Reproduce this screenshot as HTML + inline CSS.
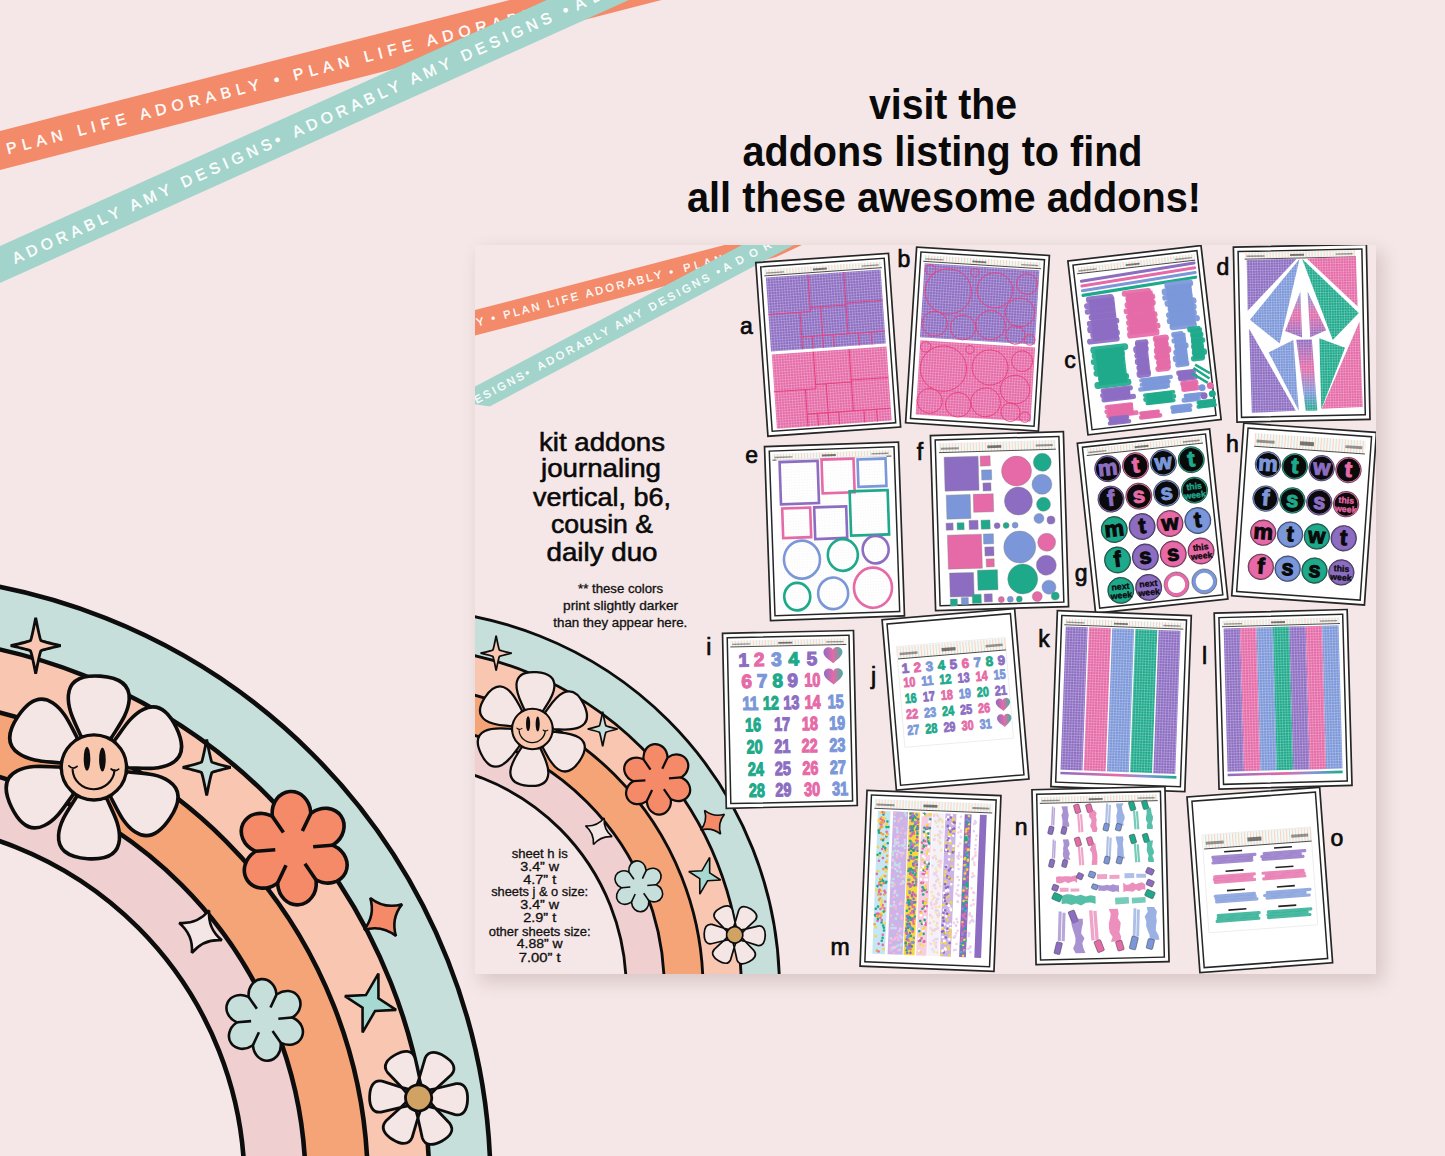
<!DOCTYPE html><html><head><meta charset="utf-8"><style>html,body{margin:0;padding:0;width:1445px;height:1156px;overflow:hidden;background:#f5e7e7}svg{display:block}text{font-family:"Liberation Sans",sans-serif}</style></head><body>
<svg width="1445" height="1156" viewBox="0 0 1445 1156">
<defs><filter id="sh" x="-10%" y="-10%" width="120%" height="120%"><feGaussianBlur stdDeviation="9"/></filter>
<clipPath id="cardclip"><rect x="475" y="245" width="901" height="729"/></clipPath>
<pattern id="gP" width="2.6" height="2.6" patternUnits="userSpaceOnUse"><rect width="2.6" height="2.6" fill="#8c6dc2"/><path d="M0,0.3H2.6M0.3,0V2.6" stroke="#fff" stroke-opacity=".42" stroke-width=".55"/></pattern>
<pattern id="gK" width="2.6" height="2.6" patternUnits="userSpaceOnUse"><rect width="2.6" height="2.6" fill="#e56aa7"/><path d="M0,0.3H2.6M0.3,0V2.6" stroke="#fff" stroke-opacity=".42" stroke-width=".55"/></pattern>
<pattern id="gB" width="2.6" height="2.6" patternUnits="userSpaceOnUse"><rect width="2.6" height="2.6" fill="#7b97d9"/><path d="M0,0.3H2.6M0.3,0V2.6" stroke="#fff" stroke-opacity=".42" stroke-width=".55"/></pattern>
<pattern id="gG" width="2.6" height="2.6" patternUnits="userSpaceOnUse"><rect width="2.6" height="2.6" fill="#1ea98b"/><path d="M0,0.3H2.6M0.3,0V2.6" stroke="#fff" stroke-opacity=".42" stroke-width=".55"/></pattern>
<pattern id="gW" width="2.6" height="2.6" patternUnits="userSpaceOnUse"><rect width="2.6" height="2.6" fill="#fff"/><path d="M0,0.3H2.6M0.3,0V2.6" stroke="#999" stroke-opacity=".3" stroke-width=".4"/></pattern>
<pattern id="gX" width="2.6" height="2.6" patternUnits="userSpaceOnUse"><path d="M0,0.3H2.6M0.3,0V2.6" stroke="#fff" stroke-opacity=".42" stroke-width=".55"/></pattern>
<pattern id="hdr" width="6" height="8" patternUnits="userSpaceOnUse"><rect width="6" height="8" fill="#fdf6f2"/><rect x="0" width="1.2" height="8" fill="#f6c9b3"/><rect x="3" width="1.2" height="8" fill="#bfe3dc"/></pattern>
<linearGradient id="grad1" x1="0" x2="1"><stop offset="0" stop-color="#8c6dc2"/><stop offset=".5" stop-color="#e56aa7"/><stop offset=".75" stop-color="#7b97d9"/><stop offset="1" stop-color="#1ea98b"/></linearGradient>
<linearGradient id="heart" x1="0" x2="1"><stop offset="0" stop-color="#8c6dc2"/><stop offset=".5" stop-color="#e56aa7"/><stop offset="1" stop-color="#3fb3a0"/></linearGradient>
<linearGradient id="vg1" x1="0" y1="0" x2="0" y2="1"><stop offset="0" stop-color="#7b97d9"/><stop offset=".5" stop-color="#e56aa7"/><stop offset="1" stop-color="#8c6dc2"/></linearGradient>
<linearGradient id="vg2" x1="0" y1="0" x2="0" y2="1"><stop offset="0" stop-color="#8c6dc2"/><stop offset=".4" stop-color="#e56aa7"/><stop offset=".75" stop-color="#7b97d9"/><stop offset="1" stop-color="#1ea98b"/></linearGradient>
</defs>
<rect width="1445" height="1156" fill="#f5e7e7"/>
<polygon points="-10,133.57 700,-48.900000000000006 700,-9.900000000000006 -10,172.57" fill="#f38a69"/>
<text transform="translate(7.9,154.2) rotate(-14.41)" font-size="15.5" fill="#fff" stroke="#fff" stroke-width="0.39" textLength="281.4" lengthAdjust="spacing">PLAN LIFE ADORABLY •</text>
<text transform="translate(294.7,80.5) rotate(-14.41)" font-size="15.5" fill="#fff" stroke="#fff" stroke-width="0.39" textLength="281.6" lengthAdjust="spacing">PLAN LIFE ADORABLY •</text>
<text transform="translate(581.4,6.8) rotate(-14.41)" font-size="15.5" fill="#fff" stroke="#fff" stroke-width="0.39" textLength="278.8" lengthAdjust="spacing">PLAN LIFE ADORABLY</text>
<polygon points="-10,250.5 700,-69.0 700,-32.0 -10,287.5" fill="#a3d4cb"/>
<text transform="translate(15.3,264.0) rotate(-24.28)" font-size="15.5" fill="#fff" stroke="#fff" stroke-width="0.39" textLength="292.9" lengthAdjust="spacing">ADORABLY AMY DESIGNS•</text>
<text transform="translate(295.3,137.7) rotate(-24.28)" font-size="15.5" fill="#fff" stroke="#fff" stroke-width="0.39" textLength="301.7" lengthAdjust="spacing">ADORABLY AMY DESIGNS •</text>
<text transform="translate(577.3,10.5) rotate(-24.28)" font-size="15.5" fill="#fff" stroke="#fff" stroke-width="0.39" textLength="202.9" lengthAdjust="spacing">ADORABLY AMY</text>
<circle cx="-118.5" cy="1184.4" r="609" fill="#c6dfdb" stroke="#0d0d0d" stroke-width="4.6"/>
<circle cx="-118.5" cy="1184.4" r="547.8" fill="#f9c7b1" stroke="#0d0d0d" stroke-width="4.6"/>
<circle cx="-118.5" cy="1184.4" r="486.3" fill="#f5a477" stroke="#0d0d0d" stroke-width="4.6"/>
<circle cx="-118.5" cy="1184.4" r="424.1" fill="#efcfcf" stroke="#0d0d0d" stroke-width="4.6"/>
<circle cx="-118.5" cy="1184.4" r="363" fill="#f5e7e7" stroke="#0d0d0d" stroke-width="4.6"/>
<path transform="translate(35.7,645.7) rotate(0)" d="M0,-28 Q4.16,-6.760000000000001 5.2,-5.2 Q6.760000000000001,-4.16 25,0 Q6.760000000000001,4.16 5.2,5.2 Q4.16,6.760000000000001 0,28 Q-4.16,6.760000000000001 -5.2,5.2 Q-6.760000000000001,4.16 -25,0 Q-6.760000000000001,-4.16 -5.2,-5.2 Q-4.16,-6.760000000000001 0,-28 Z" fill="#f9c7b1" stroke="#0d0d0d" stroke-width="2.8" stroke-linejoin="miter" stroke-miterlimit="2"/>
<path transform="translate(206.7,767.4) rotate(0)" d="M0,-28 Q4.16,-6.760000000000001 5.2,-5.2 Q6.760000000000001,-4.16 24,0 Q6.760000000000001,4.16 5.2,5.2 Q4.16,6.760000000000001 0,28 Q-4.16,6.760000000000001 -5.2,5.2 Q-6.760000000000001,4.16 -24,0 Q-6.760000000000001,-4.16 -5.2,-5.2 Q-4.16,-6.760000000000001 0,-28 Z" fill="#c6dfdb" stroke="#0d0d0d" stroke-width="2.8" stroke-linejoin="miter" stroke-miterlimit="2"/>
<g transform="translate(93.9,767.4)">
<g transform="rotate(4)">
<path transform="rotate(0)" d="M-15,-30 C-21,-42 -30.5,-55 -30.5,-70 C-30.5,-85 -19,-91.5 0,-91.5 C19,-91.5 30.5,-85 30.5,-70 C30.5,-55 21,-42 15,-30 Z" fill="#f5e6e6" stroke="#0d0d0d" stroke-width="3.6" stroke-linejoin="round"/>
<path transform="rotate(60)" d="M-15,-30 C-21,-42 -30.5,-55 -30.5,-70 C-30.5,-85 -19,-91.5 0,-91.5 C19,-91.5 30.5,-85 30.5,-70 C30.5,-55 21,-42 15,-30 Z" fill="#f5e6e6" stroke="#0d0d0d" stroke-width="3.6" stroke-linejoin="round"/>
<path transform="rotate(120)" d="M-15,-30 C-21,-42 -30.5,-55 -30.5,-70 C-30.5,-85 -19,-91.5 0,-91.5 C19,-91.5 30.5,-85 30.5,-70 C30.5,-55 21,-42 15,-30 Z" fill="#f5e6e6" stroke="#0d0d0d" stroke-width="3.6" stroke-linejoin="round"/>
<path transform="rotate(180)" d="M-15,-30 C-21,-42 -30.5,-55 -30.5,-70 C-30.5,-85 -19,-91.5 0,-91.5 C19,-91.5 30.5,-85 30.5,-70 C30.5,-55 21,-42 15,-30 Z" fill="#f5e6e6" stroke="#0d0d0d" stroke-width="3.6" stroke-linejoin="round"/>
<path transform="rotate(240)" d="M-15,-30 C-21,-42 -30.5,-55 -30.5,-70 C-30.5,-85 -19,-91.5 0,-91.5 C19,-91.5 30.5,-85 30.5,-70 C30.5,-55 21,-42 15,-30 Z" fill="#f5e6e6" stroke="#0d0d0d" stroke-width="3.6" stroke-linejoin="round"/>
<path transform="rotate(300)" d="M-15,-30 C-21,-42 -30.5,-55 -30.5,-70 C-30.5,-85 -19,-91.5 0,-91.5 C19,-91.5 30.5,-85 30.5,-70 C30.5,-55 21,-42 15,-30 Z" fill="#f5e6e6" stroke="#0d0d0d" stroke-width="3.6" stroke-linejoin="round"/>
</g>
<circle r="32.6" fill="#f9c6ae" stroke="#0d0d0d" stroke-width="3.3"/>
<ellipse cx="-6.9" cy="-8.6" rx="3.3" ry="12" fill="#0d0d0d"/>
<ellipse cx="8.5" cy="-8" rx="3.3" ry="12" fill="#0d0d0d"/>
<path d="M-21.3,2.5 A21,20.5 0 0 0 20.6,3" fill="none" stroke="#0d0d0d" stroke-width="2.1" stroke-linecap="round"/>
<path d="M-25,-1.5 Q-21,2.5 -16.8,-1 M17.2,1.6 Q21,4.8 24.8,1.8" fill="none" stroke="#0d0d0d" stroke-width="1.7" stroke-linecap="round"/>
</g>
<g transform="translate(294.2,848.2) rotate(-4.5)">
<ellipse cx="0" cy="-35.00" rx="17.50" ry="20.00" transform="rotate(0)" fill="#f48a68" stroke="#0d0d0d" stroke-width="7.20"/>
<ellipse cx="0" cy="-35.00" rx="17.50" ry="20.00" transform="rotate(60)" fill="#f48a68" stroke="#0d0d0d" stroke-width="7.20"/>
<ellipse cx="0" cy="-35.00" rx="17.50" ry="20.00" transform="rotate(120)" fill="#f48a68" stroke="#0d0d0d" stroke-width="7.20"/>
<ellipse cx="0" cy="-35.00" rx="17.50" ry="20.00" transform="rotate(180)" fill="#f48a68" stroke="#0d0d0d" stroke-width="7.20"/>
<ellipse cx="0" cy="-35.00" rx="17.50" ry="20.00" transform="rotate(240)" fill="#f48a68" stroke="#0d0d0d" stroke-width="7.20"/>
<ellipse cx="0" cy="-35.00" rx="17.50" ry="20.00" transform="rotate(300)" fill="#f48a68" stroke="#0d0d0d" stroke-width="7.20"/>
<ellipse cx="0" cy="-35.00" rx="17.50" ry="20.00" transform="rotate(0)" fill="#f48a68"/>
<ellipse cx="0" cy="-35.00" rx="17.50" ry="20.00" transform="rotate(60)" fill="#f48a68"/>
<ellipse cx="0" cy="-35.00" rx="17.50" ry="20.00" transform="rotate(120)" fill="#f48a68"/>
<ellipse cx="0" cy="-35.00" rx="17.50" ry="20.00" transform="rotate(180)" fill="#f48a68"/>
<ellipse cx="0" cy="-35.00" rx="17.50" ry="20.00" transform="rotate(240)" fill="#f48a68"/>
<ellipse cx="0" cy="-35.00" rx="17.50" ry="20.00" transform="rotate(300)" fill="#f48a68"/>
<circle r="33.00" fill="#f48a68"/>
<line x1="9.50" y1="-16.45" x2="19.00" y2="-32.91" stroke="#0d0d0d" stroke-width="3.60" stroke-linecap="butt"/>
<line x1="19.00" y1="0.00" x2="38.00" y2="0.00" stroke="#0d0d0d" stroke-width="3.60" stroke-linecap="butt"/>
<line x1="9.50" y1="16.45" x2="19.00" y2="32.91" stroke="#0d0d0d" stroke-width="3.60" stroke-linecap="butt"/>
<line x1="-9.50" y1="16.45" x2="-19.00" y2="32.91" stroke="#0d0d0d" stroke-width="3.60" stroke-linecap="butt"/>
<line x1="-19.00" y1="0.00" x2="-38.00" y2="0.00" stroke="#0d0d0d" stroke-width="3.60" stroke-linecap="butt"/>
<line x1="-9.50" y1="-16.45" x2="-19.00" y2="-32.91" stroke="#0d0d0d" stroke-width="3.60" stroke-linecap="butt"/>
</g>
<path transform="translate(383.1,917) rotate(56)" d="M0,-23 Q5.5,-5.5 23,0 Q5.5,5.5 0,23 Q-5.5,5.5 -23,0 Q-5.5,-5.5 0,-23 Z" fill="#f48a68" stroke="#0d0d0d" stroke-width="2.6" stroke-linejoin="miter" stroke-miterlimit="2"/>
<path transform="translate(200.5,931.6) rotate(22)" d="M0,-23 Q5.5,-5.5 23,0 Q5.5,5.5 0,23 Q-5.5,5.5 -23,0 Q-5.5,-5.5 0,-23 Z" fill="#f5e6e6" stroke="#0d0d0d" stroke-width="2.6" stroke-linejoin="miter" stroke-miterlimit="2"/>
<path transform="translate(370.5,1003) rotate(15)" d="M0,-30.5 L6.5,-6.5 L26.5,0 L6.5,6.5 L0,30.5 L-6.5,6.5 L-26.5,0 L-6.5,-6.5 Z" fill="#a6d9d1" stroke="#0d0d0d" stroke-width="2.6" stroke-linejoin="miter" stroke-miterlimit="2"/>
<g transform="translate(264.7,1019.9) rotate(-5)">
<ellipse cx="0" cy="-25.20" rx="12.60" ry="14.40" transform="rotate(0)" fill="#c6dfdb" stroke="#0d0d0d" stroke-width="5.18"/>
<ellipse cx="0" cy="-25.20" rx="12.60" ry="14.40" transform="rotate(60)" fill="#c6dfdb" stroke="#0d0d0d" stroke-width="5.18"/>
<ellipse cx="0" cy="-25.20" rx="12.60" ry="14.40" transform="rotate(120)" fill="#c6dfdb" stroke="#0d0d0d" stroke-width="5.18"/>
<ellipse cx="0" cy="-25.20" rx="12.60" ry="14.40" transform="rotate(180)" fill="#c6dfdb" stroke="#0d0d0d" stroke-width="5.18"/>
<ellipse cx="0" cy="-25.20" rx="12.60" ry="14.40" transform="rotate(240)" fill="#c6dfdb" stroke="#0d0d0d" stroke-width="5.18"/>
<ellipse cx="0" cy="-25.20" rx="12.60" ry="14.40" transform="rotate(300)" fill="#c6dfdb" stroke="#0d0d0d" stroke-width="5.18"/>
<ellipse cx="0" cy="-25.20" rx="12.60" ry="14.40" transform="rotate(0)" fill="#c6dfdb"/>
<ellipse cx="0" cy="-25.20" rx="12.60" ry="14.40" transform="rotate(60)" fill="#c6dfdb"/>
<ellipse cx="0" cy="-25.20" rx="12.60" ry="14.40" transform="rotate(120)" fill="#c6dfdb"/>
<ellipse cx="0" cy="-25.20" rx="12.60" ry="14.40" transform="rotate(180)" fill="#c6dfdb"/>
<ellipse cx="0" cy="-25.20" rx="12.60" ry="14.40" transform="rotate(240)" fill="#c6dfdb"/>
<ellipse cx="0" cy="-25.20" rx="12.60" ry="14.40" transform="rotate(300)" fill="#c6dfdb"/>
<circle r="23.76" fill="#c6dfdb"/>
<line x1="6.84" y1="-11.85" x2="13.68" y2="-23.69" stroke="#0d0d0d" stroke-width="2.59" stroke-linecap="butt"/>
<line x1="13.68" y1="0.00" x2="27.36" y2="0.00" stroke="#0d0d0d" stroke-width="2.59" stroke-linecap="butt"/>
<line x1="6.84" y1="11.85" x2="13.68" y2="23.69" stroke="#0d0d0d" stroke-width="2.59" stroke-linecap="butt"/>
<line x1="-6.84" y1="11.85" x2="-13.68" y2="23.69" stroke="#0d0d0d" stroke-width="2.59" stroke-linecap="butt"/>
<line x1="-13.68" y1="0.00" x2="-27.36" y2="0.00" stroke="#0d0d0d" stroke-width="2.59" stroke-linecap="butt"/>
<line x1="-6.84" y1="-11.85" x2="-13.68" y2="-23.69" stroke="#0d0d0d" stroke-width="2.59" stroke-linecap="butt"/>
</g>
<g transform="translate(418.6,1097.9) rotate(32)">
<path transform="rotate(0)" d="M0,-8 L-10,-17.3 L-15.5,-37 C-17,-46 -9,-49 0,-49 C9,-49 17,-46 15.5,-37 L10,-17.3 Z" fill="#f5e6e6" stroke="#0d0d0d" stroke-width="2.8" stroke-linejoin="round"/>
<path transform="rotate(60)" d="M0,-8 L-10,-17.3 L-15.5,-37 C-17,-46 -9,-49 0,-49 C9,-49 17,-46 15.5,-37 L10,-17.3 Z" fill="#f5e6e6" stroke="#0d0d0d" stroke-width="2.8" stroke-linejoin="round"/>
<path transform="rotate(120)" d="M0,-8 L-10,-17.3 L-15.5,-37 C-17,-46 -9,-49 0,-49 C9,-49 17,-46 15.5,-37 L10,-17.3 Z" fill="#f5e6e6" stroke="#0d0d0d" stroke-width="2.8" stroke-linejoin="round"/>
<path transform="rotate(180)" d="M0,-8 L-10,-17.3 L-15.5,-37 C-17,-46 -9,-49 0,-49 C9,-49 17,-46 15.5,-37 L10,-17.3 Z" fill="#f5e6e6" stroke="#0d0d0d" stroke-width="2.8" stroke-linejoin="round"/>
<path transform="rotate(240)" d="M0,-8 L-10,-17.3 L-15.5,-37 C-17,-46 -9,-49 0,-49 C9,-49 17,-46 15.5,-37 L10,-17.3 Z" fill="#f5e6e6" stroke="#0d0d0d" stroke-width="2.8" stroke-linejoin="round"/>
<path transform="rotate(300)" d="M0,-8 L-10,-17.3 L-15.5,-37 C-17,-46 -9,-49 0,-49 C9,-49 17,-46 15.5,-37 L10,-17.3 Z" fill="#f5e6e6" stroke="#0d0d0d" stroke-width="2.8" stroke-linejoin="round"/>
<circle r="13.1" fill="#d0a264" stroke="#0d0d0d" stroke-width="2.8"/>
</g>
<g fill="#0a0a0a" font-weight="bold" text-anchor="middle" font-size="42">
<text x="943" y="119" textLength="148" lengthAdjust="spacingAndGlyphs">visit the</text>
<text x="942.5" y="166" textLength="400" lengthAdjust="spacingAndGlyphs">addons listing to find</text>
<text x="944" y="211.5" textLength="514" lengthAdjust="spacingAndGlyphs">all these awesome addons!</text></g>
<rect x="480" y="251" width="903" height="731" fill="#5a3a3a" opacity="0.19" filter="url(#sh)"/>
<rect x="475" y="245" width="901" height="729" fill="#f5e7e7"/>
<g clip-path="url(#cardclip)">
<polygon points="470,311.3 900,199.3 776,257.1 470,336.8" fill="#f38a69"/>
<text transform="translate(477.5,326.2) rotate(-14.60)" font-size="11" fill="#fff" stroke="#fff" stroke-width="0.28" textLength="19.1" lengthAdjust="spacing">Y •</text>
<text transform="translate(504.5,319.1) rotate(-14.60)" font-size="11" fill="#fff" stroke="#fff" stroke-width="0.28" textLength="175.2" lengthAdjust="spacing">PLAN LIFE ADORABLY •</text>
<text transform="translate(684.5,272.3) rotate(-14.60)" font-size="11" fill="#fff" stroke="#fff" stroke-width="0.28" textLength="182.4" lengthAdjust="spacing">PLAN LIFE ADORABLY</text>
<polygon points="470,389.1 900,161.2 900,188.9 489.7,406.4 470,403.5" fill="#a3d4cb"/>
<text transform="translate(476.8,403.8) rotate(-27.92)" font-size="11" fill="#fff" stroke="#fff" stroke-width="0.28" textLength="61.1" lengthAdjust="spacing">ESIGNS•</text>
<text transform="translate(539.4,370.6) rotate(-27.92)" font-size="11" fill="#fff" stroke="#fff" stroke-width="0.28" textLength="206.4" lengthAdjust="spacing">ADORABLY AMY DESIGNS •</text>
<text transform="translate(725.3,272.1) rotate(-27.92)" font-size="11" fill="#fff" stroke="#fff" stroke-width="0.28" textLength="109.2" lengthAdjust="spacing">ADORABLY</text>
<g transform="translate(473.9,250.9) scale(0.623)"><circle cx="-118.5" cy="1184.4" r="609" fill="#c6dfdb" stroke="#0d0d0d" stroke-width="4.6"/>
<circle cx="-118.5" cy="1184.4" r="547.8" fill="#f9c7b1" stroke="#0d0d0d" stroke-width="4.6"/>
<circle cx="-118.5" cy="1184.4" r="486.3" fill="#f5a477" stroke="#0d0d0d" stroke-width="4.6"/>
<circle cx="-118.5" cy="1184.4" r="424.1" fill="#efcfcf" stroke="#0d0d0d" stroke-width="4.6"/>
<circle cx="-118.5" cy="1184.4" r="363" fill="#f5e7e7" stroke="#0d0d0d" stroke-width="4.6"/>
<path transform="translate(35.7,645.7) rotate(0)" d="M0,-28 Q4.16,-6.760000000000001 5.2,-5.2 Q6.760000000000001,-4.16 25,0 Q6.760000000000001,4.16 5.2,5.2 Q4.16,6.760000000000001 0,28 Q-4.16,6.760000000000001 -5.2,5.2 Q-6.760000000000001,4.16 -25,0 Q-6.760000000000001,-4.16 -5.2,-5.2 Q-4.16,-6.760000000000001 0,-28 Z" fill="#f9c7b1" stroke="#0d0d0d" stroke-width="2.8" stroke-linejoin="miter" stroke-miterlimit="2"/>
<path transform="translate(206.7,767.4) rotate(0)" d="M0,-28 Q4.16,-6.760000000000001 5.2,-5.2 Q6.760000000000001,-4.16 24,0 Q6.760000000000001,4.16 5.2,5.2 Q4.16,6.760000000000001 0,28 Q-4.16,6.760000000000001 -5.2,5.2 Q-6.760000000000001,4.16 -24,0 Q-6.760000000000001,-4.16 -5.2,-5.2 Q-4.16,-6.760000000000001 0,-28 Z" fill="#c6dfdb" stroke="#0d0d0d" stroke-width="2.8" stroke-linejoin="miter" stroke-miterlimit="2"/>
<g transform="translate(93.9,767.4)">
<g transform="rotate(4)">
<path transform="rotate(0)" d="M-15,-30 C-21,-42 -30.5,-55 -30.5,-70 C-30.5,-85 -19,-91.5 0,-91.5 C19,-91.5 30.5,-85 30.5,-70 C30.5,-55 21,-42 15,-30 Z" fill="#f5e6e6" stroke="#0d0d0d" stroke-width="3.6" stroke-linejoin="round"/>
<path transform="rotate(60)" d="M-15,-30 C-21,-42 -30.5,-55 -30.5,-70 C-30.5,-85 -19,-91.5 0,-91.5 C19,-91.5 30.5,-85 30.5,-70 C30.5,-55 21,-42 15,-30 Z" fill="#f5e6e6" stroke="#0d0d0d" stroke-width="3.6" stroke-linejoin="round"/>
<path transform="rotate(120)" d="M-15,-30 C-21,-42 -30.5,-55 -30.5,-70 C-30.5,-85 -19,-91.5 0,-91.5 C19,-91.5 30.5,-85 30.5,-70 C30.5,-55 21,-42 15,-30 Z" fill="#f5e6e6" stroke="#0d0d0d" stroke-width="3.6" stroke-linejoin="round"/>
<path transform="rotate(180)" d="M-15,-30 C-21,-42 -30.5,-55 -30.5,-70 C-30.5,-85 -19,-91.5 0,-91.5 C19,-91.5 30.5,-85 30.5,-70 C30.5,-55 21,-42 15,-30 Z" fill="#f5e6e6" stroke="#0d0d0d" stroke-width="3.6" stroke-linejoin="round"/>
<path transform="rotate(240)" d="M-15,-30 C-21,-42 -30.5,-55 -30.5,-70 C-30.5,-85 -19,-91.5 0,-91.5 C19,-91.5 30.5,-85 30.5,-70 C30.5,-55 21,-42 15,-30 Z" fill="#f5e6e6" stroke="#0d0d0d" stroke-width="3.6" stroke-linejoin="round"/>
<path transform="rotate(300)" d="M-15,-30 C-21,-42 -30.5,-55 -30.5,-70 C-30.5,-85 -19,-91.5 0,-91.5 C19,-91.5 30.5,-85 30.5,-70 C30.5,-55 21,-42 15,-30 Z" fill="#f5e6e6" stroke="#0d0d0d" stroke-width="3.6" stroke-linejoin="round"/>
</g>
<circle r="32.6" fill="#f9c6ae" stroke="#0d0d0d" stroke-width="3.3"/>
<ellipse cx="-6.9" cy="-8.6" rx="3.3" ry="12" fill="#0d0d0d"/>
<ellipse cx="8.5" cy="-8" rx="3.3" ry="12" fill="#0d0d0d"/>
<path d="M-21.3,2.5 A21,20.5 0 0 0 20.6,3" fill="none" stroke="#0d0d0d" stroke-width="2.1" stroke-linecap="round"/>
<path d="M-25,-1.5 Q-21,2.5 -16.8,-1 M17.2,1.6 Q21,4.8 24.8,1.8" fill="none" stroke="#0d0d0d" stroke-width="1.7" stroke-linecap="round"/>
</g>
<g transform="translate(294.2,848.2) rotate(-4.5)">
<ellipse cx="0" cy="-35.00" rx="17.50" ry="20.00" transform="rotate(0)" fill="#f48a68" stroke="#0d0d0d" stroke-width="7.20"/>
<ellipse cx="0" cy="-35.00" rx="17.50" ry="20.00" transform="rotate(60)" fill="#f48a68" stroke="#0d0d0d" stroke-width="7.20"/>
<ellipse cx="0" cy="-35.00" rx="17.50" ry="20.00" transform="rotate(120)" fill="#f48a68" stroke="#0d0d0d" stroke-width="7.20"/>
<ellipse cx="0" cy="-35.00" rx="17.50" ry="20.00" transform="rotate(180)" fill="#f48a68" stroke="#0d0d0d" stroke-width="7.20"/>
<ellipse cx="0" cy="-35.00" rx="17.50" ry="20.00" transform="rotate(240)" fill="#f48a68" stroke="#0d0d0d" stroke-width="7.20"/>
<ellipse cx="0" cy="-35.00" rx="17.50" ry="20.00" transform="rotate(300)" fill="#f48a68" stroke="#0d0d0d" stroke-width="7.20"/>
<ellipse cx="0" cy="-35.00" rx="17.50" ry="20.00" transform="rotate(0)" fill="#f48a68"/>
<ellipse cx="0" cy="-35.00" rx="17.50" ry="20.00" transform="rotate(60)" fill="#f48a68"/>
<ellipse cx="0" cy="-35.00" rx="17.50" ry="20.00" transform="rotate(120)" fill="#f48a68"/>
<ellipse cx="0" cy="-35.00" rx="17.50" ry="20.00" transform="rotate(180)" fill="#f48a68"/>
<ellipse cx="0" cy="-35.00" rx="17.50" ry="20.00" transform="rotate(240)" fill="#f48a68"/>
<ellipse cx="0" cy="-35.00" rx="17.50" ry="20.00" transform="rotate(300)" fill="#f48a68"/>
<circle r="33.00" fill="#f48a68"/>
<line x1="9.50" y1="-16.45" x2="19.00" y2="-32.91" stroke="#0d0d0d" stroke-width="3.60" stroke-linecap="butt"/>
<line x1="19.00" y1="0.00" x2="38.00" y2="0.00" stroke="#0d0d0d" stroke-width="3.60" stroke-linecap="butt"/>
<line x1="9.50" y1="16.45" x2="19.00" y2="32.91" stroke="#0d0d0d" stroke-width="3.60" stroke-linecap="butt"/>
<line x1="-9.50" y1="16.45" x2="-19.00" y2="32.91" stroke="#0d0d0d" stroke-width="3.60" stroke-linecap="butt"/>
<line x1="-19.00" y1="0.00" x2="-38.00" y2="0.00" stroke="#0d0d0d" stroke-width="3.60" stroke-linecap="butt"/>
<line x1="-9.50" y1="-16.45" x2="-19.00" y2="-32.91" stroke="#0d0d0d" stroke-width="3.60" stroke-linecap="butt"/>
</g>
<path transform="translate(383.1,917) rotate(56)" d="M0,-23 Q5.5,-5.5 23,0 Q5.5,5.5 0,23 Q-5.5,5.5 -23,0 Q-5.5,-5.5 0,-23 Z" fill="#f48a68" stroke="#0d0d0d" stroke-width="2.6" stroke-linejoin="miter" stroke-miterlimit="2"/>
<path transform="translate(200.5,931.6) rotate(22)" d="M0,-23 Q5.5,-5.5 23,0 Q5.5,5.5 0,23 Q-5.5,5.5 -23,0 Q-5.5,-5.5 0,-23 Z" fill="#f5e6e6" stroke="#0d0d0d" stroke-width="2.6" stroke-linejoin="miter" stroke-miterlimit="2"/>
<path transform="translate(370.5,1003) rotate(15)" d="M0,-30.5 L6.5,-6.5 L26.5,0 L6.5,6.5 L0,30.5 L-6.5,6.5 L-26.5,0 L-6.5,-6.5 Z" fill="#a6d9d1" stroke="#0d0d0d" stroke-width="2.6" stroke-linejoin="miter" stroke-miterlimit="2"/>
<g transform="translate(264.7,1019.9) rotate(-5)">
<ellipse cx="0" cy="-25.20" rx="12.60" ry="14.40" transform="rotate(0)" fill="#c6dfdb" stroke="#0d0d0d" stroke-width="5.18"/>
<ellipse cx="0" cy="-25.20" rx="12.60" ry="14.40" transform="rotate(60)" fill="#c6dfdb" stroke="#0d0d0d" stroke-width="5.18"/>
<ellipse cx="0" cy="-25.20" rx="12.60" ry="14.40" transform="rotate(120)" fill="#c6dfdb" stroke="#0d0d0d" stroke-width="5.18"/>
<ellipse cx="0" cy="-25.20" rx="12.60" ry="14.40" transform="rotate(180)" fill="#c6dfdb" stroke="#0d0d0d" stroke-width="5.18"/>
<ellipse cx="0" cy="-25.20" rx="12.60" ry="14.40" transform="rotate(240)" fill="#c6dfdb" stroke="#0d0d0d" stroke-width="5.18"/>
<ellipse cx="0" cy="-25.20" rx="12.60" ry="14.40" transform="rotate(300)" fill="#c6dfdb" stroke="#0d0d0d" stroke-width="5.18"/>
<ellipse cx="0" cy="-25.20" rx="12.60" ry="14.40" transform="rotate(0)" fill="#c6dfdb"/>
<ellipse cx="0" cy="-25.20" rx="12.60" ry="14.40" transform="rotate(60)" fill="#c6dfdb"/>
<ellipse cx="0" cy="-25.20" rx="12.60" ry="14.40" transform="rotate(120)" fill="#c6dfdb"/>
<ellipse cx="0" cy="-25.20" rx="12.60" ry="14.40" transform="rotate(180)" fill="#c6dfdb"/>
<ellipse cx="0" cy="-25.20" rx="12.60" ry="14.40" transform="rotate(240)" fill="#c6dfdb"/>
<ellipse cx="0" cy="-25.20" rx="12.60" ry="14.40" transform="rotate(300)" fill="#c6dfdb"/>
<circle r="23.76" fill="#c6dfdb"/>
<line x1="6.84" y1="-11.85" x2="13.68" y2="-23.69" stroke="#0d0d0d" stroke-width="2.59" stroke-linecap="butt"/>
<line x1="13.68" y1="0.00" x2="27.36" y2="0.00" stroke="#0d0d0d" stroke-width="2.59" stroke-linecap="butt"/>
<line x1="6.84" y1="11.85" x2="13.68" y2="23.69" stroke="#0d0d0d" stroke-width="2.59" stroke-linecap="butt"/>
<line x1="-6.84" y1="11.85" x2="-13.68" y2="23.69" stroke="#0d0d0d" stroke-width="2.59" stroke-linecap="butt"/>
<line x1="-13.68" y1="0.00" x2="-27.36" y2="0.00" stroke="#0d0d0d" stroke-width="2.59" stroke-linecap="butt"/>
<line x1="-6.84" y1="-11.85" x2="-13.68" y2="-23.69" stroke="#0d0d0d" stroke-width="2.59" stroke-linecap="butt"/>
</g>
<g transform="translate(418.6,1097.9) rotate(32)">
<path transform="rotate(0)" d="M0,-8 L-10,-17.3 L-15.5,-37 C-17,-46 -9,-49 0,-49 C9,-49 17,-46 15.5,-37 L10,-17.3 Z" fill="#f5e6e6" stroke="#0d0d0d" stroke-width="2.8" stroke-linejoin="round"/>
<path transform="rotate(60)" d="M0,-8 L-10,-17.3 L-15.5,-37 C-17,-46 -9,-49 0,-49 C9,-49 17,-46 15.5,-37 L10,-17.3 Z" fill="#f5e6e6" stroke="#0d0d0d" stroke-width="2.8" stroke-linejoin="round"/>
<path transform="rotate(120)" d="M0,-8 L-10,-17.3 L-15.5,-37 C-17,-46 -9,-49 0,-49 C9,-49 17,-46 15.5,-37 L10,-17.3 Z" fill="#f5e6e6" stroke="#0d0d0d" stroke-width="2.8" stroke-linejoin="round"/>
<path transform="rotate(180)" d="M0,-8 L-10,-17.3 L-15.5,-37 C-17,-46 -9,-49 0,-49 C9,-49 17,-46 15.5,-37 L10,-17.3 Z" fill="#f5e6e6" stroke="#0d0d0d" stroke-width="2.8" stroke-linejoin="round"/>
<path transform="rotate(240)" d="M0,-8 L-10,-17.3 L-15.5,-37 C-17,-46 -9,-49 0,-49 C9,-49 17,-46 15.5,-37 L10,-17.3 Z" fill="#f5e6e6" stroke="#0d0d0d" stroke-width="2.8" stroke-linejoin="round"/>
<path transform="rotate(300)" d="M0,-8 L-10,-17.3 L-15.5,-37 C-17,-46 -9,-49 0,-49 C9,-49 17,-46 15.5,-37 L10,-17.3 Z" fill="#f5e6e6" stroke="#0d0d0d" stroke-width="2.8" stroke-linejoin="round"/>
<circle r="13.1" fill="#d0a264" stroke="#0d0d0d" stroke-width="2.8"/>
</g></g>
<g fill="#0a0a0a" stroke="#0a0a0a" stroke-width="0.55" text-anchor="middle" font-size="25">
<text x="602" y="450.8" textLength="126" lengthAdjust="spacingAndGlyphs">kit addons</text>
<text x="601" y="477" textLength="120" lengthAdjust="spacingAndGlyphs">journaling</text>
<text x="602" y="505.6" textLength="138" lengthAdjust="spacingAndGlyphs">vertical, b6,</text>
<text x="602" y="533" textLength="102" lengthAdjust="spacingAndGlyphs">cousin &amp;</text>
<text x="602" y="560.8" textLength="111" lengthAdjust="spacingAndGlyphs">daily duo</text>
</g><g fill="#111" stroke="#111" stroke-width="0.3" text-anchor="middle" font-size="12.5">
<text x="620.6" y="593.2" textLength="85" lengthAdjust="spacingAndGlyphs">** these colors</text>
<text x="620.6" y="610.3" textLength="115" lengthAdjust="spacingAndGlyphs">print slightly darker</text>
<text x="620.3" y="627" textLength="134" lengthAdjust="spacingAndGlyphs">than they appear here.</text>
</g><g fill="#111" stroke="#111" stroke-width="0.3" text-anchor="middle" font-size="12.5">
<text x="539.7" y="858.2" textLength="56" lengthAdjust="spacingAndGlyphs">sheet h is</text>
<text x="539.7" y="871.4" textLength="39" lengthAdjust="spacingAndGlyphs">3.4” w</text>
<text x="539.7" y="883.6" textLength="33" lengthAdjust="spacingAndGlyphs">4.7” t</text>
<text x="539.7" y="896" textLength="97" lengthAdjust="spacingAndGlyphs">sheets j &amp; o size:</text>
<text x="539.7" y="909" textLength="39" lengthAdjust="spacingAndGlyphs">3.4” w</text>
<text x="539.7" y="922.4" textLength="33" lengthAdjust="spacingAndGlyphs">2.9” t</text>
<text x="539.7" y="935.5" textLength="102" lengthAdjust="spacingAndGlyphs">other sheets size:</text>
<text x="539.7" y="948" textLength="46" lengthAdjust="spacingAndGlyphs">4.88” w</text>
<text x="539.7" y="961.8" textLength="42" lengthAdjust="spacingAndGlyphs">7.00” t</text>
</g>
<g transform="translate(828.2,344.8) rotate(-4.00) translate(-66.5,-87.0)">
<rect x="0" y="0" width="133" height="174" fill="#fff" stroke="#262626" stroke-width="1.7"/><rect x="4.6" y="4.6" width="123.8" height="164.8" fill="none" stroke="#262626" stroke-width="1.5"/>
<rect x="7.5" y="7.5" width="118.0" height="6" fill="url(#hdr)" opacity=".8"/>
<line x1="7.5" y1="13.8" x2="125.5" y2="13.8" stroke="#262626" stroke-width=".8"/>
<rect x="9.5" y="10.5" width="18" height="1.32" fill="#444" opacity=".55"/>
<rect x="56.5" y="9.9" width="14" height="1.7999999999999998" fill="#222" opacity=".6"/>
<rect x="105.5" y="10.2" width="17" height="1.32" fill="#444" opacity=".55"/>
<g transform="translate(9,15.5) scale(1.055,1.031) translate(-12,-20)">
<rect x="12" y="20" width="109" height="72" fill="url(#gP)"/>
<rect x="12.5" y="95" width="109" height="72" fill="url(#gK)"/>
<path d="M12,56H52 M52,20V56 M86,20V52 M86,50H121 M42,56V92 M62,52V80 M52,52H86 M42,80H121 M86,50V80 M52,80V92 M62,80V92 M72,80V92 M96,80V92 M108,80V92" stroke="#e8417e" stroke-width="1" fill="none"/>
<path d="M12,131H52 M52,95V131 M86,95V127 M86,125H121 M42,131V167 M62,127V155 M52,127H86 M42,155H121 M86,125V155 M52,155V167 M62,155V167 M72,155V167 M96,155V167 M108,155V167" stroke="#e8417e" stroke-width="1" fill="none"/>
</g>
</g>
<g transform="translate(977.5,339.1) rotate(3.60) translate(-66.5,-88.0)">
<rect x="0" y="0" width="133" height="176" fill="#fff" stroke="#262626" stroke-width="1.7"/><rect x="4.6" y="4.6" width="123.8" height="166.8" fill="none" stroke="#262626" stroke-width="1.5"/>
<rect x="7.5" y="7.5" width="118.0" height="6" fill="url(#hdr)" opacity=".8"/>
<line x1="7.5" y1="13.8" x2="125.5" y2="13.8" stroke="#262626" stroke-width=".8"/>
<rect x="9.5" y="10.5" width="18" height="1.32" fill="#444" opacity=".55"/>
<rect x="56.5" y="9.9" width="14" height="1.7999999999999998" fill="#222" opacity=".6"/>
<rect x="105.5" y="10.2" width="17" height="1.32" fill="#444" opacity=".55"/>
<g transform="translate(9,15.5) scale(1.055,1.031) translate(-12,-20)">
<rect x="12" y="20" width="109" height="72" fill="url(#gP)"/>
<rect x="12.5" y="95" width="109" height="72" fill="url(#gK)"/>
<circle cx="36" cy="46" r="22" fill="none" stroke="#e8417e" stroke-width=".9"/>
<circle cx="80" cy="42" r="17" fill="none" stroke="#e8417e" stroke-width=".9"/>
<circle cx="110" cy="34" r="10" fill="none" stroke="#e8417e" stroke-width=".9"/>
<circle cx="105" cy="62" r="14" fill="none" stroke="#e8417e" stroke-width=".9"/>
<circle cx="25" cy="78" r="12" fill="none" stroke="#e8417e" stroke-width=".9"/>
<circle cx="52" cy="80" r="12" fill="none" stroke="#e8417e" stroke-width=".9"/>
<circle cx="78" cy="76" r="14" fill="none" stroke="#e8417e" stroke-width=".9"/>
<circle cx="102" cy="84" r="9" fill="none" stroke="#e8417e" stroke-width=".9"/>
<circle cx="18" cy="26" r="5" fill="none" stroke="#e8417e" stroke-width=".9"/>
<circle cx="60" cy="26" r="4" fill="none" stroke="#e8417e" stroke-width=".9"/>
<circle cx="116" cy="88" r="5" fill="none" stroke="#e8417e" stroke-width=".9"/>
<circle cx="36" cy="121" r="22" fill="none" stroke="#e8417e" stroke-width=".9"/>
<circle cx="80" cy="117" r="17" fill="none" stroke="#e8417e" stroke-width=".9"/>
<circle cx="110" cy="109" r="10" fill="none" stroke="#e8417e" stroke-width=".9"/>
<circle cx="105" cy="137" r="14" fill="none" stroke="#e8417e" stroke-width=".9"/>
<circle cx="25" cy="153" r="12" fill="none" stroke="#e8417e" stroke-width=".9"/>
<circle cx="52" cy="155" r="12" fill="none" stroke="#e8417e" stroke-width=".9"/>
<circle cx="78" cy="151" r="14" fill="none" stroke="#e8417e" stroke-width=".9"/>
<circle cx="102" cy="159" r="9" fill="none" stroke="#e8417e" stroke-width=".9"/>
<circle cx="18" cy="101" r="5" fill="none" stroke="#e8417e" stroke-width=".9"/>
<circle cx="60" cy="101" r="4" fill="none" stroke="#e8417e" stroke-width=".9"/>
<circle cx="116" cy="163" r="5" fill="none" stroke="#e8417e" stroke-width=".9"/>
</g>
</g>
<g transform="translate(1144.5,340.2) rotate(-6.61) translate(-67.0,-87.5)">
<rect x="0" y="0" width="134" height="175" fill="#fff" stroke="#262626" stroke-width="1.7"/><rect x="4.6" y="4.6" width="124.8" height="165.8" fill="none" stroke="#262626" stroke-width="1.5"/>
<rect x="7.5" y="7.5" width="119.0" height="6" fill="url(#hdr)" opacity=".8"/>
<line x1="7.5" y1="13.8" x2="126.5" y2="13.8" stroke="#262626" stroke-width=".8"/>
<rect x="9.5" y="10.5" width="18" height="1.32" fill="#444" opacity=".55"/>
<rect x="57.0" y="9.9" width="14" height="1.7999999999999998" fill="#222" opacity=".6"/>
<rect x="106.5" y="10.2" width="17" height="1.32" fill="#444" opacity=".55"/>
<g transform="translate(9,15.5) scale(1.055,1.031) translate(-12,-20)">
<path d="M14,26.0 L122,21.0" stroke="#8c6dc2" stroke-width="3" stroke-linecap="round"/>
<path d="M14,30.6 L122,25.6" stroke="#e56aa7" stroke-width="3" stroke-linecap="round"/>
<path d="M14,35.2 L122,30.200000000000003" stroke="#7b97d9" stroke-width="3" stroke-linecap="round"/>
<path d="M14,39.8 L122,34.8" stroke="#1ea98b" stroke-width="3" stroke-linecap="round"/>
<rect x="18.8" y="44.8" width="24.3" height="40.5" fill="#8c6dc2" opacity=".92"/><rect x="16.2" y="41.6" width="26.6" height="6.5" rx="2.9" fill="#8c6dc2" opacity=".92"/><rect x="13.8" y="47.7" width="29.0" height="5.9" rx="2.7" fill="#8c6dc2" opacity=".92"/><rect x="13.8" y="53.7" width="28.8" height="5.3" rx="2.4" fill="#8c6dc2" opacity=".92"/><rect x="16.9" y="59.4" width="26.0" height="5.4" rx="2.4" fill="#8c6dc2" opacity=".92"/><rect x="14.5" y="65.2" width="30.9" height="5.4" rx="2.4" fill="#8c6dc2" opacity=".92"/><rect x="14.2" y="70.1" width="29.6" height="7.1" rx="3.2" fill="#8c6dc2" opacity=".92"/><rect x="16.5" y="75.8" width="28.1" height="7.1" rx="3.2" fill="#8c6dc2" opacity=".92"/><rect x="12.7" y="82.2" width="31.1" height="5.8" rx="2.6" fill="#8c6dc2" opacity=".92"/>
<rect x="54.1" y="42.8" width="25.8" height="40.5" fill="#e56aa7" opacity=".92"/><rect x="50.6" y="40.0" width="28.0" height="5.8" rx="2.6" fill="#e56aa7" opacity=".92"/><rect x="53.5" y="45.5" width="28.4" height="6.3" rx="2.9" fill="#e56aa7" opacity=".92"/><rect x="52.0" y="51.2" width="29.7" height="6.3" rx="2.8" fill="#e56aa7" opacity=".92"/><rect x="50.5" y="57.3" width="27.6" height="5.6" rx="2.5" fill="#e56aa7" opacity=".92"/><rect x="52.0" y="63.0" width="30.1" height="5.8" rx="2.6" fill="#e56aa7" opacity=".92"/><rect x="51.5" y="68.7" width="30.3" height="5.8" rx="2.6" fill="#e56aa7" opacity=".92"/><rect x="51.6" y="74.5" width="32.0" height="5.7" rx="2.5" fill="#e56aa7" opacity=".92"/><rect x="51.2" y="79.7" width="30.8" height="6.9" rx="3.1" fill="#e56aa7" opacity=".92"/>
<rect x="92.8" y="39.8" width="24.3" height="40.5" fill="#7b97d9" opacity=".92"/><rect x="91.6" y="36.3" width="27.4" height="7.1" rx="3.2" fill="#7b97d9" opacity=".92"/><rect x="88.4" y="42.3" width="28.3" height="6.7" rx="3.0" fill="#7b97d9" opacity=".92"/><rect x="88.3" y="48.7" width="28.7" height="5.3" rx="2.4" fill="#7b97d9" opacity=".92"/><rect x="89.8" y="54.0" width="30.5" height="6.3" rx="2.8" fill="#7b97d9" opacity=".92"/><rect x="92.1" y="59.6" width="27.6" height="6.6" rx="3.0" fill="#7b97d9" opacity=".92"/><rect x="90.0" y="65.6" width="29.3" height="6.1" rx="2.7" fill="#7b97d9" opacity=".92"/><rect x="90.0" y="71.3" width="31.6" height="6.1" rx="2.8" fill="#7b97d9" opacity=".92"/><rect x="92.0" y="76.8" width="26.0" height="6.6" rx="3.0" fill="#7b97d9" opacity=".92"/>
<rect x="19.3" y="93.4" width="27.4" height="35.2" fill="#1ea98b" opacity=".92"/><rect x="14.9" y="90.5" width="36.0" height="6.8" rx="3.1" fill="#1ea98b" opacity=".92"/><rect x="15.5" y="96.3" width="31.6" height="6.5" rx="2.9" fill="#1ea98b" opacity=".92"/><rect x="14.0" y="102.5" width="32.1" height="5.5" rx="2.5" fill="#1ea98b" opacity=".92"/><rect x="15.9" y="107.7" width="29.2" height="6.7" rx="3.0" fill="#1ea98b" opacity=".92"/><rect x="15.3" y="113.8" width="30.6" height="5.9" rx="2.7" fill="#1ea98b" opacity=".92"/><rect x="19.2" y="119.4" width="29.4" height="6.0" rx="2.7" fill="#1ea98b" opacity=".92"/><rect x="14.9" y="124.8" width="35.2" height="6.8" rx="3.1" fill="#1ea98b" opacity=".92"/>
<rect x="57.8" y="91.2" width="11.4" height="31.7" fill="#8c6dc2" opacity=".92"/><rect x="57.7" y="88.9" width="12.8" height="6.3" rx="2.8" fill="#8c6dc2" opacity=".92"/><rect x="55.3" y="94.3" width="14.7" height="7.4" rx="3.3" fill="#8c6dc2" opacity=".92"/><rect x="55.7" y="101.1" width="12.5" height="5.9" rx="2.6" fill="#8c6dc2" opacity=".92"/><rect x="55.5" y="106.7" width="13.5" height="6.6" rx="3.0" fill="#8c6dc2" opacity=".92"/><rect x="56.3" y="112.9" width="12.0" height="6.3" rx="2.8" fill="#8c6dc2" opacity=".92"/><rect x="55.8" y="118.3" width="13.7" height="7.4" rx="3.3" fill="#8c6dc2" opacity=".92"/>
<rect x="76.0" y="89.1" width="12.9" height="30.8" fill="#e56aa7" opacity=".92"/><rect x="74.9" y="86.7" width="15.4" height="6.5" rx="2.9" fill="#e56aa7" opacity=".92"/><rect x="75.6" y="92.2" width="13.8" height="7.1" rx="3.2" fill="#e56aa7" opacity=".92"/><rect x="74.6" y="98.1" width="16.6" height="6.9" rx="3.1" fill="#e56aa7" opacity=".92"/><rect x="74.2" y="104.7" width="15.0" height="5.5" rx="2.5" fill="#e56aa7" opacity=".92"/><rect x="75.5" y="110.6" width="13.8" height="5.4" rx="2.4" fill="#e56aa7" opacity=".92"/><rect x="74.1" y="116.1" width="14.2" height="5.9" rx="2.7" fill="#e56aa7" opacity=".92"/>
<rect x="94.8" y="87.1" width="11.4" height="30.8" fill="#7b97d9" opacity=".92"/><rect x="92.7" y="85.1" width="12.0" height="5.6" rx="2.5" fill="#7b97d9" opacity=".92"/><rect x="92.3" y="91.1" width="13.1" height="5.3" rx="2.4" fill="#7b97d9" opacity=".92"/><rect x="94.2" y="96.8" width="13.8" height="5.6" rx="2.5" fill="#7b97d9" opacity=".92"/><rect x="92.7" y="102.4" width="13.0" height="6.0" rx="2.7" fill="#7b97d9" opacity=".92"/><rect x="91.6" y="107.6" width="14.5" height="7.3" rx="3.3" fill="#7b97d9" opacity=".92"/><rect x="93.2" y="114.4" width="13.5" height="5.4" rx="2.4" fill="#7b97d9" opacity=".92"/>
<rect x="110.8" y="84.0" width="11.4" height="29.9" fill="#1ea98b" opacity=".92"/><rect x="108.3" y="82.0" width="13.0" height="5.6" rx="2.5" fill="#1ea98b" opacity=".92"/><rect x="110.7" y="87.9" width="12.5" height="5.1" rx="2.3" fill="#1ea98b" opacity=".92"/><rect x="110.6" y="93.5" width="13.6" height="5.4" rx="2.4" fill="#1ea98b" opacity=".92"/><rect x="110.1" y="98.8" width="12.1" height="6.1" rx="2.8" fill="#1ea98b" opacity=".92"/><rect x="110.1" y="104.3" width="14.6" height="6.5" rx="2.9" fill="#1ea98b" opacity=".92"/><rect x="108.7" y="110.5" width="13.1" height="5.4" rx="2.4" fill="#1ea98b" opacity=".92"/>
<rect x="22.1" y="132.8" width="25.8" height="11.4" fill="#8c6dc2" opacity=".92"/><rect x="20.1" y="131.6" width="30.8" height="5.1" rx="2.3" fill="#8c6dc2" opacity=".92"/><rect x="19.1" y="135.9" width="28.7" height="5.1" rx="2.3" fill="#8c6dc2" opacity=".92"/><rect x="19.9" y="140.3" width="33.0" height="5.1" rx="2.3" fill="#8c6dc2" opacity=".92"/>
<rect x="60.1" y="126.8" width="25.8" height="11.4" fill="#7b97d9" opacity=".92"/><rect x="57.6" y="126.0" width="32.2" height="4.2" rx="1.9" fill="#7b97d9" opacity=".92"/><rect x="57.5" y="130.5" width="29.6" height="3.9" rx="1.8" fill="#7b97d9" opacity=".92"/><rect x="55.6" y="134.7" width="29.1" height="4.3" rx="1.9" fill="#7b97d9" opacity=".92"/>
<rect x="95.3" y="123.6" width="14.4" height="8.8" fill="#8c6dc2" opacity=".92"/><rect x="93.2" y="122.9" width="18.8" height="5.3" rx="2.4" fill="#8c6dc2" opacity=".92"/><rect x="94.2" y="127.4" width="19.0" height="6.2" rx="2.8" fill="#8c6dc2" opacity=".92"/>
<rect x="24.8" y="148.8" width="24.3" height="11.4" fill="#e56aa7" opacity=".92"/><rect x="22.1" y="148.0" width="27.0" height="4.2" rx="1.9" fill="#e56aa7" opacity=".92"/><rect x="21.4" y="152.1" width="26.9" height="4.8" rx="2.2" fill="#e56aa7" opacity=".92"/><rect x="22.6" y="156.5" width="31.0" height="4.6" rx="2.1" fill="#e56aa7" opacity=".92"/>
<rect x="62.8" y="141.7" width="24.3" height="10.6" fill="#1ea98b" opacity=".92"/><rect x="59.6" y="141.1" width="30.7" height="3.7" rx="1.7" fill="#1ea98b" opacity=".92"/><rect x="59.3" y="144.7" width="31.4" height="4.7" rx="2.1" fill="#1ea98b" opacity=".92"/><rect x="61.0" y="149.1" width="28.7" height="3.8" rx="1.7" fill="#1ea98b" opacity=".92"/>
<rect x="96.4" y="134.6" width="15.2" height="8.8" fill="#e56aa7" opacity=".92"/><rect x="95.9" y="133.5" width="17.3" height="5.9" rx="2.7" fill="#e56aa7" opacity=".92"/><rect x="96.6" y="138.9" width="17.6" height="5.2" rx="2.3" fill="#e56aa7" opacity=".92"/>
<rect x="98.4" y="146.5" width="15.2" height="7.0" fill="#7b97d9" opacity=".92"/><rect x="97.8" y="146.1" width="18.9" height="3.8" rx="1.7" fill="#7b97d9" opacity=".92"/><rect x="95.3" y="149.6" width="16.6" height="4.9" rx="2.2" fill="#7b97d9" opacity=".92"/>
<path d="M110,122 L124,134 M108,127 L122,138 M112,119 L125,129" stroke="#1ea98b" stroke-width="2.4"/>
<circle cx="116" cy="142" r="3.3" fill="#7b97d9"/><circle cx="124" cy="141" r="3.3" fill="#e56aa7"/><circle cx="117" cy="150" r="3.3" fill="#8c6dc2"/><circle cx="125" cy="149" r="3.3" fill="#1ea98b"/>
<rect x="24.9" y="160.5" width="18.2" height="7.0" fill="#8c6dc2" opacity=".92"/><rect x="24.3" y="159.6" width="19.9" height="4.8" rx="2.1" fill="#8c6dc2" opacity=".92"/><rect x="23.3" y="164.0" width="22.4" height="4.1" rx="1.8" fill="#8c6dc2" opacity=".92"/>
<rect x="54.9" y="158.5" width="18.2" height="7.0" fill="#e56aa7" opacity=".92"/><rect x="53.9" y="158.2" width="19.8" height="3.6" rx="1.6" fill="#e56aa7" opacity=".92"/><rect x="53.3" y="161.8" width="22.3" height="4.3" rx="2.0" fill="#e56aa7" opacity=".92"/>
<rect x="84.9" y="156.5" width="18.2" height="7.0" fill="#7b97d9" opacity=".92"/><rect x="83.8" y="155.6" width="21.3" height="4.8" rx="2.2" fill="#7b97d9" opacity=".92"/><rect x="84.1" y="160.0" width="20.2" height="4.0" rx="1.8" fill="#7b97d9" opacity=".92"/>
<rect x="110.6" y="154.5" width="16.7" height="7.0" fill="#1ea98b" opacity=".92"/><rect x="109.1" y="153.8" width="18.7" height="4.4" rx="2.0" fill="#1ea98b" opacity=".92"/><rect x="108.7" y="158.1" width="19.4" height="3.8" rx="1.7" fill="#1ea98b" opacity=".92"/>
</g>
</g>
<g transform="translate(1301.7,333.2) rotate(-1.19) translate(-66.5,-87.5)">
<rect x="0" y="0" width="133" height="175" fill="#fff" stroke="#262626" stroke-width="1.7"/><rect x="4.6" y="4.6" width="123.8" height="165.8" fill="none" stroke="#262626" stroke-width="1.5"/>
<rect x="11" y="5.5" width="111" height="6.5" fill="url(#hdr)" opacity=".8"/>
<line x1="11" y1="12.3" x2="122" y2="12.3" stroke="#262626" stroke-width=".8"/>
<rect x="13" y="8.75" width="18" height="1.43" fill="#444" opacity=".55"/>
<rect x="56.5" y="8.1" width="14" height="1.95" fill="#222" opacity=".6"/>
<rect x="102" y="8.425" width="17" height="1.43" fill="#444" opacity=".55"/>
<polygon points="13,13 63,13 13,64" fill="url(#gP)"/>
<polygon points="14,82 59,165 15,166" fill="url(#gP)"/>
<polygon points="73,13 122.3,12 123,62" fill="url(#gK)"/>
<polygon points="124.5,77 126,162.6 85,163.4" fill="url(#gK)"/>
<polygon points="66,13 15,73 44.3,97.4" fill="url(#gB)"/>
<polygon points="68.4,13 124,68.4 97.4,95" fill="url(#gG)"/>
<polygon points="66,46 50,85 66.8,91.7" fill="url(#vg1)"/>
<polygon points="66,46 50,85 66.8,91.7" fill="url(#gX)"/>
<polygon points="73.2,46 91,85 75,91.7" fill="url(#vg1)"/>
<polygon points="73.2,46 91,85 75,91.7" fill="url(#gX)"/>
<polygon points="33,106 58,94 62,165" fill="url(#gB)"/>
<polygon points="61,94 76.5,94 80.5,165 69,165" fill="url(#vg2)"/>
<polygon points="61,94 76.5,94 80.5,165 69,165" fill="url(#gX)"/>
<polygon points="84,93 109.5,103 84.5,164" fill="url(#gG)"/>
</g>
<g transform="translate(834.5,531.3) rotate(-1.99) translate(-67.0,-87.0)">
<rect x="0" y="0" width="134" height="174" fill="#fff" stroke="#262626" stroke-width="1.7"/><rect x="4.6" y="4.6" width="124.8" height="164.8" fill="none" stroke="#262626" stroke-width="1.5"/>
<rect x="7.5" y="7.5" width="119.0" height="6" fill="url(#hdr)" opacity=".8"/>
<line x1="7.5" y1="13.8" x2="126.5" y2="13.8" stroke="#262626" stroke-width=".8"/>
<rect x="9.5" y="10.5" width="18" height="1.32" fill="#444" opacity=".55"/>
<rect x="57.0" y="9.9" width="14" height="1.7999999999999998" fill="#222" opacity=".6"/>
<rect x="106.5" y="10.2" width="17" height="1.32" fill="#444" opacity=".55"/>
<g transform="translate(-0.5,-7.2) scale(1,1.055)">
<rect x="12" y="19" width="110" height="143" fill="url(#gW)" opacity=".6"/>
<rect x="12" y="19" width="110" height="143" fill="#fff" opacity=".5"/>
<rect x="15" y="22" width="38" height="40" fill="none" stroke="#8c6dc2" stroke-width="2.6"/>
<rect x="57" y="21" width="32" height="32" fill="none" stroke="#e56aa7" stroke-width="2.6"/>
<rect x="93" y="22" width="28" height="26" fill="none" stroke="#7b97d9" stroke-width="2.6"/>
<rect x="16" y="66" width="28" height="28" fill="none" stroke="#e56aa7" stroke-width="2.6"/>
<rect x="48" y="66" width="32" height="30" fill="none" stroke="#8c6dc2" stroke-width="2.6"/>
<rect x="84" y="52" width="38" height="42" fill="none" stroke="#1ea98b" stroke-width="2.6"/>
<circle cx="34" cy="115" r="18" fill="none" stroke="#7b97d9" stroke-width="2.6"/>
<circle cx="75" cy="112" r="15" fill="none" stroke="#1ea98b" stroke-width="2.6"/>
<circle cx="108" cy="108" r="13" fill="none" stroke="#8c6dc2" stroke-width="2.6"/>
<circle cx="28" cy="150" r="13" fill="none" stroke="#1ea98b" stroke-width="2.6"/>
<circle cx="64" cy="148" r="15" fill="none" stroke="#7b97d9" stroke-width="2.6"/>
<circle cx="104" cy="144" r="19" fill="none" stroke="#e56aa7" stroke-width="2.6"/>
</g>
</g>
<g transform="translate(999.5,521.1) rotate(-1.70) translate(-66.5,-87.5)">
<rect x="0" y="0" width="133" height="175" fill="#fff" stroke="#262626" stroke-width="1.7"/><rect x="4.6" y="4.6" width="123.8" height="165.8" fill="none" stroke="#262626" stroke-width="1.5"/>
<rect x="8" y="8" width="117" height="9" fill="url(#hdr)" opacity=".8"/>
<line x1="8" y1="17.3" x2="125" y2="17.3" stroke="#262626" stroke-width=".8"/>
<rect x="10" y="12.5" width="18" height="1.98" fill="#444" opacity=".55"/>
<rect x="56.5" y="11.6" width="14" height="2.6999999999999997" fill="#222" opacity=".6"/>
<rect x="105" y="12.05" width="17" height="1.98" fill="#444" opacity=".55"/>
<rect x="13" y="22" width="34" height="34" fill="#8c6dc2" stroke="#888" stroke-width=".4"/>
<rect x="49" y="22" width="10" height="10" fill="#e56aa7" stroke="#888" stroke-width=".4"/>
<rect x="50" y="36" width="10" height="10" fill="#7b97d9" stroke="#888" stroke-width=".4"/>
<rect x="51" y="49" width="8" height="8" fill="#8c6dc2" stroke="#888" stroke-width=".4"/>
<rect x="14" y="60" width="24" height="24" fill="#7b97d9" stroke="#888" stroke-width=".4"/>
<rect x="41" y="60" width="20" height="18" fill="#e56aa7" stroke="#888" stroke-width=".4"/>
<rect x="13" y="88" width="7" height="7" fill="#8c6dc2" stroke="#888" stroke-width=".4"/>
<rect x="24" y="88" width="7" height="7" fill="#1ea98b" stroke="#888" stroke-width=".4"/>
<rect x="36" y="86" width="9" height="9" fill="#8c6dc2" stroke="#888" stroke-width=".4"/>
<rect x="48" y="86" width="9" height="9" fill="#1ea98b" stroke="#888" stroke-width=".4"/>
<rect x="14" y="100" width="34" height="34" fill="#e56aa7" stroke="#888" stroke-width=".4"/>
<rect x="50" y="100" width="10" height="10" fill="#7b97d9" stroke="#888" stroke-width=".4"/>
<rect x="51" y="113" width="9" height="9" fill="#8c6dc2" stroke="#888" stroke-width=".4"/>
<rect x="52" y="125" width="8" height="8" fill="#e56aa7" stroke="#888" stroke-width=".4"/>
<rect x="15" y="138" width="24" height="24" fill="#8c6dc2" stroke="#888" stroke-width=".4"/>
<rect x="43" y="136" width="20" height="20" fill="#1ea98b" stroke="#888" stroke-width=".4"/>
<rect x="15" y="164" width="7" height="7" fill="#1ea98b" stroke="#888" stroke-width=".4"/>
<rect x="26" y="163" width="7" height="7" fill="#7b97d9" stroke="#888" stroke-width=".4"/>
<rect x="37" y="160" width="9" height="9" fill="#1ea98b" stroke="#888" stroke-width=".4"/>
<rect x="49" y="160" width="8" height="8" fill="#8c6dc2" stroke="#888" stroke-width=".4"/>
<circle cx="85" cy="38" r="15" fill="#e56aa7" stroke="#888" stroke-width=".4"/>
<circle cx="111" cy="30" r="9" fill="#1ea98b" stroke="#888" stroke-width=".4"/>
<circle cx="110" cy="52" r="10" fill="#7b97d9" stroke="#888" stroke-width=".4"/>
<circle cx="86" cy="68" r="14" fill="#8c6dc2" stroke="#888" stroke-width=".4"/>
<circle cx="111" cy="72" r="7" fill="#1ea98b" stroke="#888" stroke-width=".4"/>
<circle cx="106" cy="86" r="5" fill="#7b97d9" stroke="#888" stroke-width=".4"/>
<circle cx="64" cy="92" r="3" fill="#8c6dc2" stroke="#888" stroke-width=".4"/>
<circle cx="73" cy="92" r="3" fill="#1ea98b" stroke="#888" stroke-width=".4"/>
<circle cx="82" cy="92" r="3" fill="#7b97d9" stroke="#888" stroke-width=".4"/>
<circle cx="118" cy="88" r="4" fill="#8c6dc2" stroke="#888" stroke-width=".4"/>
<circle cx="86" cy="114" r="16" fill="#7b97d9" stroke="#888" stroke-width=".4"/>
<circle cx="113" cy="110" r="9" fill="#e56aa7" stroke="#888" stroke-width=".4"/>
<circle cx="112" cy="133" r="10" fill="#8c6dc2" stroke="#888" stroke-width=".4"/>
<circle cx="88" cy="146" r="15" fill="#1ea98b" stroke="#888" stroke-width=".4"/>
<circle cx="114" cy="155" r="7" fill="#7b97d9" stroke="#888" stroke-width=".4"/>
<circle cx="102" cy="164" r="5" fill="#e56aa7" stroke="#888" stroke-width=".4"/>
<circle cx="66" cy="166" r="3" fill="#e56aa7" stroke="#888" stroke-width=".4"/>
<circle cx="75" cy="166" r="3" fill="#7b97d9" stroke="#888" stroke-width=".4"/>
<circle cx="84" cy="166" r="3" fill="#1ea98b" stroke="#888" stroke-width=".4"/>
<circle cx="120" cy="164" r="4" fill="#1ea98b" stroke="#888" stroke-width=".4"/>
</g>
<g transform="translate(1152.6,521.1) rotate(-6.14) translate(-66.5,-85.5)">
<rect x="0" y="0" width="133" height="171" fill="#fff" stroke="#262626" stroke-width="1.7"/><rect x="4.6" y="4.6" width="123.8" height="161.8" fill="none" stroke="#262626" stroke-width="1.5"/>
<rect x="8" y="6.5" width="117" height="6.5" fill="url(#hdr)" opacity=".8"/>
<line x1="8" y1="13.3" x2="125" y2="13.3" stroke="#262626" stroke-width=".8"/>
<rect x="10" y="9.75" width="18" height="1.43" fill="#444" opacity=".55"/>
<rect x="56.5" y="9.1" width="14" height="1.95" fill="#222" opacity=".6"/>
<rect x="105" y="9.425" width="17" height="1.43" fill="#444" opacity=".55"/><circle cx="27.5" cy="28.6" r="12.5" fill="#0a0a0a" stroke="#8c6dc2" stroke-width="1.4"/>
<circle cx="27.5" cy="28.6" r="13.1" fill="none" stroke="#222" stroke-width=".6"/>
<text x="27.5" y="35.2" font-size="22" font-weight="bold" fill="#8c6dc2" stroke="#8c6dc2" stroke-width="1" text-anchor="middle">m</text>
<circle cx="55.5" cy="28.6" r="12.5" fill="#0a0a0a" stroke="#e56aa7" stroke-width="1.4"/>
<circle cx="55.5" cy="28.6" r="13.1" fill="none" stroke="#222" stroke-width=".6"/>
<text x="55.5" y="35.2" font-size="22" font-weight="bold" fill="#e56aa7" stroke="#e56aa7" stroke-width="1" text-anchor="middle">t</text>
<circle cx="83.5" cy="28.6" r="12.5" fill="#0a0a0a" stroke="#7b97d9" stroke-width="1.4"/>
<circle cx="83.5" cy="28.6" r="13.1" fill="none" stroke="#222" stroke-width=".6"/>
<text x="83.5" y="35.2" font-size="22" font-weight="bold" fill="#7b97d9" stroke="#7b97d9" stroke-width="1" text-anchor="middle">w</text>
<circle cx="111.5" cy="28.6" r="12.5" fill="#0a0a0a" stroke="#1ea98b" stroke-width="1.4"/>
<circle cx="111.5" cy="28.6" r="13.1" fill="none" stroke="#222" stroke-width=".6"/>
<text x="111.5" y="35.2" font-size="22" font-weight="bold" fill="#1ea98b" stroke="#1ea98b" stroke-width="1" text-anchor="middle">t</text>
<circle cx="27.5" cy="59.2" r="12.5" fill="#0a0a0a" stroke="#8c6dc2" stroke-width="1.4"/>
<circle cx="27.5" cy="59.2" r="13.1" fill="none" stroke="#222" stroke-width=".6"/>
<text x="27.5" y="65.8" font-size="22" font-weight="bold" fill="#8c6dc2" stroke="#8c6dc2" stroke-width="1" text-anchor="middle">f</text>
<circle cx="55.5" cy="59.2" r="12.5" fill="#0a0a0a" stroke="#e56aa7" stroke-width="1.4"/>
<circle cx="55.5" cy="59.2" r="13.1" fill="none" stroke="#222" stroke-width=".6"/>
<text x="55.5" y="65.8" font-size="22" font-weight="bold" fill="#e56aa7" stroke="#e56aa7" stroke-width="1" text-anchor="middle">s</text>
<circle cx="83.5" cy="59.2" r="12.5" fill="#0a0a0a" stroke="#7b97d9" stroke-width="1.4"/>
<circle cx="83.5" cy="59.2" r="13.1" fill="none" stroke="#222" stroke-width=".6"/>
<text x="83.5" y="65.8" font-size="22" font-weight="bold" fill="#7b97d9" stroke="#7b97d9" stroke-width="1" text-anchor="middle">s</text>
<circle cx="111.5" cy="59.2" r="12.5" fill="#0a0a0a" stroke="#1ea98b" stroke-width="1.4"/>
<circle cx="111.5" cy="59.2" r="13.1" fill="none" stroke="#222" stroke-width=".6"/>
<text x="111.5" y="58.400000000000006" font-size="8.8" font-weight="bold" fill="#1ea98b" stroke="#1ea98b" stroke-width=".3" text-anchor="middle">this</text>
<text x="111.5" y="67.12" font-size="8.8" font-weight="bold" fill="#1ea98b" stroke="#1ea98b" stroke-width=".3" text-anchor="middle">week</text>
<circle cx="27.5" cy="89.80000000000001" r="12.5" fill="#1ea98b" stroke="#17866f" stroke-width="1.4"/>
<circle cx="27.5" cy="89.80000000000001" r="13.1" fill="none" stroke="#222" stroke-width=".6"/>
<text x="27.5" y="96.4" font-size="22" font-weight="bold" fill="#0a0a0a" stroke="#0a0a0a" stroke-width="1" text-anchor="middle">m</text>
<circle cx="55.5" cy="89.80000000000001" r="12.5" fill="#8c6dc2" stroke="#6e55a0" stroke-width="1.4"/>
<circle cx="55.5" cy="89.80000000000001" r="13.1" fill="none" stroke="#222" stroke-width=".6"/>
<text x="55.5" y="96.4" font-size="22" font-weight="bold" fill="#0a0a0a" stroke="#0a0a0a" stroke-width="1" text-anchor="middle">t</text>
<circle cx="83.5" cy="89.80000000000001" r="12.5" fill="#e56aa7" stroke="#c2508a" stroke-width="1.4"/>
<circle cx="83.5" cy="89.80000000000001" r="13.1" fill="none" stroke="#222" stroke-width=".6"/>
<text x="83.5" y="96.4" font-size="22" font-weight="bold" fill="#0a0a0a" stroke="#0a0a0a" stroke-width="1" text-anchor="middle">w</text>
<circle cx="111.5" cy="89.80000000000001" r="12.5" fill="#7b97d9" stroke="#5a78c0" stroke-width="1.4"/>
<circle cx="111.5" cy="89.80000000000001" r="13.1" fill="none" stroke="#222" stroke-width=".6"/>
<text x="111.5" y="96.4" font-size="22" font-weight="bold" fill="#0a0a0a" stroke="#0a0a0a" stroke-width="1" text-anchor="middle">t</text>
<circle cx="27.5" cy="120.4" r="12.5" fill="#1ea98b" stroke="#17866f" stroke-width="1.4"/>
<circle cx="27.5" cy="120.4" r="13.1" fill="none" stroke="#222" stroke-width=".6"/>
<text x="27.5" y="127.0" font-size="22" font-weight="bold" fill="#0a0a0a" stroke="#0a0a0a" stroke-width="1" text-anchor="middle">f</text>
<circle cx="55.5" cy="120.4" r="12.5" fill="#8c6dc2" stroke="#6e55a0" stroke-width="1.4"/>
<circle cx="55.5" cy="120.4" r="13.1" fill="none" stroke="#222" stroke-width=".6"/>
<text x="55.5" y="127.0" font-size="22" font-weight="bold" fill="#0a0a0a" stroke="#0a0a0a" stroke-width="1" text-anchor="middle">s</text>
<circle cx="83.5" cy="120.4" r="12.5" fill="#e56aa7" stroke="#c2508a" stroke-width="1.4"/>
<circle cx="83.5" cy="120.4" r="13.1" fill="none" stroke="#222" stroke-width=".6"/>
<text x="83.5" y="127.0" font-size="22" font-weight="bold" fill="#0a0a0a" stroke="#0a0a0a" stroke-width="1" text-anchor="middle">s</text>
<circle cx="111.5" cy="120.4" r="12.5" fill="#e56aa7" stroke="#c2508a" stroke-width="1.4"/>
<circle cx="111.5" cy="120.4" r="13.1" fill="none" stroke="#222" stroke-width=".6"/>
<text x="111.5" y="119.60000000000001" font-size="8.8" font-weight="bold" fill="#0a0a0a" stroke="#0a0a0a" stroke-width=".3" text-anchor="middle">this</text>
<text x="111.5" y="128.32" font-size="8.8" font-weight="bold" fill="#0a0a0a" stroke="#0a0a0a" stroke-width=".3" text-anchor="middle">week</text>
<circle cx="27.5" cy="151.0" r="12.5" fill="#1ea98b" stroke="#17866f" stroke-width="1.4"/>
<circle cx="27.5" cy="151.0" r="13.1" fill="none" stroke="#222" stroke-width=".6"/>
<text x="27.5" y="150.2" font-size="8.8" font-weight="bold" fill="#0a0a0a" stroke="#0a0a0a" stroke-width=".3" text-anchor="middle">next</text>
<text x="27.5" y="158.92" font-size="8.8" font-weight="bold" fill="#0a0a0a" stroke="#0a0a0a" stroke-width=".3" text-anchor="middle">week</text>
<circle cx="55.5" cy="151.0" r="12.5" fill="#8c6dc2" stroke="#6e55a0" stroke-width="1.4"/>
<circle cx="55.5" cy="151.0" r="13.1" fill="none" stroke="#222" stroke-width=".6"/>
<text x="55.5" y="150.2" font-size="8.8" font-weight="bold" fill="#0a0a0a" stroke="#0a0a0a" stroke-width=".3" text-anchor="middle">next</text>
<text x="55.5" y="158.92" font-size="8.8" font-weight="bold" fill="#0a0a0a" stroke="#0a0a0a" stroke-width=".3" text-anchor="middle">week</text>
<circle cx="83.5" cy="151.0" r="10.5" fill="#fff" stroke="#e56aa7" stroke-width="3.6"/>
<circle cx="83.5" cy="151.0" r="12.5" fill="none" stroke="#333" stroke-width=".5"/>
<circle cx="111.5" cy="151.0" r="10.5" fill="#fff" stroke="#7b97d9" stroke-width="3.6"/>
<circle cx="111.5" cy="151.0" r="12.5" fill="none" stroke="#333" stroke-width=".5"/>
</g>
<g transform="translate(1304.1,514.1) rotate(3.99) translate(-66.5,-86.5)">
<rect x="0" y="0" width="133" height="173" fill="#fff" stroke="#262626" stroke-width="1.7"/><rect x="4.6" y="4.6" width="123.8" height="163.8" fill="none" stroke="#262626" stroke-width="1.5"/>
<rect x="12" y="9" width="111" height="13" fill="url(#hdr)" opacity=".8"/>
<line x1="12" y1="22.3" x2="123" y2="22.3" stroke="#262626" stroke-width=".8"/>
<rect x="14" y="15.5" width="18" height="2.86" fill="#444" opacity=".55"/>
<rect x="57.5" y="14.2" width="14" height="3.9" fill="#222" opacity=".6"/>
<rect x="103" y="14.850000000000001" width="17" height="2.86" fill="#444" opacity=".55"/><circle cx="27.0" cy="39.5" r="12.2" fill="#0a0a0a" stroke="#7b97d9" stroke-width="1.4"/>
<circle cx="27.0" cy="39.5" r="12.799999999999999" fill="none" stroke="#222" stroke-width=".6"/>
<text x="27.0" y="46.1" font-size="22" font-weight="bold" fill="#7b97d9" stroke="#7b97d9" stroke-width="1" text-anchor="middle">m</text>
<circle cx="53.9" cy="39.5" r="12.2" fill="#0a0a0a" stroke="#1ea98b" stroke-width="1.4"/>
<circle cx="53.9" cy="39.5" r="12.799999999999999" fill="none" stroke="#222" stroke-width=".6"/>
<text x="53.9" y="46.1" font-size="22" font-weight="bold" fill="#1ea98b" stroke="#1ea98b" stroke-width="1" text-anchor="middle">t</text>
<circle cx="80.8" cy="39.5" r="12.2" fill="#0a0a0a" stroke="#8c6dc2" stroke-width="1.4"/>
<circle cx="80.8" cy="39.5" r="12.799999999999999" fill="none" stroke="#222" stroke-width=".6"/>
<text x="80.8" y="46.1" font-size="22" font-weight="bold" fill="#8c6dc2" stroke="#8c6dc2" stroke-width="1" text-anchor="middle">w</text>
<circle cx="107.69999999999999" cy="39.5" r="12.2" fill="#0a0a0a" stroke="#e56aa7" stroke-width="1.4"/>
<circle cx="107.69999999999999" cy="39.5" r="12.799999999999999" fill="none" stroke="#222" stroke-width=".6"/>
<text x="107.69999999999999" y="46.1" font-size="22" font-weight="bold" fill="#e56aa7" stroke="#e56aa7" stroke-width="1" text-anchor="middle">t</text>
<circle cx="27.0" cy="73.7" r="12.2" fill="#0a0a0a" stroke="#7b97d9" stroke-width="1.4"/>
<circle cx="27.0" cy="73.7" r="12.799999999999999" fill="none" stroke="#222" stroke-width=".6"/>
<text x="27.0" y="80.3" font-size="22" font-weight="bold" fill="#7b97d9" stroke="#7b97d9" stroke-width="1" text-anchor="middle">f</text>
<circle cx="53.9" cy="73.7" r="12.2" fill="#0a0a0a" stroke="#1ea98b" stroke-width="1.4"/>
<circle cx="53.9" cy="73.7" r="12.799999999999999" fill="none" stroke="#222" stroke-width=".6"/>
<text x="53.9" y="80.3" font-size="22" font-weight="bold" fill="#1ea98b" stroke="#1ea98b" stroke-width="1" text-anchor="middle">s</text>
<circle cx="80.8" cy="73.7" r="12.2" fill="#0a0a0a" stroke="#8c6dc2" stroke-width="1.4"/>
<circle cx="80.8" cy="73.7" r="12.799999999999999" fill="none" stroke="#222" stroke-width=".6"/>
<text x="80.8" y="80.3" font-size="22" font-weight="bold" fill="#8c6dc2" stroke="#8c6dc2" stroke-width="1" text-anchor="middle">s</text>
<circle cx="107.69999999999999" cy="73.7" r="12.2" fill="#0a0a0a" stroke="#e56aa7" stroke-width="1.4"/>
<circle cx="107.69999999999999" cy="73.7" r="12.799999999999999" fill="none" stroke="#222" stroke-width=".6"/>
<text x="107.69999999999999" y="72.9" font-size="8.8" font-weight="bold" fill="#e56aa7" stroke="#e56aa7" stroke-width=".3" text-anchor="middle">this</text>
<text x="107.69999999999999" y="81.62" font-size="8.8" font-weight="bold" fill="#e56aa7" stroke="#e56aa7" stroke-width=".3" text-anchor="middle">week</text>
<circle cx="27.0" cy="107.9" r="12.2" fill="#e56aa7" stroke="#c2508a" stroke-width="1.4"/>
<circle cx="27.0" cy="107.9" r="12.799999999999999" fill="none" stroke="#222" stroke-width=".6"/>
<text x="27.0" y="114.5" font-size="22" font-weight="bold" fill="#0a0a0a" stroke="#0a0a0a" stroke-width="1" text-anchor="middle">m</text>
<circle cx="53.9" cy="107.9" r="12.2" fill="#7b97d9" stroke="#5a78c0" stroke-width="1.4"/>
<circle cx="53.9" cy="107.9" r="12.799999999999999" fill="none" stroke="#222" stroke-width=".6"/>
<text x="53.9" y="114.5" font-size="22" font-weight="bold" fill="#0a0a0a" stroke="#0a0a0a" stroke-width="1" text-anchor="middle">t</text>
<circle cx="80.8" cy="107.9" r="12.2" fill="#1ea98b" stroke="#17866f" stroke-width="1.4"/>
<circle cx="80.8" cy="107.9" r="12.799999999999999" fill="none" stroke="#222" stroke-width=".6"/>
<text x="80.8" y="114.5" font-size="22" font-weight="bold" fill="#0a0a0a" stroke="#0a0a0a" stroke-width="1" text-anchor="middle">w</text>
<circle cx="107.69999999999999" cy="107.9" r="12.2" fill="#8c6dc2" stroke="#6e55a0" stroke-width="1.4"/>
<circle cx="107.69999999999999" cy="107.9" r="12.799999999999999" fill="none" stroke="#222" stroke-width=".6"/>
<text x="107.69999999999999" y="114.5" font-size="22" font-weight="bold" fill="#0a0a0a" stroke="#0a0a0a" stroke-width="1" text-anchor="middle">t</text>
<circle cx="27.0" cy="142.10000000000002" r="12.2" fill="#e56aa7" stroke="#c2508a" stroke-width="1.4"/>
<circle cx="27.0" cy="142.10000000000002" r="12.799999999999999" fill="none" stroke="#222" stroke-width=".6"/>
<text x="27.0" y="148.70000000000002" font-size="22" font-weight="bold" fill="#0a0a0a" stroke="#0a0a0a" stroke-width="1" text-anchor="middle">f</text>
<circle cx="53.9" cy="142.10000000000002" r="12.2" fill="#7b97d9" stroke="#5a78c0" stroke-width="1.4"/>
<circle cx="53.9" cy="142.10000000000002" r="12.799999999999999" fill="none" stroke="#222" stroke-width=".6"/>
<text x="53.9" y="148.70000000000002" font-size="22" font-weight="bold" fill="#0a0a0a" stroke="#0a0a0a" stroke-width="1" text-anchor="middle">s</text>
<circle cx="80.8" cy="142.10000000000002" r="12.2" fill="#1ea98b" stroke="#17866f" stroke-width="1.4"/>
<circle cx="80.8" cy="142.10000000000002" r="12.799999999999999" fill="none" stroke="#222" stroke-width=".6"/>
<text x="80.8" y="148.70000000000002" font-size="22" font-weight="bold" fill="#0a0a0a" stroke="#0a0a0a" stroke-width="1" text-anchor="middle">s</text>
<circle cx="107.69999999999999" cy="142.10000000000002" r="12.2" fill="#8c6dc2" stroke="#6e55a0" stroke-width="1.4"/>
<circle cx="107.69999999999999" cy="142.10000000000002" r="12.799999999999999" fill="none" stroke="#222" stroke-width=".6"/>
<text x="107.69999999999999" y="141.3" font-size="8.8" font-weight="bold" fill="#0a0a0a" stroke="#0a0a0a" stroke-width=".3" text-anchor="middle">this</text>
<text x="107.69999999999999" y="150.02" font-size="8.8" font-weight="bold" fill="#0a0a0a" stroke="#0a0a0a" stroke-width=".3" text-anchor="middle">week</text>
</g>
<g transform="translate(789.9,719.4) rotate(-1.24) translate(-65.5,-87.5)">
<rect x="0" y="0" width="131" height="175" fill="#fff" stroke="#262626" stroke-width="1.7"/><rect x="4.6" y="4.6" width="121.8" height="165.8" fill="none" stroke="#262626" stroke-width="1.5"/>
<rect x="7.5" y="7.5" width="116.0" height="6" fill="url(#hdr)" opacity=".8"/>
<line x1="7.5" y1="13.8" x2="123.5" y2="13.8" stroke="#262626" stroke-width=".8"/>
<rect x="9.5" y="10.5" width="18" height="1.32" fill="#444" opacity=".55"/>
<rect x="55.5" y="9.9" width="14" height="1.7999999999999998" fill="#222" opacity=".6"/>
<rect x="103.5" y="10.2" width="17" height="1.32" fill="#444" opacity=".55"/>
<text x="20.5" y="33.7" font-size="19" font-weight="bold" fill="#8c6dc2" stroke="#8c6dc2" stroke-width="1.14" text-anchor="middle">1</text>
<text x="36" y="33.7" font-size="19" font-weight="bold" fill="#e56aa7" stroke="#e56aa7" stroke-width="1.14" text-anchor="middle">2</text>
<text x="53.4" y="33.7" font-size="19" font-weight="bold" fill="#7b97d9" stroke="#7b97d9" stroke-width="1.14" text-anchor="middle">3</text>
<text x="70.6" y="33.7" font-size="19" font-weight="bold" fill="#1ea98b" stroke="#1ea98b" stroke-width="1.14" text-anchor="middle">4</text>
<text x="88.7" y="33.7" font-size="19" font-weight="bold" fill="#8c6dc2" stroke="#8c6dc2" stroke-width="1.14" text-anchor="middle">5</text>
<path transform="translate(110,24.700000000000003) scale(.95,.85)" d="M0,9 C-4,5 -10,1 -10,-4 C-10,-8 -7,-10 -4.5,-10 C-2,-10 -0.5,-8.5 0,-7 C0.5,-8.5 2,-10 4.5,-10 C7,-10 10,-8 10,-4 C10,1 4,5 0,9 Z" fill="url(#heart)"/>
<text x="23" y="55" font-size="19" font-weight="bold" fill="#e56aa7" stroke="#e56aa7" stroke-width="1.14" text-anchor="middle">6</text>
<text x="38.6" y="55" font-size="19" font-weight="bold" fill="#7b97d9" stroke="#7b97d9" stroke-width="1.14" text-anchor="middle">7</text>
<text x="54.2" y="55" font-size="19" font-weight="bold" fill="#1ea98b" stroke="#1ea98b" stroke-width="1.14" text-anchor="middle">8</text>
<text x="69" y="55" font-size="19" font-weight="bold" fill="#8c6dc2" stroke="#8c6dc2" stroke-width="1.14" text-anchor="middle">9</text>
<text x="88.7" y="55" font-size="19" font-weight="bold" fill="#e56aa7" stroke="#e56aa7" stroke-width="1.14" text-anchor="middle" textLength="16" lengthAdjust="spacingAndGlyphs">10</text>
<path transform="translate(110,46) scale(.95,.85)" d="M0,9 C-4,5 -10,1 -10,-4 C-10,-8 -7,-10 -4.5,-10 C-2,-10 -0.5,-8.5 0,-7 C0.5,-8.5 2,-10 4.5,-10 C7,-10 10,-8 10,-4 C10,1 4,5 0,9 Z" fill="url(#heart)"/>
<text x="26.3" y="77.2" font-size="19" font-weight="bold" fill="#7b97d9" stroke="#7b97d9" stroke-width="1.14" text-anchor="middle" textLength="16" lengthAdjust="spacingAndGlyphs">11</text>
<text x="46.8" y="77.2" font-size="19" font-weight="bold" fill="#1ea98b" stroke="#1ea98b" stroke-width="1.14" text-anchor="middle" textLength="16" lengthAdjust="spacingAndGlyphs">12</text>
<text x="67.4" y="77.2" font-size="19" font-weight="bold" fill="#8c6dc2" stroke="#8c6dc2" stroke-width="1.14" text-anchor="middle" textLength="16" lengthAdjust="spacingAndGlyphs">13</text>
<text x="88.7" y="77.2" font-size="19" font-weight="bold" fill="#e56aa7" stroke="#e56aa7" stroke-width="1.14" text-anchor="middle" textLength="16" lengthAdjust="spacingAndGlyphs">14</text>
<text x="111.7" y="77.2" font-size="19" font-weight="bold" fill="#7b97d9" stroke="#7b97d9" stroke-width="1.14" text-anchor="middle" textLength="16" lengthAdjust="spacingAndGlyphs">15</text>
<text x="28.7" y="98.6" font-size="19" font-weight="bold" fill="#1ea98b" stroke="#1ea98b" stroke-width="1.14" text-anchor="middle" textLength="16" lengthAdjust="spacingAndGlyphs">16</text>
<text x="57.5" y="98.6" font-size="19" font-weight="bold" fill="#8c6dc2" stroke="#8c6dc2" stroke-width="1.14" text-anchor="middle" textLength="16" lengthAdjust="spacingAndGlyphs">17</text>
<text x="85.4" y="98.6" font-size="19" font-weight="bold" fill="#e56aa7" stroke="#e56aa7" stroke-width="1.14" text-anchor="middle" textLength="16" lengthAdjust="spacingAndGlyphs">18</text>
<text x="112.5" y="98.6" font-size="19" font-weight="bold" fill="#7b97d9" stroke="#7b97d9" stroke-width="1.14" text-anchor="middle" textLength="16" lengthAdjust="spacingAndGlyphs">19</text>
<text x="29.6" y="120.7" font-size="19" font-weight="bold" fill="#1ea98b" stroke="#1ea98b" stroke-width="1.14" text-anchor="middle" textLength="16" lengthAdjust="spacingAndGlyphs">20</text>
<text x="57.5" y="120.7" font-size="19" font-weight="bold" fill="#8c6dc2" stroke="#8c6dc2" stroke-width="1.14" text-anchor="middle" textLength="16" lengthAdjust="spacingAndGlyphs">21</text>
<text x="84.6" y="120.7" font-size="19" font-weight="bold" fill="#e56aa7" stroke="#e56aa7" stroke-width="1.14" text-anchor="middle" textLength="16" lengthAdjust="spacingAndGlyphs">22</text>
<text x="112.5" y="120.7" font-size="19" font-weight="bold" fill="#7b97d9" stroke="#7b97d9" stroke-width="1.14" text-anchor="middle" textLength="16" lengthAdjust="spacingAndGlyphs">23</text>
<text x="30.4" y="143" font-size="19" font-weight="bold" fill="#1ea98b" stroke="#1ea98b" stroke-width="1.14" text-anchor="middle" textLength="16" lengthAdjust="spacingAndGlyphs">24</text>
<text x="57.5" y="143" font-size="19" font-weight="bold" fill="#8c6dc2" stroke="#8c6dc2" stroke-width="1.14" text-anchor="middle" textLength="16" lengthAdjust="spacingAndGlyphs">25</text>
<text x="85" y="143" font-size="19" font-weight="bold" fill="#e56aa7" stroke="#e56aa7" stroke-width="1.14" text-anchor="middle" textLength="16" lengthAdjust="spacingAndGlyphs">26</text>
<text x="112.5" y="143" font-size="19" font-weight="bold" fill="#7b97d9" stroke="#7b97d9" stroke-width="1.14" text-anchor="middle" textLength="16" lengthAdjust="spacingAndGlyphs">27</text>
<text x="31" y="164.3" font-size="19" font-weight="bold" fill="#1ea98b" stroke="#1ea98b" stroke-width="1.14" text-anchor="middle" textLength="16" lengthAdjust="spacingAndGlyphs">28</text>
<text x="57.5" y="164.3" font-size="19" font-weight="bold" fill="#8c6dc2" stroke="#8c6dc2" stroke-width="1.14" text-anchor="middle" textLength="16" lengthAdjust="spacingAndGlyphs">29</text>
<text x="86.3" y="164.3" font-size="19" font-weight="bold" fill="#e56aa7" stroke="#e56aa7" stroke-width="1.14" text-anchor="middle" textLength="16" lengthAdjust="spacingAndGlyphs">30</text>
<text x="114.2" y="164.3" font-size="19" font-weight="bold" fill="#7b97d9" stroke="#7b97d9" stroke-width="1.14" text-anchor="middle" textLength="16" lengthAdjust="spacingAndGlyphs">31</text>
</g>
<g transform="translate(955.5,699.4) rotate(-4.80) translate(-66.5,-85.5)">
<rect x="0" y="0" width="133" height="171" fill="#fff" stroke="#262626" stroke-width="1.7"/><rect x="4.6" y="4.6" width="123.8" height="161.8" fill="none" stroke="#262626" stroke-width="1.5"/>
<rect x="12" y="28" width="109" height="101" fill="#fff" stroke="#e6e6e6" stroke-width=".7"/>
<rect x="12.6" y="28.6" width="108.4" height="11.5" fill="url(#hdr)" opacity=".8"/>
<line x1="12.6" y1="40.4" x2="121" y2="40.4" stroke="#262626" stroke-width=".8"/>
<rect x="14.6" y="34.35" width="18" height="2.53" fill="#444" opacity=".55"/>
<rect x="56.8" y="33.2" width="14" height="3.4499999999999997" fill="#222" opacity=".6"/>
<rect x="101" y="33.775" width="17" height="2.53" fill="#444" opacity=".55"/>
<text x="19.1" y="55" font-size="13.5" font-weight="bold" fill="#8c6dc2" stroke="#8c6dc2" stroke-width="0.81" text-anchor="middle">1</text>
<text x="31.150000000000002" y="55" font-size="13.5" font-weight="bold" fill="#e56aa7" stroke="#e56aa7" stroke-width="0.81" text-anchor="middle">2</text>
<text x="43.2" y="55" font-size="13.5" font-weight="bold" fill="#7b97d9" stroke="#7b97d9" stroke-width="0.81" text-anchor="middle">3</text>
<text x="55.25000000000001" y="55" font-size="13.5" font-weight="bold" fill="#1ea98b" stroke="#1ea98b" stroke-width="0.81" text-anchor="middle">4</text>
<text x="67.30000000000001" y="55" font-size="13.5" font-weight="bold" fill="#8c6dc2" stroke="#8c6dc2" stroke-width="0.81" text-anchor="middle">5</text>
<text x="79.35" y="55" font-size="13.5" font-weight="bold" fill="#e56aa7" stroke="#e56aa7" stroke-width="0.81" text-anchor="middle">6</text>
<text x="91.4" y="55" font-size="13.5" font-weight="bold" fill="#7b97d9" stroke="#7b97d9" stroke-width="0.81" text-anchor="middle">7</text>
<text x="103.45000000000002" y="55" font-size="13.5" font-weight="bold" fill="#1ea98b" stroke="#1ea98b" stroke-width="0.81" text-anchor="middle">8</text>
<text x="115.5" y="55" font-size="13.5" font-weight="bold" fill="#8c6dc2" stroke="#8c6dc2" stroke-width="0.81" text-anchor="middle">9</text>
<text x="22.0" y="69" font-size="13.5" font-weight="bold" fill="#e56aa7" stroke="#e56aa7" stroke-width="0.81" text-anchor="middle" textLength="12" lengthAdjust="spacingAndGlyphs">10</text>
<text x="40.1" y="69" font-size="13.5" font-weight="bold" fill="#7b97d9" stroke="#7b97d9" stroke-width="0.81" text-anchor="middle" textLength="12" lengthAdjust="spacingAndGlyphs">11</text>
<text x="58.2" y="69" font-size="13.5" font-weight="bold" fill="#1ea98b" stroke="#1ea98b" stroke-width="0.81" text-anchor="middle" textLength="12" lengthAdjust="spacingAndGlyphs">12</text>
<text x="76.30000000000001" y="69" font-size="13.5" font-weight="bold" fill="#8c6dc2" stroke="#8c6dc2" stroke-width="0.81" text-anchor="middle" textLength="12" lengthAdjust="spacingAndGlyphs">13</text>
<text x="94.4" y="69" font-size="13.5" font-weight="bold" fill="#e56aa7" stroke="#e56aa7" stroke-width="0.81" text-anchor="middle" textLength="12" lengthAdjust="spacingAndGlyphs">14</text>
<text x="112.5" y="69" font-size="13.5" font-weight="bold" fill="#7b97d9" stroke="#7b97d9" stroke-width="0.81" text-anchor="middle" textLength="12" lengthAdjust="spacingAndGlyphs">15</text>
<text x="22.0" y="85" font-size="13.5" font-weight="bold" fill="#1ea98b" stroke="#1ea98b" stroke-width="0.81" text-anchor="middle" textLength="12" lengthAdjust="spacingAndGlyphs">16</text>
<text x="40.1" y="85" font-size="13.5" font-weight="bold" fill="#8c6dc2" stroke="#8c6dc2" stroke-width="0.81" text-anchor="middle" textLength="12" lengthAdjust="spacingAndGlyphs">17</text>
<text x="58.2" y="85" font-size="13.5" font-weight="bold" fill="#e56aa7" stroke="#e56aa7" stroke-width="0.81" text-anchor="middle" textLength="12" lengthAdjust="spacingAndGlyphs">18</text>
<text x="76.30000000000001" y="85" font-size="13.5" font-weight="bold" fill="#7b97d9" stroke="#7b97d9" stroke-width="0.81" text-anchor="middle" textLength="12" lengthAdjust="spacingAndGlyphs">19</text>
<text x="94.4" y="85" font-size="13.5" font-weight="bold" fill="#1ea98b" stroke="#1ea98b" stroke-width="0.81" text-anchor="middle" textLength="12" lengthAdjust="spacingAndGlyphs">20</text>
<text x="112.5" y="85" font-size="13.5" font-weight="bold" fill="#8c6dc2" stroke="#8c6dc2" stroke-width="0.81" text-anchor="middle" textLength="12" lengthAdjust="spacingAndGlyphs">21</text>
<text x="22.0" y="101" font-size="13.5" font-weight="bold" fill="#e56aa7" stroke="#e56aa7" stroke-width="0.81" text-anchor="middle" textLength="12" lengthAdjust="spacingAndGlyphs">22</text>
<text x="40.1" y="101" font-size="13.5" font-weight="bold" fill="#7b97d9" stroke="#7b97d9" stroke-width="0.81" text-anchor="middle" textLength="12" lengthAdjust="spacingAndGlyphs">23</text>
<text x="58.2" y="101" font-size="13.5" font-weight="bold" fill="#1ea98b" stroke="#1ea98b" stroke-width="0.81" text-anchor="middle" textLength="12" lengthAdjust="spacingAndGlyphs">24</text>
<text x="76.30000000000001" y="101" font-size="13.5" font-weight="bold" fill="#8c6dc2" stroke="#8c6dc2" stroke-width="0.81" text-anchor="middle" textLength="12" lengthAdjust="spacingAndGlyphs">25</text>
<text x="94.4" y="101" font-size="13.5" font-weight="bold" fill="#e56aa7" stroke="#e56aa7" stroke-width="0.81" text-anchor="middle" textLength="12" lengthAdjust="spacingAndGlyphs">26</text>
<path transform="translate(113.5,95) scale(.72,.68)" d="M0,9 C-4,5 -10,1 -10,-4 C-10,-8 -7,-10 -4.5,-10 C-2,-10 -0.5,-8.5 0,-7 C0.5,-8.5 2,-10 4.5,-10 C7,-10 10,-8 10,-4 C10,1 4,5 0,9 Z" fill="url(#heart)"/>
<text x="22.0" y="117" font-size="13.5" font-weight="bold" fill="#7b97d9" stroke="#7b97d9" stroke-width="0.81" text-anchor="middle" textLength="12" lengthAdjust="spacingAndGlyphs">27</text>
<text x="40.1" y="117" font-size="13.5" font-weight="bold" fill="#1ea98b" stroke="#1ea98b" stroke-width="0.81" text-anchor="middle" textLength="12" lengthAdjust="spacingAndGlyphs">28</text>
<text x="58.2" y="117" font-size="13.5" font-weight="bold" fill="#8c6dc2" stroke="#8c6dc2" stroke-width="0.81" text-anchor="middle" textLength="12" lengthAdjust="spacingAndGlyphs">29</text>
<text x="76.30000000000001" y="117" font-size="13.5" font-weight="bold" fill="#e56aa7" stroke="#e56aa7" stroke-width="0.81" text-anchor="middle" textLength="12" lengthAdjust="spacingAndGlyphs">30</text>
<text x="94.4" y="117" font-size="13.5" font-weight="bold" fill="#7b97d9" stroke="#7b97d9" stroke-width="0.81" text-anchor="middle" textLength="12" lengthAdjust="spacingAndGlyphs">31</text>
<path transform="translate(113.5,111) scale(.72,.68)" d="M0,9 C-4,5 -10,1 -10,-4 C-10,-8 -7,-10 -4.5,-10 C-2,-10 -0.5,-8.5 0,-7 C0.5,-8.5 2,-10 4.5,-10 C7,-10 10,-8 10,-4 C10,1 4,5 0,9 Z" fill="url(#heart)"/>
</g>
<g transform="translate(1121.1,701.1) rotate(2.11) translate(-67.0,-88.0)">
<rect x="0" y="0" width="134" height="176" fill="#fff" stroke="#262626" stroke-width="1.7"/><rect x="4.6" y="4.6" width="124.8" height="166.8" fill="none" stroke="#262626" stroke-width="1.5"/>
<rect x="7.5" y="7.5" width="119.0" height="6" fill="url(#hdr)" opacity=".8"/>
<line x1="7.5" y1="13.8" x2="126.5" y2="13.8" stroke="#262626" stroke-width=".8"/>
<rect x="9.5" y="10.5" width="18" height="1.32" fill="#444" opacity=".55"/>
<rect x="57.0" y="9.9" width="14" height="1.7999999999999998" fill="#222" opacity=".6"/>
<rect x="106.5" y="10.2" width="17" height="1.32" fill="#444" opacity=".55"/>
<g transform="translate(9,15.5) scale(1.055,1.031) translate(-12,-20)">
<rect x="12.00" y="20" width="20.80" height="139" fill="url(#gP)"/>
<rect x="34.00" y="20" width="20.80" height="139" fill="url(#gK)"/>
<rect x="56.00" y="20" width="20.80" height="139" fill="url(#gB)"/>
<rect x="78.00" y="20" width="20.80" height="139" fill="url(#gG)"/>
<rect x="100.00" y="20" width="20.80" height="139" fill="url(#gP)"/>
<rect x="12" y="161" width="110" height="2.5" fill="url(#grad1)"/>
</g>
</g>
<g transform="translate(1283.1,699.3) rotate(-1.58) translate(-66.5,-88.0)">
<rect x="0" y="0" width="133" height="176" fill="#fff" stroke="#262626" stroke-width="1.7"/><rect x="4.6" y="4.6" width="123.8" height="166.8" fill="none" stroke="#262626" stroke-width="1.5"/>
<rect x="7.5" y="7.5" width="118.0" height="6" fill="url(#hdr)" opacity=".8"/>
<line x1="7.5" y1="13.8" x2="125.5" y2="13.8" stroke="#262626" stroke-width=".8"/>
<rect x="9.5" y="10.5" width="18" height="1.32" fill="#444" opacity=".55"/>
<rect x="56.5" y="9.9" width="14" height="1.7999999999999998" fill="#222" opacity=".6"/>
<rect x="105.5" y="10.2" width="17" height="1.32" fill="#444" opacity=".55"/>
<g transform="translate(9,15.5) scale(1.055,1.031) translate(-12,-20)">
<rect x="12.00" y="20" width="15.57" height="139" fill="url(#gP)"/>
<rect x="27.57" y="20" width="15.57" height="139" fill="url(#gK)"/>
<rect x="43.14" y="20" width="15.57" height="139" fill="url(#gB)"/>
<rect x="58.71" y="20" width="15.57" height="139" fill="url(#gG)"/>
<rect x="74.29" y="20" width="15.57" height="139" fill="url(#gP)"/>
<rect x="89.86" y="20" width="15.57" height="139" fill="url(#gK)"/>
<rect x="105.43" y="20" width="15.57" height="139" fill="url(#gB)"/>
<rect x="12" y="161" width="109" height="2.5" fill="url(#grad1)"/>
</g>
</g>
<g transform="translate(930.5,880.9) rotate(2.27) translate(-67.0,-88.0)">
<rect x="0" y="0" width="134" height="176" fill="#fff" stroke="#262626" stroke-width="1.7"/><rect x="4.6" y="4.6" width="124.8" height="166.8" fill="none" stroke="#262626" stroke-width="1.5"/>
<rect x="8" y="8.4" width="118" height="9" fill="url(#hdr)" opacity=".8"/>
<line x1="8" y1="17.7" x2="126" y2="17.7" stroke="#262626" stroke-width=".8"/>
<rect x="10" y="12.9" width="18" height="1.98" fill="#444" opacity=".55"/>
<rect x="57.0" y="12.0" width="14" height="2.6999999999999997" fill="#222" opacity=".6"/>
<rect x="106" y="12.45" width="17" height="1.98" fill="#444" opacity=".55"/>
<rect x="11.7" y="20" width="12.6" height="143" fill="#c5e6f2"/>
<circle cx="22.2" cy="70.9" r="1.3" fill="#f5a03a"/>
<circle cx="17.6" cy="103.3" r="1.3" fill="#e56aa7"/>
<circle cx="22.1" cy="80.3" r="1.3" fill="#f7d83a"/>
<circle cx="22.3" cy="91.7" r="1.3" fill="#1ea98b"/>
<circle cx="18.3" cy="94.8" r="1.3" fill="#f5a03a"/>
<circle cx="13.1" cy="83.1" r="1.3" fill="#e56aa7"/>
<circle cx="14.8" cy="21.6" r="1.3" fill="#f7d83a"/>
<circle cx="21.1" cy="45.3" r="1.3" fill="#1ea98b"/>
<circle cx="17.7" cy="123.3" r="1.3" fill="#f5a03a"/>
<circle cx="18.6" cy="67.0" r="1.3" fill="#e56aa7"/>
<circle cx="18.2" cy="99.3" r="1.3" fill="#f7d83a"/>
<circle cx="20.9" cy="36.0" r="1.3" fill="#1ea98b"/>
<circle cx="18.6" cy="56.0" r="1.3" fill="#f5a03a"/>
<circle cx="15.7" cy="129.9" r="1.3" fill="#e56aa7"/>
<circle cx="18.1" cy="100.2" r="1.3" fill="#f7d83a"/>
<circle cx="20.7" cy="149.7" r="1.3" fill="#1ea98b"/>
<circle cx="17.4" cy="107.4" r="1.3" fill="#f5a03a"/>
<circle cx="18.1" cy="93.2" r="1.3" fill="#e56aa7"/>
<circle cx="20.0" cy="84.8" r="1.3" fill="#f7d83a"/>
<circle cx="18.3" cy="88.4" r="1.3" fill="#1ea98b"/>
<circle cx="22.5" cy="119.6" r="1.3" fill="#f5a03a"/>
<circle cx="21.8" cy="153.8" r="1.3" fill="#e56aa7"/>
<circle cx="15.5" cy="99.9" r="1.3" fill="#f7d83a"/>
<circle cx="22.5" cy="139.4" r="1.3" fill="#1ea98b"/>
<circle cx="14.3" cy="38.1" r="1.3" fill="#f5a03a"/>
<circle cx="17.4" cy="31.2" r="1.3" fill="#e56aa7"/>
<circle cx="15.4" cy="31.3" r="1.3" fill="#f7d83a"/>
<circle cx="19.7" cy="131.5" r="1.3" fill="#1ea98b"/>
<circle cx="22.0" cy="42.8" r="1.3" fill="#f5a03a"/>
<circle cx="20.2" cy="114.1" r="1.3" fill="#e56aa7"/>
<circle cx="14.4" cy="145.5" r="1.3" fill="#f7d83a"/>
<circle cx="22.8" cy="52.0" r="1.3" fill="#1ea98b"/>
<circle cx="22.6" cy="77.2" r="1.3" fill="#f5a03a"/>
<circle cx="17.9" cy="160.6" r="1.3" fill="#e56aa7"/>
<circle cx="21.4" cy="43.8" r="1.3" fill="#f7d83a"/>
<circle cx="17.3" cy="93.7" r="1.3" fill="#1ea98b"/>
<circle cx="16.4" cy="48.6" r="1.3" fill="#f5a03a"/>
<circle cx="16.1" cy="122.8" r="1.3" fill="#e56aa7"/>
<circle cx="13.1" cy="99.1" r="1.3" fill="#f7d83a"/>
<circle cx="17.4" cy="23.5" r="1.3" fill="#1ea98b"/>
<circle cx="16.3" cy="109.0" r="1.3" fill="#f5a03a"/>
<circle cx="18.1" cy="30.1" r="1.3" fill="#e56aa7"/>
<circle cx="22.9" cy="132.2" r="1.3" fill="#f7d83a"/>
<circle cx="22.8" cy="35.8" r="1.3" fill="#1ea98b"/>
<circle cx="15.6" cy="26.6" r="1.3" fill="#f5a03a"/>
<circle cx="20.8" cy="59.1" r="1.3" fill="#e56aa7"/>
<circle cx="14.2" cy="80.5" r="1.3" fill="#f7d83a"/>
<circle cx="22.2" cy="136.5" r="1.3" fill="#1ea98b"/>
<circle cx="15.5" cy="42.1" r="1.3" fill="#f5a03a"/>
<circle cx="22.3" cy="101.5" r="1.3" fill="#e56aa7"/>
<circle cx="20.0" cy="33.6" r="1.3" fill="#f7d83a"/>
<circle cx="13.5" cy="118.0" r="1.3" fill="#1ea98b"/>
<circle cx="17.2" cy="31.2" r="1.3" fill="#f5a03a"/>
<circle cx="22.5" cy="110.5" r="1.3" fill="#e56aa7"/>
<circle cx="21.1" cy="32.8" r="1.3" fill="#f7d83a"/>
<circle cx="21.6" cy="30.4" r="1.3" fill="#1ea98b"/>
<circle cx="21.7" cy="85.0" r="1.3" fill="#f5a03a"/>
<circle cx="16.4" cy="99.0" r="1.3" fill="#e56aa7"/>
<circle cx="22.4" cy="58.8" r="1.3" fill="#f7d83a"/>
<circle cx="14.2" cy="95.3" r="1.3" fill="#1ea98b"/>
<circle cx="15.3" cy="36.4" r="1.3" fill="#f5a03a"/>
<circle cx="14.5" cy="28.1" r="1.3" fill="#e56aa7"/>
<circle cx="15.0" cy="65.0" r="1.3" fill="#f7d83a"/>
<circle cx="16.0" cy="128.1" r="1.3" fill="#1ea98b"/>
<circle cx="15.9" cy="91.5" r="1.3" fill="#f5a03a"/>
<circle cx="14.7" cy="69.9" r="1.3" fill="#e56aa7"/>
<circle cx="13.1" cy="56.3" r="1.3" fill="#f7d83a"/>
<circle cx="13.1" cy="124.4" r="1.3" fill="#1ea98b"/>
<circle cx="18.5" cy="47.7" r="1.3" fill="#f5a03a"/>
<circle cx="17.7" cy="152.8" r="1.3" fill="#e56aa7"/>
<circle cx="14.0" cy="136.5" r="1.3" fill="#f7d83a"/>
<circle cx="17.3" cy="90.8" r="1.3" fill="#1ea98b"/>
<circle cx="21.4" cy="76.4" r="1.3" fill="#f5a03a"/>
<circle cx="18.1" cy="118.0" r="1.3" fill="#e56aa7"/>
<circle cx="22.9" cy="69.3" r="1.3" fill="#f7d83a"/>
<circle cx="21.4" cy="120.6" r="1.3" fill="#1ea98b"/>
<circle cx="19.4" cy="78.1" r="1.3" fill="#f5a03a"/>
<circle cx="16.4" cy="28.7" r="1.3" fill="#e56aa7"/>
<circle cx="14.2" cy="31.0" r="1.3" fill="#f7d83a"/>
<circle cx="20.5" cy="57.0" r="1.3" fill="#1ea98b"/>
<circle cx="14.6" cy="32.9" r="1.3" fill="#f5a03a"/>
<circle cx="21.5" cy="143.7" r="1.3" fill="#e56aa7"/>
<circle cx="19.7" cy="60.8" r="1.3" fill="#f7d83a"/>
<circle cx="15.4" cy="62.3" r="1.3" fill="#1ea98b"/>
<circle cx="17.6" cy="43.2" r="1.3" fill="#f5a03a"/>
<circle cx="17.4" cy="58.1" r="1.3" fill="#e56aa7"/>
<circle cx="22.7" cy="158.1" r="1.3" fill="#f7d83a"/>
<circle cx="18.5" cy="55.5" r="1.3" fill="#1ea98b"/>
<circle cx="22.7" cy="64.6" r="1.3" fill="#f5a03a"/>
<circle cx="16.5" cy="21.2" r="1.3" fill="#e56aa7"/>
<circle cx="16.8" cy="87.9" r="1.3" fill="#f7d83a"/>
<circle cx="18.0" cy="49.3" r="1.3" fill="#1ea98b"/>
<circle cx="18.0" cy="21.7" r="1.3" fill="#f5a03a"/>
<circle cx="15.6" cy="33.7" r="1.3" fill="#e56aa7"/>
<circle cx="17.0" cy="26.9" r="1.3" fill="#f7d83a"/>
<circle cx="13.1" cy="63.9" r="1.3" fill="#1ea98b"/>
<circle cx="15.3" cy="103.6" r="1.3" fill="#f5a03a"/>
<circle cx="18.3" cy="126.8" r="1.3" fill="#e56aa7"/>
<circle cx="19.6" cy="122.0" r="1.3" fill="#f7d83a"/>
<circle cx="21.9" cy="75.9" r="1.3" fill="#1ea98b"/>
<circle cx="16.2" cy="159.8" r="1.3" fill="#f5a03a"/>
<circle cx="14.4" cy="123.1" r="1.3" fill="#e56aa7"/>
<circle cx="19.5" cy="27.2" r="1.3" fill="#f7d83a"/>
<circle cx="21.4" cy="146.8" r="1.3" fill="#1ea98b"/>
<circle cx="19.3" cy="124.5" r="1.3" fill="#f5a03a"/>
<circle cx="21.2" cy="40.6" r="1.3" fill="#e56aa7"/>
<circle cx="18.2" cy="92.1" r="1.3" fill="#f7d83a"/>
<circle cx="21.4" cy="134.5" r="1.3" fill="#1ea98b"/>
<circle cx="21.3" cy="103.4" r="1.3" fill="#f5a03a"/>
<circle cx="22.0" cy="117.3" r="1.3" fill="#e56aa7"/>
<circle cx="20.0" cy="53.4" r="1.3" fill="#f7d83a"/>
<circle cx="13.2" cy="39.8" r="1.3" fill="#1ea98b"/>
<circle cx="16.6" cy="35.8" r="1.3" fill="#f5a03a"/>
<circle cx="21.4" cy="99.8" r="1.3" fill="#e56aa7"/>
<circle cx="19.3" cy="109.3" r="1.3" fill="#f7d83a"/>
<circle cx="19.8" cy="90.0" r="1.3" fill="#1ea98b"/>
<circle cx="12.9" cy="133.5" r="1.3" fill="#f5a03a"/>
<circle cx="20.5" cy="91.9" r="1.3" fill="#e56aa7"/>
<circle cx="18.4" cy="114.0" r="1.3" fill="#f7d83a"/>
<circle cx="13.6" cy="124.9" r="1.3" fill="#1ea98b"/>
<circle cx="15.5" cy="31.5" r="1.3" fill="#f5a03a"/>
<circle cx="15.6" cy="123.8" r="1.3" fill="#e56aa7"/>
<circle cx="15.0" cy="125.3" r="1.3" fill="#f7d83a"/>
<circle cx="22.9" cy="90.6" r="1.3" fill="#1ea98b"/>
<circle cx="16.8" cy="88.5" r="1.3" fill="#f5a03a"/>
<circle cx="19.9" cy="129.1" r="1.3" fill="#e56aa7"/>
<circle cx="19.2" cy="111.6" r="1.3" fill="#f7d83a"/>
<circle cx="13.7" cy="41.8" r="1.3" fill="#1ea98b"/>
<circle cx="15.5" cy="125.8" r="1.3" fill="#f5a03a"/>
<circle cx="16.0" cy="101.1" r="1.3" fill="#e56aa7"/>
<circle cx="13.0" cy="29.6" r="1.3" fill="#f7d83a"/>
<circle cx="15.6" cy="115.8" r="1.3" fill="#1ea98b"/>
<circle cx="20.0" cy="116.3" r="1.3" fill="#f5a03a"/>
<circle cx="15.9" cy="93.8" r="1.3" fill="#e56aa7"/>
<circle cx="17.6" cy="86.8" r="1.3" fill="#f7d83a"/>
<rect x="27" y="20" width="15" height="143" fill="#cdb4e6"/>
<circle cx="29.7" cy="147.0" r="1.3" fill="#e3d0f2"/>
<circle cx="30.7" cy="158.9" r="1.3" fill="#f2b9d9"/>
<circle cx="40.0" cy="23.5" r="1.3" fill="#bde3e8"/>
<circle cx="34.0" cy="136.6" r="1.3" fill="#e3d0f2"/>
<circle cx="40.4" cy="84.4" r="1.3" fill="#f2b9d9"/>
<circle cx="31.6" cy="50.6" r="1.3" fill="#bde3e8"/>
<circle cx="40.1" cy="50.7" r="1.3" fill="#e3d0f2"/>
<circle cx="35.5" cy="41.0" r="1.3" fill="#f2b9d9"/>
<circle cx="34.8" cy="155.3" r="1.3" fill="#bde3e8"/>
<circle cx="29.9" cy="136.7" r="1.3" fill="#e3d0f2"/>
<circle cx="34.6" cy="146.0" r="1.3" fill="#f2b9d9"/>
<circle cx="37.1" cy="53.6" r="1.3" fill="#bde3e8"/>
<circle cx="39.5" cy="89.5" r="1.3" fill="#e3d0f2"/>
<circle cx="28.5" cy="21.5" r="1.3" fill="#f2b9d9"/>
<circle cx="34.4" cy="84.6" r="1.3" fill="#bde3e8"/>
<circle cx="32.0" cy="40.8" r="1.3" fill="#e3d0f2"/>
<circle cx="32.5" cy="65.6" r="1.3" fill="#f2b9d9"/>
<circle cx="38.8" cy="21.2" r="1.3" fill="#bde3e8"/>
<circle cx="37.7" cy="139.3" r="1.3" fill="#e3d0f2"/>
<circle cx="29.7" cy="151.6" r="1.3" fill="#f2b9d9"/>
<circle cx="37.2" cy="148.1" r="1.3" fill="#bde3e8"/>
<circle cx="31.9" cy="73.5" r="1.3" fill="#e3d0f2"/>
<circle cx="33.2" cy="161.8" r="1.3" fill="#f2b9d9"/>
<circle cx="35.6" cy="71.9" r="1.3" fill="#bde3e8"/>
<circle cx="33.6" cy="59.8" r="1.3" fill="#e3d0f2"/>
<circle cx="28.8" cy="35.3" r="1.3" fill="#f2b9d9"/>
<circle cx="38.7" cy="61.3" r="1.3" fill="#bde3e8"/>
<circle cx="40.0" cy="56.2" r="1.3" fill="#e3d0f2"/>
<circle cx="31.5" cy="93.0" r="1.3" fill="#f2b9d9"/>
<circle cx="30.6" cy="73.6" r="1.3" fill="#bde3e8"/>
<circle cx="40.2" cy="145.7" r="1.3" fill="#e3d0f2"/>
<circle cx="38.4" cy="110.0" r="1.3" fill="#f2b9d9"/>
<circle cx="39.7" cy="153.6" r="1.3" fill="#bde3e8"/>
<circle cx="35.1" cy="122.5" r="1.3" fill="#e3d0f2"/>
<circle cx="28.8" cy="124.3" r="1.3" fill="#f2b9d9"/>
<circle cx="33.9" cy="127.1" r="1.3" fill="#bde3e8"/>
<circle cx="36.3" cy="61.4" r="1.3" fill="#e3d0f2"/>
<circle cx="28.8" cy="151.7" r="1.3" fill="#f2b9d9"/>
<circle cx="29.8" cy="87.6" r="1.3" fill="#bde3e8"/>
<circle cx="32.5" cy="63.0" r="1.3" fill="#e3d0f2"/>
<circle cx="37.5" cy="158.7" r="1.3" fill="#f2b9d9"/>
<circle cx="31.5" cy="113.5" r="1.3" fill="#bde3e8"/>
<circle cx="32.0" cy="99.6" r="1.3" fill="#e3d0f2"/>
<circle cx="33.2" cy="44.6" r="1.3" fill="#f2b9d9"/>
<circle cx="30.2" cy="50.3" r="1.3" fill="#bde3e8"/>
<circle cx="39.6" cy="91.1" r="1.3" fill="#e3d0f2"/>
<circle cx="31.0" cy="148.8" r="1.3" fill="#f2b9d9"/>
<circle cx="40.8" cy="84.4" r="1.3" fill="#bde3e8"/>
<circle cx="30.0" cy="48.1" r="1.3" fill="#e3d0f2"/>
<circle cx="29.3" cy="69.2" r="1.3" fill="#f2b9d9"/>
<circle cx="29.3" cy="54.7" r="1.3" fill="#bde3e8"/>
<circle cx="31.5" cy="101.3" r="1.3" fill="#e3d0f2"/>
<circle cx="39.4" cy="126.7" r="1.3" fill="#f2b9d9"/>
<circle cx="33.4" cy="79.4" r="1.3" fill="#bde3e8"/>
<circle cx="34.8" cy="74.1" r="1.3" fill="#e3d0f2"/>
<circle cx="32.5" cy="29.8" r="1.3" fill="#f2b9d9"/>
<circle cx="31.7" cy="157.4" r="1.3" fill="#bde3e8"/>
<circle cx="29.8" cy="92.0" r="1.3" fill="#e3d0f2"/>
<circle cx="36.1" cy="142.7" r="1.3" fill="#f2b9d9"/>
<circle cx="30.9" cy="59.2" r="1.3" fill="#bde3e8"/>
<circle cx="31.3" cy="77.4" r="1.3" fill="#e3d0f2"/>
<circle cx="33.8" cy="155.5" r="1.3" fill="#f2b9d9"/>
<circle cx="38.9" cy="144.1" r="1.3" fill="#bde3e8"/>
<circle cx="28.5" cy="25.5" r="1.3" fill="#e3d0f2"/>
<circle cx="37.1" cy="147.3" r="1.3" fill="#f2b9d9"/>
<circle cx="34.2" cy="103.8" r="1.3" fill="#bde3e8"/>
<circle cx="28.2" cy="76.2" r="1.3" fill="#e3d0f2"/>
<circle cx="39.9" cy="137.4" r="1.3" fill="#f2b9d9"/>
<circle cx="39.0" cy="158.1" r="1.3" fill="#bde3e8"/>
<circle cx="31.3" cy="36.4" r="1.3" fill="#e3d0f2"/>
<circle cx="30.1" cy="94.7" r="1.3" fill="#f2b9d9"/>
<circle cx="36.8" cy="153.8" r="1.3" fill="#bde3e8"/>
<circle cx="37.3" cy="112.3" r="1.3" fill="#e3d0f2"/>
<circle cx="37.8" cy="85.5" r="1.3" fill="#f2b9d9"/>
<circle cx="35.1" cy="26.6" r="1.3" fill="#bde3e8"/>
<circle cx="38.1" cy="53.8" r="1.3" fill="#e3d0f2"/>
<circle cx="39.8" cy="112.0" r="1.3" fill="#f2b9d9"/>
<circle cx="32.0" cy="39.0" r="1.3" fill="#bde3e8"/>
<circle cx="31.4" cy="110.7" r="1.3" fill="#e3d0f2"/>
<circle cx="37.0" cy="36.8" r="1.3" fill="#f2b9d9"/>
<circle cx="29.1" cy="94.9" r="1.3" fill="#bde3e8"/>
<circle cx="35.5" cy="75.7" r="1.3" fill="#e3d0f2"/>
<circle cx="31.0" cy="105.7" r="1.3" fill="#f2b9d9"/>
<circle cx="28.3" cy="63.5" r="1.3" fill="#bde3e8"/>
<circle cx="34.0" cy="156.2" r="1.3" fill="#e3d0f2"/>
<circle cx="36.3" cy="145.6" r="1.3" fill="#f2b9d9"/>
<circle cx="34.2" cy="54.1" r="1.3" fill="#bde3e8"/>
<circle cx="31.3" cy="156.4" r="1.3" fill="#e3d0f2"/>
<circle cx="37.1" cy="64.3" r="1.3" fill="#f2b9d9"/>
<circle cx="28.5" cy="91.3" r="1.3" fill="#bde3e8"/>
<circle cx="36.7" cy="80.2" r="1.3" fill="#e3d0f2"/>
<circle cx="31.4" cy="115.1" r="1.3" fill="#f2b9d9"/>
<circle cx="39.9" cy="53.0" r="1.3" fill="#bde3e8"/>
<circle cx="28.6" cy="68.7" r="1.3" fill="#e3d0f2"/>
<circle cx="33.5" cy="117.2" r="1.3" fill="#f2b9d9"/>
<circle cx="30.7" cy="133.4" r="1.3" fill="#bde3e8"/>
<circle cx="37.5" cy="92.2" r="1.3" fill="#e3d0f2"/>
<circle cx="30.8" cy="157.8" r="1.3" fill="#f2b9d9"/>
<circle cx="32.1" cy="136.6" r="1.3" fill="#bde3e8"/>
<circle cx="31.1" cy="52.2" r="1.3" fill="#e3d0f2"/>
<circle cx="37.8" cy="62.6" r="1.3" fill="#f2b9d9"/>
<circle cx="40.2" cy="90.9" r="1.3" fill="#bde3e8"/>
<circle cx="30.6" cy="52.5" r="1.3" fill="#e3d0f2"/>
<circle cx="33.5" cy="114.8" r="1.3" fill="#f2b9d9"/>
<circle cx="40.2" cy="41.6" r="1.3" fill="#bde3e8"/>
<circle cx="33.2" cy="51.0" r="1.3" fill="#e3d0f2"/>
<circle cx="40.5" cy="41.0" r="1.3" fill="#f2b9d9"/>
<circle cx="28.9" cy="29.5" r="1.3" fill="#bde3e8"/>
<circle cx="33.2" cy="147.6" r="1.3" fill="#e3d0f2"/>
<circle cx="39.3" cy="124.3" r="1.3" fill="#f2b9d9"/>
<circle cx="40.8" cy="152.4" r="1.3" fill="#bde3e8"/>
<circle cx="32.3" cy="47.2" r="1.3" fill="#e3d0f2"/>
<circle cx="40.0" cy="126.2" r="1.3" fill="#f2b9d9"/>
<circle cx="28.6" cy="114.7" r="1.3" fill="#bde3e8"/>
<circle cx="33.0" cy="73.7" r="1.3" fill="#e3d0f2"/>
<circle cx="32.4" cy="44.9" r="1.3" fill="#f2b9d9"/>
<circle cx="28.2" cy="60.5" r="1.3" fill="#bde3e8"/>
<circle cx="32.6" cy="155.7" r="1.3" fill="#e3d0f2"/>
<circle cx="29.8" cy="157.0" r="1.3" fill="#f2b9d9"/>
<circle cx="30.8" cy="71.3" r="1.3" fill="#bde3e8"/>
<circle cx="38.6" cy="136.9" r="1.3" fill="#e3d0f2"/>
<circle cx="33.6" cy="27.9" r="1.3" fill="#f2b9d9"/>
<circle cx="34.2" cy="73.6" r="1.3" fill="#bde3e8"/>
<circle cx="39.8" cy="48.2" r="1.3" fill="#e3d0f2"/>
<circle cx="32.8" cy="147.5" r="1.3" fill="#f2b9d9"/>
<rect x="43" y="20" width="11" height="143" fill="#f7d83a"/>
<circle cx="44.5" cy="78.9" r="1.3" fill="#1ea98b"/>
<circle cx="51.2" cy="129.1" r="1.3" fill="#e56aa7"/>
<circle cx="44.5" cy="25.9" r="1.3" fill="#7b97d9"/>
<circle cx="44.7" cy="150.7" r="1.3" fill="#8c6dc2"/>
<circle cx="46.4" cy="126.4" r="1.3" fill="#1ea98b"/>
<circle cx="51.9" cy="68.8" r="1.3" fill="#e56aa7"/>
<circle cx="46.5" cy="156.0" r="1.3" fill="#7b97d9"/>
<circle cx="49.5" cy="58.0" r="1.3" fill="#8c6dc2"/>
<circle cx="50.4" cy="65.6" r="1.3" fill="#1ea98b"/>
<circle cx="46.6" cy="21.5" r="1.3" fill="#e56aa7"/>
<circle cx="50.7" cy="150.2" r="1.3" fill="#7b97d9"/>
<circle cx="49.7" cy="154.0" r="1.3" fill="#8c6dc2"/>
<circle cx="44.4" cy="54.0" r="1.3" fill="#1ea98b"/>
<circle cx="48.3" cy="155.9" r="1.3" fill="#e56aa7"/>
<circle cx="52.4" cy="75.5" r="1.3" fill="#7b97d9"/>
<circle cx="46.4" cy="81.6" r="1.3" fill="#8c6dc2"/>
<circle cx="48.4" cy="151.9" r="1.3" fill="#1ea98b"/>
<circle cx="45.8" cy="134.2" r="1.3" fill="#e56aa7"/>
<circle cx="50.6" cy="137.0" r="1.3" fill="#7b97d9"/>
<circle cx="50.8" cy="106.6" r="1.3" fill="#8c6dc2"/>
<circle cx="47.0" cy="66.1" r="1.3" fill="#1ea98b"/>
<circle cx="47.3" cy="131.3" r="1.3" fill="#e56aa7"/>
<circle cx="44.9" cy="48.8" r="1.3" fill="#7b97d9"/>
<circle cx="50.7" cy="55.9" r="1.3" fill="#8c6dc2"/>
<circle cx="44.8" cy="25.8" r="1.3" fill="#1ea98b"/>
<circle cx="49.0" cy="66.9" r="1.3" fill="#e56aa7"/>
<circle cx="52.6" cy="145.6" r="1.3" fill="#7b97d9"/>
<circle cx="52.7" cy="58.3" r="1.3" fill="#8c6dc2"/>
<circle cx="44.9" cy="34.6" r="1.3" fill="#1ea98b"/>
<circle cx="48.5" cy="121.1" r="1.3" fill="#e56aa7"/>
<circle cx="48.0" cy="54.0" r="1.3" fill="#7b97d9"/>
<circle cx="47.8" cy="108.5" r="1.3" fill="#8c6dc2"/>
<circle cx="50.0" cy="126.5" r="1.3" fill="#1ea98b"/>
<circle cx="51.5" cy="114.7" r="1.3" fill="#e56aa7"/>
<circle cx="45.2" cy="139.6" r="1.3" fill="#7b97d9"/>
<circle cx="46.7" cy="100.9" r="1.3" fill="#8c6dc2"/>
<circle cx="47.4" cy="125.1" r="1.3" fill="#1ea98b"/>
<circle cx="45.9" cy="55.9" r="1.3" fill="#e56aa7"/>
<circle cx="46.3" cy="42.6" r="1.3" fill="#7b97d9"/>
<circle cx="51.8" cy="102.5" r="1.3" fill="#8c6dc2"/>
<circle cx="47.0" cy="76.8" r="1.3" fill="#1ea98b"/>
<circle cx="52.7" cy="92.5" r="1.3" fill="#e56aa7"/>
<circle cx="46.2" cy="135.0" r="1.3" fill="#7b97d9"/>
<circle cx="49.8" cy="160.7" r="1.3" fill="#8c6dc2"/>
<circle cx="45.1" cy="87.9" r="1.3" fill="#1ea98b"/>
<circle cx="51.2" cy="139.5" r="1.3" fill="#e56aa7"/>
<circle cx="52.1" cy="26.7" r="1.3" fill="#7b97d9"/>
<circle cx="46.7" cy="37.8" r="1.3" fill="#8c6dc2"/>
<circle cx="45.8" cy="158.2" r="1.3" fill="#1ea98b"/>
<circle cx="49.2" cy="152.2" r="1.3" fill="#e56aa7"/>
<circle cx="47.4" cy="143.1" r="1.3" fill="#7b97d9"/>
<circle cx="48.1" cy="57.7" r="1.3" fill="#8c6dc2"/>
<circle cx="50.9" cy="154.3" r="1.3" fill="#1ea98b"/>
<circle cx="45.1" cy="105.1" r="1.3" fill="#e56aa7"/>
<circle cx="49.5" cy="51.7" r="1.3" fill="#7b97d9"/>
<circle cx="47.4" cy="40.9" r="1.3" fill="#8c6dc2"/>
<circle cx="46.0" cy="56.9" r="1.3" fill="#1ea98b"/>
<circle cx="49.4" cy="112.9" r="1.3" fill="#e56aa7"/>
<circle cx="45.9" cy="22.6" r="1.3" fill="#7b97d9"/>
<circle cx="47.0" cy="116.6" r="1.3" fill="#8c6dc2"/>
<circle cx="45.8" cy="65.0" r="1.3" fill="#1ea98b"/>
<circle cx="45.9" cy="133.1" r="1.3" fill="#e56aa7"/>
<circle cx="48.9" cy="29.9" r="1.3" fill="#7b97d9"/>
<circle cx="45.1" cy="76.7" r="1.3" fill="#8c6dc2"/>
<circle cx="48.9" cy="111.1" r="1.3" fill="#1ea98b"/>
<circle cx="45.0" cy="44.1" r="1.3" fill="#e56aa7"/>
<circle cx="50.2" cy="78.8" r="1.3" fill="#7b97d9"/>
<circle cx="46.6" cy="64.4" r="1.3" fill="#8c6dc2"/>
<circle cx="52.4" cy="65.0" r="1.3" fill="#1ea98b"/>
<circle cx="49.1" cy="71.4" r="1.3" fill="#e56aa7"/>
<circle cx="47.8" cy="142.9" r="1.3" fill="#7b97d9"/>
<circle cx="52.8" cy="72.3" r="1.3" fill="#8c6dc2"/>
<circle cx="45.9" cy="123.7" r="1.3" fill="#1ea98b"/>
<circle cx="46.0" cy="21.8" r="1.3" fill="#e56aa7"/>
<circle cx="52.0" cy="80.7" r="1.3" fill="#7b97d9"/>
<circle cx="51.3" cy="78.3" r="1.3" fill="#8c6dc2"/>
<circle cx="51.8" cy="86.0" r="1.3" fill="#1ea98b"/>
<circle cx="45.6" cy="23.1" r="1.3" fill="#e56aa7"/>
<circle cx="48.9" cy="111.3" r="1.3" fill="#7b97d9"/>
<circle cx="52.0" cy="33.6" r="1.3" fill="#8c6dc2"/>
<circle cx="49.6" cy="73.3" r="1.3" fill="#1ea98b"/>
<circle cx="48.5" cy="41.6" r="1.3" fill="#e56aa7"/>
<circle cx="46.6" cy="94.5" r="1.3" fill="#7b97d9"/>
<circle cx="52.2" cy="36.3" r="1.3" fill="#8c6dc2"/>
<circle cx="48.4" cy="134.5" r="1.3" fill="#1ea98b"/>
<circle cx="52.5" cy="48.8" r="1.3" fill="#e56aa7"/>
<circle cx="45.3" cy="154.0" r="1.3" fill="#7b97d9"/>
<circle cx="52.6" cy="89.1" r="1.3" fill="#8c6dc2"/>
<circle cx="44.7" cy="151.6" r="1.3" fill="#1ea98b"/>
<circle cx="47.5" cy="148.5" r="1.3" fill="#e56aa7"/>
<circle cx="49.5" cy="137.3" r="1.3" fill="#7b97d9"/>
<circle cx="45.6" cy="131.8" r="1.3" fill="#8c6dc2"/>
<circle cx="46.1" cy="78.0" r="1.3" fill="#1ea98b"/>
<circle cx="51.5" cy="137.9" r="1.3" fill="#e56aa7"/>
<circle cx="45.8" cy="51.8" r="1.3" fill="#7b97d9"/>
<circle cx="47.6" cy="94.0" r="1.3" fill="#8c6dc2"/>
<circle cx="47.5" cy="38.4" r="1.3" fill="#1ea98b"/>
<circle cx="46.3" cy="123.2" r="1.3" fill="#e56aa7"/>
<circle cx="51.9" cy="26.8" r="1.3" fill="#7b97d9"/>
<circle cx="49.0" cy="127.8" r="1.3" fill="#8c6dc2"/>
<circle cx="44.5" cy="139.2" r="1.3" fill="#1ea98b"/>
<circle cx="45.2" cy="105.5" r="1.3" fill="#e56aa7"/>
<circle cx="48.9" cy="109.4" r="1.3" fill="#7b97d9"/>
<circle cx="46.8" cy="80.2" r="1.3" fill="#8c6dc2"/>
<circle cx="49.2" cy="81.0" r="1.3" fill="#1ea98b"/>
<circle cx="49.9" cy="84.0" r="1.3" fill="#e56aa7"/>
<circle cx="48.0" cy="24.3" r="1.3" fill="#7b97d9"/>
<circle cx="49.5" cy="90.0" r="1.3" fill="#8c6dc2"/>
<circle cx="46.2" cy="128.7" r="1.3" fill="#1ea98b"/>
<circle cx="50.9" cy="85.6" r="1.3" fill="#e56aa7"/>
<circle cx="45.7" cy="87.7" r="1.3" fill="#7b97d9"/>
<circle cx="45.1" cy="39.1" r="1.3" fill="#8c6dc2"/>
<circle cx="47.9" cy="33.9" r="1.3" fill="#1ea98b"/>
<circle cx="48.0" cy="92.9" r="1.3" fill="#e56aa7"/>
<circle cx="44.6" cy="110.7" r="1.3" fill="#7b97d9"/>
<circle cx="44.9" cy="124.4" r="1.3" fill="#8c6dc2"/>
<circle cx="50.9" cy="93.1" r="1.3" fill="#1ea98b"/>
<circle cx="44.7" cy="92.1" r="1.3" fill="#e56aa7"/>
<circle cx="47.4" cy="155.1" r="1.3" fill="#7b97d9"/>
<circle cx="45.4" cy="141.8" r="1.3" fill="#8c6dc2"/>
<circle cx="52.8" cy="124.2" r="1.3" fill="#1ea98b"/>
<circle cx="51.2" cy="48.3" r="1.3" fill="#e56aa7"/>
<circle cx="52.6" cy="90.4" r="1.3" fill="#7b97d9"/>
<circle cx="52.4" cy="150.2" r="1.3" fill="#8c6dc2"/>
<circle cx="45.6" cy="132.2" r="1.3" fill="#1ea98b"/>
<circle cx="52.2" cy="30.2" r="1.3" fill="#e56aa7"/>
<circle cx="47.2" cy="127.6" r="1.3" fill="#7b97d9"/>
<circle cx="45.6" cy="147.4" r="1.3" fill="#8c6dc2"/>
<circle cx="46.6" cy="136.0" r="1.3" fill="#1ea98b"/>
<circle cx="45.4" cy="91.8" r="1.3" fill="#e56aa7"/>
<circle cx="52.1" cy="50.4" r="1.3" fill="#7b97d9"/>
<circle cx="46.5" cy="92.3" r="1.3" fill="#8c6dc2"/>
<circle cx="46.9" cy="26.2" r="1.3" fill="#1ea98b"/>
<circle cx="45.8" cy="43.7" r="1.3" fill="#e56aa7"/>
<circle cx="52.3" cy="116.8" r="1.3" fill="#7b97d9"/>
<circle cx="51.9" cy="44.8" r="1.3" fill="#8c6dc2"/>
<circle cx="50.9" cy="37.2" r="1.3" fill="#1ea98b"/>
<circle cx="48.8" cy="110.7" r="1.3" fill="#e56aa7"/>
<circle cx="47.3" cy="144.1" r="1.3" fill="#7b97d9"/>
<circle cx="49.0" cy="102.8" r="1.3" fill="#8c6dc2"/>
<circle cx="51.8" cy="35.7" r="1.3" fill="#1ea98b"/>
<circle cx="52.7" cy="109.8" r="1.3" fill="#e56aa7"/>
<circle cx="47.6" cy="133.5" r="1.3" fill="#7b97d9"/>
<circle cx="46.5" cy="160.7" r="1.3" fill="#8c6dc2"/>
<circle cx="49.2" cy="71.8" r="1.3" fill="#1ea98b"/>
<circle cx="50.8" cy="83.4" r="1.3" fill="#e56aa7"/>
<circle cx="45.7" cy="125.8" r="1.3" fill="#7b97d9"/>
<circle cx="44.6" cy="136.6" r="1.3" fill="#8c6dc2"/>
<circle cx="46.4" cy="111.1" r="1.3" fill="#1ea98b"/>
<circle cx="52.7" cy="103.6" r="1.3" fill="#e56aa7"/>
<circle cx="49.9" cy="65.1" r="1.3" fill="#7b97d9"/>
<circle cx="44.2" cy="25.8" r="1.3" fill="#8c6dc2"/>
<circle cx="45.5" cy="107.9" r="1.3" fill="#1ea98b"/>
<circle cx="47.9" cy="93.3" r="1.3" fill="#e56aa7"/>
<circle cx="51.9" cy="39.6" r="1.3" fill="#7b97d9"/>
<circle cx="46.2" cy="113.1" r="1.3" fill="#8c6dc2"/>
<circle cx="44.4" cy="21.4" r="1.3" fill="#1ea98b"/>
<circle cx="47.3" cy="36.0" r="1.3" fill="#e56aa7"/>
<circle cx="47.3" cy="52.6" r="1.3" fill="#7b97d9"/>
<circle cx="49.2" cy="104.1" r="1.3" fill="#8c6dc2"/>
<circle cx="46.0" cy="109.0" r="1.3" fill="#1ea98b"/>
<circle cx="48.3" cy="40.0" r="1.3" fill="#e56aa7"/>
<circle cx="52.3" cy="55.3" r="1.3" fill="#7b97d9"/>
<circle cx="45.5" cy="34.5" r="1.3" fill="#8c6dc2"/>
<circle cx="49.7" cy="143.9" r="1.3" fill="#1ea98b"/>
<circle cx="50.9" cy="77.7" r="1.3" fill="#e56aa7"/>
<circle cx="46.5" cy="22.6" r="1.3" fill="#7b97d9"/>
<circle cx="49.7" cy="100.3" r="1.3" fill="#8c6dc2"/>
<circle cx="47.2" cy="112.0" r="1.3" fill="#1ea98b"/>
<circle cx="48.0" cy="153.1" r="1.3" fill="#e56aa7"/>
<circle cx="50.5" cy="56.0" r="1.3" fill="#7b97d9"/>
<circle cx="52.0" cy="27.2" r="1.3" fill="#8c6dc2"/>
<circle cx="48.8" cy="78.2" r="1.3" fill="#1ea98b"/>
<circle cx="46.2" cy="29.2" r="1.3" fill="#e56aa7"/>
<circle cx="50.9" cy="22.7" r="1.3" fill="#7b97d9"/>
<circle cx="48.9" cy="153.7" r="1.3" fill="#8c6dc2"/>
<circle cx="45.4" cy="49.1" r="1.3" fill="#1ea98b"/>
<circle cx="49.4" cy="92.5" r="1.3" fill="#e56aa7"/>
<circle cx="49.7" cy="135.7" r="1.3" fill="#7b97d9"/>
<circle cx="45.7" cy="64.6" r="1.3" fill="#8c6dc2"/>
<circle cx="46.8" cy="27.8" r="1.3" fill="#1ea98b"/>
<circle cx="51.8" cy="131.4" r="1.3" fill="#e56aa7"/>
<circle cx="50.4" cy="21.9" r="1.3" fill="#7b97d9"/>
<circle cx="51.5" cy="126.1" r="1.3" fill="#8c6dc2"/>
<circle cx="48.2" cy="125.6" r="1.3" fill="#1ea98b"/>
<circle cx="48.1" cy="52.9" r="1.3" fill="#e56aa7"/>
<circle cx="45.1" cy="53.8" r="1.3" fill="#7b97d9"/>
<circle cx="44.5" cy="68.3" r="1.3" fill="#8c6dc2"/>
<circle cx="50.6" cy="119.0" r="1.3" fill="#1ea98b"/>
<circle cx="51.5" cy="121.3" r="1.3" fill="#e56aa7"/>
<circle cx="46.5" cy="99.1" r="1.3" fill="#7b97d9"/>
<circle cx="48.0" cy="132.2" r="1.3" fill="#8c6dc2"/>
<circle cx="48.7" cy="58.4" r="1.3" fill="#1ea98b"/>
<circle cx="49.7" cy="157.1" r="1.3" fill="#e56aa7"/>
<circle cx="46.1" cy="145.1" r="1.3" fill="#7b97d9"/>
<circle cx="44.3" cy="57.7" r="1.3" fill="#8c6dc2"/>
<circle cx="46.2" cy="125.9" r="1.3" fill="#1ea98b"/>
<circle cx="52.3" cy="126.2" r="1.3" fill="#e56aa7"/>
<circle cx="47.0" cy="145.1" r="1.3" fill="#7b97d9"/>
<circle cx="47.0" cy="54.7" r="1.3" fill="#8c6dc2"/>
<circle cx="52.0" cy="109.9" r="1.3" fill="#1ea98b"/>
<circle cx="50.2" cy="114.8" r="1.3" fill="#e56aa7"/>
<circle cx="52.6" cy="87.2" r="1.3" fill="#7b97d9"/>
<circle cx="51.4" cy="119.4" r="1.3" fill="#8c6dc2"/>
<circle cx="51.6" cy="82.6" r="1.3" fill="#1ea98b"/>
<circle cx="50.4" cy="101.4" r="1.3" fill="#e56aa7"/>
<circle cx="46.8" cy="50.9" r="1.3" fill="#7b97d9"/>
<circle cx="49.6" cy="32.0" r="1.3" fill="#8c6dc2"/>
<circle cx="52.0" cy="41.4" r="1.3" fill="#1ea98b"/>
<circle cx="44.4" cy="36.0" r="1.3" fill="#e56aa7"/>
<circle cx="52.2" cy="69.6" r="1.3" fill="#7b97d9"/>
<circle cx="45.4" cy="25.1" r="1.3" fill="#8c6dc2"/>
<circle cx="44.6" cy="118.7" r="1.3" fill="#1ea98b"/>
<circle cx="49.7" cy="119.3" r="1.3" fill="#e56aa7"/>
<circle cx="50.5" cy="30.3" r="1.3" fill="#7b97d9"/>
<circle cx="49.3" cy="72.2" r="1.3" fill="#8c6dc2"/>
<circle cx="51.2" cy="136.6" r="1.3" fill="#1ea98b"/>
<circle cx="51.9" cy="30.3" r="1.3" fill="#e56aa7"/>
<circle cx="51.7" cy="149.9" r="1.3" fill="#7b97d9"/>
<circle cx="52.3" cy="36.1" r="1.3" fill="#8c6dc2"/>
<circle cx="46.0" cy="36.8" r="1.3" fill="#1ea98b"/>
<circle cx="44.5" cy="140.5" r="1.3" fill="#e56aa7"/>
<circle cx="51.2" cy="110.4" r="1.3" fill="#7b97d9"/>
<circle cx="51.3" cy="110.0" r="1.3" fill="#8c6dc2"/>
<circle cx="46.7" cy="35.1" r="1.3" fill="#1ea98b"/>
<circle cx="45.0" cy="127.8" r="1.3" fill="#e56aa7"/>
<circle cx="46.0" cy="66.0" r="1.3" fill="#7b97d9"/>
<circle cx="47.8" cy="23.9" r="1.3" fill="#8c6dc2"/>
<circle cx="46.4" cy="60.8" r="1.3" fill="#1ea98b"/>
<circle cx="50.4" cy="72.9" r="1.3" fill="#e56aa7"/>
<circle cx="47.0" cy="156.9" r="1.3" fill="#7b97d9"/>
<circle cx="48.5" cy="141.0" r="1.3" fill="#8c6dc2"/>
<circle cx="49.5" cy="25.4" r="1.3" fill="#1ea98b"/>
<circle cx="47.8" cy="82.5" r="1.3" fill="#e56aa7"/>
<circle cx="50.8" cy="69.9" r="1.3" fill="#7b97d9"/>
<rect x="55.6" y="20" width="10.2" height="143" fill="#f6cde3"/>
<circle cx="62.3" cy="96.8" r="1.3" fill="#1ea98b"/>
<circle cx="58.5" cy="142.6" r="1.3" fill="#f7d83a"/>
<circle cx="57.5" cy="136.6" r="1.3" fill="#fff"/>
<circle cx="58.1" cy="21.2" r="1.3" fill="#e56aa7"/>
<circle cx="58.4" cy="128.5" r="1.3" fill="#1ea98b"/>
<circle cx="64.4" cy="21.6" r="1.3" fill="#f7d83a"/>
<circle cx="60.6" cy="90.3" r="1.3" fill="#fff"/>
<circle cx="63.0" cy="47.0" r="1.3" fill="#e56aa7"/>
<circle cx="60.7" cy="70.0" r="1.3" fill="#1ea98b"/>
<circle cx="63.3" cy="57.7" r="1.3" fill="#f7d83a"/>
<circle cx="64.2" cy="61.0" r="1.3" fill="#fff"/>
<circle cx="58.5" cy="119.6" r="1.3" fill="#e56aa7"/>
<circle cx="60.7" cy="36.5" r="1.3" fill="#1ea98b"/>
<circle cx="61.8" cy="32.4" r="1.3" fill="#f7d83a"/>
<circle cx="62.9" cy="119.3" r="1.3" fill="#fff"/>
<circle cx="62.9" cy="109.5" r="1.3" fill="#e56aa7"/>
<circle cx="59.6" cy="77.6" r="1.3" fill="#1ea98b"/>
<circle cx="59.9" cy="146.5" r="1.3" fill="#f7d83a"/>
<circle cx="57.5" cy="146.3" r="1.3" fill="#fff"/>
<circle cx="57.0" cy="50.1" r="1.3" fill="#e56aa7"/>
<circle cx="58.9" cy="148.1" r="1.3" fill="#1ea98b"/>
<circle cx="60.7" cy="74.5" r="1.3" fill="#f7d83a"/>
<circle cx="63.7" cy="53.9" r="1.3" fill="#fff"/>
<circle cx="60.4" cy="95.9" r="1.3" fill="#e56aa7"/>
<circle cx="62.7" cy="127.2" r="1.3" fill="#1ea98b"/>
<circle cx="61.8" cy="70.1" r="1.3" fill="#f7d83a"/>
<circle cx="59.3" cy="42.9" r="1.3" fill="#fff"/>
<circle cx="63.4" cy="114.4" r="1.3" fill="#e56aa7"/>
<circle cx="62.6" cy="44.9" r="1.3" fill="#1ea98b"/>
<circle cx="60.2" cy="130.1" r="1.3" fill="#f7d83a"/>
<circle cx="61.3" cy="38.8" r="1.3" fill="#fff"/>
<circle cx="60.4" cy="145.8" r="1.3" fill="#e56aa7"/>
<circle cx="58.7" cy="48.0" r="1.3" fill="#1ea98b"/>
<circle cx="59.2" cy="120.1" r="1.3" fill="#f7d83a"/>
<circle cx="63.4" cy="42.8" r="1.3" fill="#fff"/>
<circle cx="58.0" cy="55.9" r="1.3" fill="#e56aa7"/>
<circle cx="59.3" cy="94.6" r="1.3" fill="#1ea98b"/>
<circle cx="58.1" cy="67.3" r="1.3" fill="#f7d83a"/>
<circle cx="58.3" cy="158.5" r="1.3" fill="#fff"/>
<circle cx="62.5" cy="35.4" r="1.3" fill="#e56aa7"/>
<circle cx="64.3" cy="35.3" r="1.3" fill="#1ea98b"/>
<circle cx="59.8" cy="159.7" r="1.3" fill="#f7d83a"/>
<circle cx="63.0" cy="124.4" r="1.3" fill="#fff"/>
<circle cx="60.2" cy="48.7" r="1.3" fill="#e56aa7"/>
<circle cx="61.8" cy="36.1" r="1.3" fill="#1ea98b"/>
<circle cx="58.4" cy="75.8" r="1.3" fill="#f7d83a"/>
<circle cx="57.1" cy="77.3" r="1.3" fill="#fff"/>
<circle cx="63.0" cy="118.8" r="1.3" fill="#e56aa7"/>
<circle cx="60.7" cy="110.2" r="1.3" fill="#1ea98b"/>
<circle cx="60.4" cy="41.0" r="1.3" fill="#f7d83a"/>
<circle cx="61.5" cy="78.1" r="1.3" fill="#fff"/>
<circle cx="62.6" cy="149.0" r="1.3" fill="#e56aa7"/>
<circle cx="60.2" cy="101.9" r="1.3" fill="#1ea98b"/>
<circle cx="62.6" cy="80.4" r="1.3" fill="#f7d83a"/>
<circle cx="58.6" cy="122.8" r="1.3" fill="#fff"/>
<circle cx="63.7" cy="130.1" r="1.3" fill="#e56aa7"/>
<circle cx="62.3" cy="141.2" r="1.3" fill="#1ea98b"/>
<circle cx="62.1" cy="111.5" r="1.3" fill="#f7d83a"/>
<circle cx="60.3" cy="65.1" r="1.3" fill="#fff"/>
<circle cx="61.7" cy="34.8" r="1.3" fill="#e56aa7"/>
<circle cx="60.1" cy="131.3" r="1.3" fill="#1ea98b"/>
<circle cx="62.4" cy="109.8" r="1.3" fill="#f7d83a"/>
<circle cx="58.8" cy="80.7" r="1.3" fill="#fff"/>
<circle cx="60.4" cy="108.6" r="1.3" fill="#e56aa7"/>
<circle cx="60.0" cy="116.2" r="1.3" fill="#1ea98b"/>
<circle cx="64.1" cy="46.8" r="1.3" fill="#f7d83a"/>
<circle cx="61.9" cy="130.7" r="1.3" fill="#fff"/>
<circle cx="59.8" cy="90.1" r="1.3" fill="#e56aa7"/>
<circle cx="64.4" cy="26.4" r="1.3" fill="#1ea98b"/>
<circle cx="61.0" cy="43.7" r="1.3" fill="#f7d83a"/>
<circle cx="62.9" cy="153.6" r="1.3" fill="#fff"/>
<circle cx="60.8" cy="35.3" r="1.3" fill="#e56aa7"/>
<circle cx="61.3" cy="97.3" r="1.3" fill="#1ea98b"/>
<circle cx="62.4" cy="93.2" r="1.3" fill="#f7d83a"/>
<circle cx="61.8" cy="137.9" r="1.3" fill="#fff"/>
<circle cx="60.9" cy="78.9" r="1.3" fill="#e56aa7"/>
<circle cx="64.2" cy="50.6" r="1.3" fill="#1ea98b"/>
<circle cx="62.1" cy="76.3" r="1.3" fill="#f7d83a"/>
<circle cx="62.7" cy="38.3" r="1.3" fill="#fff"/>
<circle cx="64.5" cy="71.1" r="1.3" fill="#e56aa7"/>
<circle cx="57.2" cy="59.7" r="1.3" fill="#1ea98b"/>
<circle cx="59.9" cy="22.9" r="1.3" fill="#f7d83a"/>
<circle cx="60.1" cy="80.3" r="1.3" fill="#fff"/>
<circle cx="62.2" cy="70.6" r="1.3" fill="#e56aa7"/>
<circle cx="58.9" cy="52.6" r="1.3" fill="#1ea98b"/>
<circle cx="62.6" cy="153.5" r="1.3" fill="#f7d83a"/>
<circle cx="60.9" cy="51.9" r="1.3" fill="#fff"/>
<circle cx="63.1" cy="76.3" r="1.3" fill="#e56aa7"/>
<circle cx="58.5" cy="39.2" r="1.3" fill="#1ea98b"/>
<circle cx="62.9" cy="135.1" r="1.3" fill="#f7d83a"/>
<circle cx="61.7" cy="87.2" r="1.3" fill="#fff"/>
<circle cx="61.2" cy="52.9" r="1.3" fill="#e56aa7"/>
<circle cx="64.3" cy="70.8" r="1.3" fill="#1ea98b"/>
<circle cx="61.8" cy="136.4" r="1.3" fill="#f7d83a"/>
<circle cx="63.2" cy="87.0" r="1.3" fill="#fff"/>
<circle cx="59.1" cy="98.3" r="1.3" fill="#e56aa7"/>
<circle cx="57.8" cy="138.6" r="1.3" fill="#1ea98b"/>
<circle cx="59.6" cy="140.9" r="1.3" fill="#f7d83a"/>
<circle cx="58.9" cy="74.0" r="1.3" fill="#fff"/>
<circle cx="58.8" cy="81.1" r="1.3" fill="#e56aa7"/>
<circle cx="58.2" cy="21.4" r="1.3" fill="#1ea98b"/>
<circle cx="62.4" cy="60.7" r="1.3" fill="#f7d83a"/>
<circle cx="58.7" cy="63.6" r="1.3" fill="#fff"/>
<circle cx="60.5" cy="81.4" r="1.3" fill="#e56aa7"/>
<circle cx="61.8" cy="114.0" r="1.3" fill="#1ea98b"/>
<circle cx="59.6" cy="152.0" r="1.3" fill="#f7d83a"/>
<circle cx="63.5" cy="29.0" r="1.3" fill="#fff"/>
<circle cx="63.3" cy="148.7" r="1.3" fill="#e56aa7"/>
<circle cx="62.9" cy="40.8" r="1.3" fill="#1ea98b"/>
<circle cx="63.3" cy="110.3" r="1.3" fill="#f7d83a"/>
<circle cx="56.9" cy="22.6" r="1.3" fill="#fff"/>
<circle cx="64.2" cy="113.5" r="1.3" fill="#e56aa7"/>
<circle cx="58.8" cy="35.3" r="1.3" fill="#1ea98b"/>
<circle cx="57.9" cy="53.9" r="1.3" fill="#f7d83a"/>
<circle cx="62.9" cy="69.8" r="1.3" fill="#fff"/>
<circle cx="58.0" cy="148.5" r="1.3" fill="#e56aa7"/>
<circle cx="63.0" cy="44.7" r="1.3" fill="#1ea98b"/>
<circle cx="63.8" cy="106.8" r="1.3" fill="#f7d83a"/>
<circle cx="62.9" cy="115.3" r="1.3" fill="#fff"/>
<circle cx="63.8" cy="132.1" r="1.3" fill="#e56aa7"/>
<circle cx="63.3" cy="48.8" r="1.3" fill="#1ea98b"/>
<circle cx="62.2" cy="95.8" r="1.3" fill="#f7d83a"/>
<circle cx="62.6" cy="82.8" r="1.3" fill="#fff"/>
<circle cx="63.7" cy="99.3" r="1.3" fill="#e56aa7"/>
<circle cx="58.9" cy="54.0" r="1.3" fill="#1ea98b"/>
<circle cx="57.9" cy="90.5" r="1.3" fill="#f7d83a"/>
<circle cx="57.3" cy="86.9" r="1.3" fill="#fff"/>
<circle cx="57.9" cy="90.3" r="1.3" fill="#e56aa7"/>
<circle cx="60.7" cy="97.1" r="1.3" fill="#1ea98b"/>
<circle cx="63.5" cy="21.9" r="1.3" fill="#f7d83a"/>
<circle cx="63.4" cy="87.0" r="1.3" fill="#fff"/>
<circle cx="61.2" cy="114.8" r="1.3" fill="#e56aa7"/>
<circle cx="63.4" cy="73.9" r="1.3" fill="#1ea98b"/>
<rect x="66.6" y="20" width="11.8" height="143" fill="#f4f1f8"/>
<circle cx="71.7" cy="156.4" r="1.3" fill="#e7d5f0"/>
<circle cx="68.5" cy="110.8" r="1.3" fill="#f7cfe0"/>
<circle cx="73.8" cy="25.0" r="1.3" fill="#f6e6a8"/>
<circle cx="73.5" cy="117.2" r="1.3" fill="#e7d5f0"/>
<circle cx="76.6" cy="67.6" r="1.3" fill="#f7cfe0"/>
<circle cx="77.0" cy="93.0" r="1.3" fill="#f6e6a8"/>
<circle cx="72.4" cy="147.6" r="1.3" fill="#e7d5f0"/>
<circle cx="68.1" cy="122.3" r="1.3" fill="#f7cfe0"/>
<circle cx="73.7" cy="68.7" r="1.3" fill="#f6e6a8"/>
<circle cx="75.9" cy="72.6" r="1.3" fill="#e7d5f0"/>
<circle cx="72.3" cy="95.1" r="1.3" fill="#f7cfe0"/>
<circle cx="75.0" cy="50.7" r="1.3" fill="#f6e6a8"/>
<circle cx="71.9" cy="80.6" r="1.3" fill="#e7d5f0"/>
<circle cx="73.0" cy="137.6" r="1.3" fill="#f7cfe0"/>
<circle cx="70.6" cy="137.7" r="1.3" fill="#f6e6a8"/>
<circle cx="71.6" cy="92.0" r="1.3" fill="#e7d5f0"/>
<circle cx="70.4" cy="92.4" r="1.3" fill="#f7cfe0"/>
<circle cx="77.0" cy="113.3" r="1.3" fill="#f6e6a8"/>
<circle cx="75.2" cy="67.7" r="1.3" fill="#e7d5f0"/>
<circle cx="70.8" cy="63.2" r="1.3" fill="#f7cfe0"/>
<circle cx="73.3" cy="110.5" r="1.3" fill="#f6e6a8"/>
<circle cx="75.2" cy="26.6" r="1.3" fill="#e7d5f0"/>
<circle cx="74.6" cy="145.9" r="1.3" fill="#f7cfe0"/>
<circle cx="72.9" cy="28.0" r="1.3" fill="#f6e6a8"/>
<circle cx="70.6" cy="21.9" r="1.3" fill="#e7d5f0"/>
<circle cx="69.6" cy="150.9" r="1.3" fill="#f7cfe0"/>
<circle cx="73.5" cy="113.8" r="1.3" fill="#f6e6a8"/>
<circle cx="75.2" cy="149.3" r="1.3" fill="#e7d5f0"/>
<circle cx="73.6" cy="108.0" r="1.3" fill="#f7cfe0"/>
<circle cx="73.7" cy="119.2" r="1.3" fill="#f6e6a8"/>
<circle cx="73.4" cy="117.0" r="1.3" fill="#e7d5f0"/>
<circle cx="69.8" cy="115.0" r="1.3" fill="#f7cfe0"/>
<circle cx="72.1" cy="128.5" r="1.3" fill="#f6e6a8"/>
<circle cx="68.8" cy="46.6" r="1.3" fill="#e7d5f0"/>
<circle cx="68.1" cy="130.2" r="1.3" fill="#f7cfe0"/>
<circle cx="76.4" cy="113.5" r="1.3" fill="#f6e6a8"/>
<circle cx="71.3" cy="137.0" r="1.3" fill="#e7d5f0"/>
<circle cx="75.2" cy="100.3" r="1.3" fill="#f7cfe0"/>
<circle cx="70.2" cy="63.6" r="1.3" fill="#f6e6a8"/>
<circle cx="71.8" cy="65.9" r="1.3" fill="#e7d5f0"/>
<circle cx="71.8" cy="111.5" r="1.3" fill="#f7cfe0"/>
<circle cx="76.6" cy="28.7" r="1.3" fill="#f6e6a8"/>
<circle cx="73.1" cy="26.6" r="1.3" fill="#e7d5f0"/>
<circle cx="68.9" cy="135.3" r="1.3" fill="#f7cfe0"/>
<circle cx="73.2" cy="150.5" r="1.3" fill="#f6e6a8"/>
<circle cx="72.0" cy="23.0" r="1.3" fill="#e7d5f0"/>
<circle cx="71.4" cy="104.5" r="1.3" fill="#f7cfe0"/>
<circle cx="76.6" cy="159.3" r="1.3" fill="#f6e6a8"/>
<circle cx="72.3" cy="79.2" r="1.3" fill="#e7d5f0"/>
<circle cx="68.8" cy="111.9" r="1.3" fill="#f7cfe0"/>
<circle cx="69.8" cy="42.4" r="1.3" fill="#f6e6a8"/>
<circle cx="67.9" cy="21.7" r="1.3" fill="#e7d5f0"/>
<circle cx="74.2" cy="38.2" r="1.3" fill="#f7cfe0"/>
<circle cx="76.9" cy="33.4" r="1.3" fill="#f6e6a8"/>
<circle cx="76.0" cy="39.2" r="1.3" fill="#e7d5f0"/>
<circle cx="68.0" cy="122.4" r="1.3" fill="#f7cfe0"/>
<circle cx="70.1" cy="124.4" r="1.3" fill="#f6e6a8"/>
<circle cx="69.6" cy="28.1" r="1.3" fill="#e7d5f0"/>
<circle cx="75.1" cy="121.6" r="1.3" fill="#f7cfe0"/>
<circle cx="75.8" cy="123.9" r="1.3" fill="#f6e6a8"/>
<circle cx="68.6" cy="109.6" r="1.3" fill="#e7d5f0"/>
<circle cx="74.5" cy="85.9" r="1.3" fill="#f7cfe0"/>
<circle cx="76.6" cy="56.8" r="1.3" fill="#f6e6a8"/>
<circle cx="76.9" cy="122.1" r="1.3" fill="#e7d5f0"/>
<circle cx="67.9" cy="23.1" r="1.3" fill="#f7cfe0"/>
<circle cx="73.9" cy="136.2" r="1.3" fill="#f6e6a8"/>
<circle cx="68.5" cy="64.9" r="1.3" fill="#e7d5f0"/>
<circle cx="74.7" cy="44.4" r="1.3" fill="#f7cfe0"/>
<circle cx="75.9" cy="89.6" r="1.3" fill="#f6e6a8"/>
<circle cx="68.4" cy="72.8" r="1.3" fill="#e7d5f0"/>
<circle cx="73.2" cy="82.9" r="1.3" fill="#f7cfe0"/>
<circle cx="74.2" cy="41.4" r="1.3" fill="#f6e6a8"/>
<circle cx="75.3" cy="72.2" r="1.3" fill="#e7d5f0"/>
<circle cx="73.9" cy="109.8" r="1.3" fill="#f7cfe0"/>
<circle cx="71.7" cy="75.4" r="1.3" fill="#f6e6a8"/>
<circle cx="75.2" cy="154.2" r="1.3" fill="#e7d5f0"/>
<circle cx="75.2" cy="100.9" r="1.3" fill="#f7cfe0"/>
<circle cx="70.5" cy="29.5" r="1.3" fill="#f6e6a8"/>
<circle cx="77.0" cy="120.2" r="1.3" fill="#e7d5f0"/>
<circle cx="75.6" cy="67.8" r="1.3" fill="#f7cfe0"/>
<circle cx="73.5" cy="158.8" r="1.3" fill="#f6e6a8"/>
<circle cx="75.6" cy="105.8" r="1.3" fill="#e7d5f0"/>
<circle cx="70.7" cy="81.4" r="1.3" fill="#f7cfe0"/>
<circle cx="76.1" cy="74.1" r="1.3" fill="#f6e6a8"/>
<circle cx="74.2" cy="105.9" r="1.3" fill="#e7d5f0"/>
<circle cx="76.2" cy="134.9" r="1.3" fill="#f7cfe0"/>
<circle cx="70.5" cy="21.2" r="1.3" fill="#f6e6a8"/>
<circle cx="70.3" cy="80.6" r="1.3" fill="#e7d5f0"/>
<circle cx="73.3" cy="136.1" r="1.3" fill="#f7cfe0"/>
<circle cx="76.1" cy="27.0" r="1.3" fill="#f6e6a8"/>
<circle cx="75.6" cy="135.5" r="1.3" fill="#e7d5f0"/>
<circle cx="76.0" cy="101.6" r="1.3" fill="#f7cfe0"/>
<circle cx="70.4" cy="141.0" r="1.3" fill="#f6e6a8"/>
<circle cx="75.4" cy="117.5" r="1.3" fill="#e7d5f0"/>
<circle cx="76.4" cy="69.9" r="1.3" fill="#f7cfe0"/>
<circle cx="68.6" cy="99.1" r="1.3" fill="#f6e6a8"/>
<circle cx="75.3" cy="49.3" r="1.3" fill="#e7d5f0"/>
<circle cx="74.9" cy="152.4" r="1.3" fill="#f7cfe0"/>
<circle cx="70.0" cy="106.6" r="1.3" fill="#f6e6a8"/>
<circle cx="74.2" cy="86.6" r="1.3" fill="#e7d5f0"/>
<circle cx="69.7" cy="56.9" r="1.3" fill="#f7cfe0"/>
<circle cx="74.9" cy="132.6" r="1.3" fill="#f6e6a8"/>
<circle cx="72.1" cy="33.4" r="1.3" fill="#e7d5f0"/>
<circle cx="75.4" cy="129.9" r="1.3" fill="#f7cfe0"/>
<circle cx="70.0" cy="102.7" r="1.3" fill="#f6e6a8"/>
<circle cx="76.2" cy="145.8" r="1.3" fill="#e7d5f0"/>
<circle cx="72.7" cy="88.2" r="1.3" fill="#f7cfe0"/>
<circle cx="73.3" cy="47.7" r="1.3" fill="#f6e6a8"/>
<circle cx="69.6" cy="46.5" r="1.3" fill="#e7d5f0"/>
<circle cx="74.4" cy="72.2" r="1.3" fill="#f7cfe0"/>
<circle cx="73.1" cy="77.8" r="1.3" fill="#f6e6a8"/>
<circle cx="72.7" cy="42.0" r="1.3" fill="#e7d5f0"/>
<rect x="79.3" y="20" width="11" height="143" fill="#cdb4e6"/>
<circle cx="80.9" cy="161.6" r="1.3" fill="#f7d83a"/>
<circle cx="83.7" cy="36.0" r="1.3" fill="#8c6dc2"/>
<circle cx="85.9" cy="132.0" r="1.3" fill="#fff"/>
<circle cx="81.8" cy="105.2" r="1.3" fill="#f7d83a"/>
<circle cx="83.5" cy="94.2" r="1.3" fill="#8c6dc2"/>
<circle cx="80.7" cy="25.7" r="1.3" fill="#fff"/>
<circle cx="89.0" cy="143.1" r="1.3" fill="#f7d83a"/>
<circle cx="84.7" cy="101.0" r="1.3" fill="#8c6dc2"/>
<circle cx="82.7" cy="130.9" r="1.3" fill="#fff"/>
<circle cx="84.2" cy="154.5" r="1.3" fill="#f7d83a"/>
<circle cx="87.1" cy="136.5" r="1.3" fill="#8c6dc2"/>
<circle cx="88.8" cy="56.8" r="1.3" fill="#fff"/>
<circle cx="80.8" cy="49.3" r="1.3" fill="#f7d83a"/>
<circle cx="82.1" cy="32.8" r="1.3" fill="#8c6dc2"/>
<circle cx="80.9" cy="99.6" r="1.3" fill="#fff"/>
<circle cx="88.0" cy="85.6" r="1.3" fill="#f7d83a"/>
<circle cx="88.6" cy="149.3" r="1.3" fill="#8c6dc2"/>
<circle cx="81.1" cy="105.3" r="1.3" fill="#fff"/>
<circle cx="83.9" cy="37.9" r="1.3" fill="#f7d83a"/>
<circle cx="88.7" cy="57.3" r="1.3" fill="#8c6dc2"/>
<circle cx="85.4" cy="111.3" r="1.3" fill="#fff"/>
<circle cx="88.7" cy="115.4" r="1.3" fill="#f7d83a"/>
<circle cx="83.9" cy="84.2" r="1.3" fill="#8c6dc2"/>
<circle cx="81.9" cy="157.2" r="1.3" fill="#fff"/>
<circle cx="89.0" cy="52.3" r="1.3" fill="#f7d83a"/>
<circle cx="80.8" cy="57.1" r="1.3" fill="#8c6dc2"/>
<circle cx="83.5" cy="148.3" r="1.3" fill="#fff"/>
<circle cx="88.3" cy="139.0" r="1.3" fill="#f7d83a"/>
<circle cx="80.9" cy="131.9" r="1.3" fill="#8c6dc2"/>
<circle cx="86.6" cy="112.2" r="1.3" fill="#fff"/>
<circle cx="89.0" cy="28.9" r="1.3" fill="#f7d83a"/>
<circle cx="81.7" cy="127.4" r="1.3" fill="#8c6dc2"/>
<circle cx="88.6" cy="116.4" r="1.3" fill="#fff"/>
<circle cx="83.1" cy="104.4" r="1.3" fill="#f7d83a"/>
<circle cx="87.0" cy="35.9" r="1.3" fill="#8c6dc2"/>
<circle cx="83.3" cy="57.2" r="1.3" fill="#fff"/>
<circle cx="81.6" cy="88.9" r="1.3" fill="#f7d83a"/>
<circle cx="81.9" cy="54.6" r="1.3" fill="#8c6dc2"/>
<circle cx="81.7" cy="116.5" r="1.3" fill="#fff"/>
<circle cx="80.6" cy="122.1" r="1.3" fill="#f7d83a"/>
<circle cx="82.2" cy="26.1" r="1.3" fill="#8c6dc2"/>
<circle cx="88.5" cy="52.1" r="1.3" fill="#fff"/>
<circle cx="88.5" cy="143.2" r="1.3" fill="#f7d83a"/>
<circle cx="88.1" cy="40.7" r="1.3" fill="#8c6dc2"/>
<circle cx="84.3" cy="34.7" r="1.3" fill="#fff"/>
<circle cx="88.5" cy="139.8" r="1.3" fill="#f7d83a"/>
<circle cx="85.9" cy="84.8" r="1.3" fill="#8c6dc2"/>
<circle cx="83.4" cy="137.1" r="1.3" fill="#fff"/>
<circle cx="84.6" cy="109.6" r="1.3" fill="#f7d83a"/>
<circle cx="81.7" cy="52.3" r="1.3" fill="#8c6dc2"/>
<circle cx="81.0" cy="121.6" r="1.3" fill="#fff"/>
<circle cx="85.3" cy="41.4" r="1.3" fill="#f7d83a"/>
<circle cx="88.0" cy="58.6" r="1.3" fill="#8c6dc2"/>
<circle cx="84.0" cy="43.0" r="1.3" fill="#fff"/>
<circle cx="82.8" cy="139.4" r="1.3" fill="#f7d83a"/>
<circle cx="83.4" cy="44.7" r="1.3" fill="#8c6dc2"/>
<circle cx="84.7" cy="65.8" r="1.3" fill="#fff"/>
<circle cx="88.3" cy="37.1" r="1.3" fill="#f7d83a"/>
<circle cx="88.9" cy="29.0" r="1.3" fill="#8c6dc2"/>
<circle cx="88.2" cy="115.2" r="1.3" fill="#fff"/>
<circle cx="82.3" cy="88.3" r="1.3" fill="#f7d83a"/>
<circle cx="83.0" cy="57.3" r="1.3" fill="#8c6dc2"/>
<circle cx="82.2" cy="72.4" r="1.3" fill="#fff"/>
<circle cx="89.0" cy="161.7" r="1.3" fill="#f7d83a"/>
<circle cx="88.5" cy="34.8" r="1.3" fill="#8c6dc2"/>
<circle cx="83.0" cy="147.4" r="1.3" fill="#fff"/>
<circle cx="81.0" cy="123.4" r="1.3" fill="#f7d83a"/>
<circle cx="83.0" cy="159.0" r="1.3" fill="#8c6dc2"/>
<circle cx="80.6" cy="134.8" r="1.3" fill="#fff"/>
<circle cx="83.4" cy="40.8" r="1.3" fill="#f7d83a"/>
<circle cx="80.5" cy="138.3" r="1.3" fill="#8c6dc2"/>
<circle cx="85.0" cy="47.2" r="1.3" fill="#fff"/>
<circle cx="84.2" cy="149.6" r="1.3" fill="#f7d83a"/>
<circle cx="82.4" cy="101.6" r="1.3" fill="#8c6dc2"/>
<circle cx="81.7" cy="46.4" r="1.3" fill="#fff"/>
<circle cx="87.1" cy="121.3" r="1.3" fill="#f7d83a"/>
<circle cx="82.2" cy="32.2" r="1.3" fill="#8c6dc2"/>
<circle cx="81.3" cy="106.8" r="1.3" fill="#fff"/>
<circle cx="84.8" cy="59.6" r="1.3" fill="#f7d83a"/>
<circle cx="82.3" cy="107.4" r="1.3" fill="#8c6dc2"/>
<circle cx="86.6" cy="135.4" r="1.3" fill="#fff"/>
<circle cx="85.5" cy="49.5" r="1.3" fill="#f7d83a"/>
<circle cx="81.1" cy="124.3" r="1.3" fill="#8c6dc2"/>
<circle cx="84.0" cy="122.8" r="1.3" fill="#fff"/>
<circle cx="81.0" cy="135.3" r="1.3" fill="#f7d83a"/>
<circle cx="83.4" cy="139.7" r="1.3" fill="#8c6dc2"/>
<circle cx="87.9" cy="90.5" r="1.3" fill="#fff"/>
<circle cx="80.6" cy="149.3" r="1.3" fill="#f7d83a"/>
<circle cx="84.6" cy="144.0" r="1.3" fill="#8c6dc2"/>
<circle cx="82.8" cy="47.2" r="1.3" fill="#fff"/>
<circle cx="87.7" cy="72.8" r="1.3" fill="#f7d83a"/>
<circle cx="81.9" cy="73.3" r="1.3" fill="#8c6dc2"/>
<circle cx="85.6" cy="21.7" r="1.3" fill="#fff"/>
<circle cx="85.0" cy="83.9" r="1.3" fill="#f7d83a"/>
<circle cx="84.9" cy="38.0" r="1.3" fill="#8c6dc2"/>
<circle cx="86.6" cy="136.1" r="1.3" fill="#fff"/>
<circle cx="87.9" cy="66.3" r="1.3" fill="#f7d83a"/>
<circle cx="86.6" cy="74.8" r="1.3" fill="#8c6dc2"/>
<circle cx="87.0" cy="29.6" r="1.3" fill="#fff"/>
<circle cx="88.0" cy="155.5" r="1.3" fill="#f7d83a"/>
<circle cx="84.8" cy="93.4" r="1.3" fill="#8c6dc2"/>
<circle cx="85.1" cy="96.8" r="1.3" fill="#fff"/>
<circle cx="80.7" cy="157.4" r="1.3" fill="#f7d83a"/>
<circle cx="82.4" cy="46.7" r="1.3" fill="#8c6dc2"/>
<circle cx="81.4" cy="56.3" r="1.3" fill="#fff"/>
<circle cx="87.5" cy="25.2" r="1.3" fill="#f7d83a"/>
<circle cx="81.3" cy="119.6" r="1.3" fill="#8c6dc2"/>
<circle cx="82.2" cy="23.5" r="1.3" fill="#fff"/>
<circle cx="85.7" cy="102.3" r="1.3" fill="#f7d83a"/>
<circle cx="85.0" cy="120.1" r="1.3" fill="#8c6dc2"/>
<circle cx="81.4" cy="143.6" r="1.3" fill="#fff"/>
<circle cx="86.7" cy="27.4" r="1.3" fill="#f7d83a"/>
<circle cx="81.6" cy="90.6" r="1.3" fill="#8c6dc2"/>
<circle cx="84.8" cy="60.4" r="1.3" fill="#fff"/>
<circle cx="81.5" cy="78.2" r="1.3" fill="#f7d83a"/>
<circle cx="81.7" cy="104.4" r="1.3" fill="#8c6dc2"/>
<circle cx="87.9" cy="41.8" r="1.3" fill="#fff"/>
<circle cx="85.4" cy="126.3" r="1.3" fill="#f7d83a"/>
<circle cx="81.9" cy="137.5" r="1.3" fill="#8c6dc2"/>
<circle cx="88.6" cy="75.8" r="1.3" fill="#fff"/>
<circle cx="84.1" cy="139.4" r="1.3" fill="#f7d83a"/>
<circle cx="85.0" cy="76.8" r="1.3" fill="#8c6dc2"/>
<circle cx="88.6" cy="130.5" r="1.3" fill="#fff"/>
<circle cx="83.4" cy="54.9" r="1.3" fill="#f7d83a"/>
<circle cx="83.4" cy="82.4" r="1.3" fill="#8c6dc2"/>
<circle cx="88.9" cy="134.4" r="1.3" fill="#fff"/>
<circle cx="88.3" cy="135.9" r="1.3" fill="#f7d83a"/>
<circle cx="87.8" cy="28.6" r="1.3" fill="#8c6dc2"/>
<circle cx="84.9" cy="156.1" r="1.3" fill="#fff"/>
<circle cx="88.5" cy="56.1" r="1.3" fill="#f7d83a"/>
<circle cx="84.1" cy="110.2" r="1.3" fill="#8c6dc2"/>
<circle cx="83.6" cy="95.8" r="1.3" fill="#fff"/>
<circle cx="81.1" cy="82.1" r="1.3" fill="#f7d83a"/>
<circle cx="84.8" cy="23.9" r="1.3" fill="#8c6dc2"/>
<circle cx="81.7" cy="157.7" r="1.3" fill="#fff"/>
<circle cx="87.2" cy="153.1" r="1.3" fill="#f7d83a"/>
<circle cx="85.9" cy="135.1" r="1.3" fill="#8c6dc2"/>
<circle cx="88.1" cy="145.7" r="1.3" fill="#fff"/>
<circle cx="80.8" cy="111.5" r="1.3" fill="#f7d83a"/>
<circle cx="82.8" cy="116.7" r="1.3" fill="#8c6dc2"/>
<circle cx="82.9" cy="97.5" r="1.3" fill="#fff"/>
<circle cx="88.4" cy="108.6" r="1.3" fill="#f7d83a"/>
<circle cx="82.7" cy="94.4" r="1.3" fill="#8c6dc2"/>
<circle cx="84.2" cy="155.1" r="1.3" fill="#fff"/>
<rect x="91" y="20" width="7" height="143" fill="#fff"/>
<circle cx="93.5" cy="64.1" r="1.3" fill="#e3d0f2"/>
<circle cx="95.2" cy="38.0" r="1.3" fill="#f7cfe0"/>
<circle cx="94.9" cy="155.8" r="1.3" fill="#e3d0f2"/>
<circle cx="94.6" cy="58.8" r="1.3" fill="#f7cfe0"/>
<circle cx="94.3" cy="96.3" r="1.3" fill="#e3d0f2"/>
<circle cx="92.9" cy="38.5" r="1.3" fill="#f7cfe0"/>
<circle cx="92.8" cy="62.4" r="1.3" fill="#e3d0f2"/>
<circle cx="94.1" cy="61.7" r="1.3" fill="#f7cfe0"/>
<circle cx="93.3" cy="33.4" r="1.3" fill="#e3d0f2"/>
<circle cx="94.7" cy="139.4" r="1.3" fill="#f7cfe0"/>
<circle cx="95.0" cy="101.4" r="1.3" fill="#e3d0f2"/>
<circle cx="95.2" cy="49.4" r="1.3" fill="#f7cfe0"/>
<circle cx="95.5" cy="86.0" r="1.3" fill="#e3d0f2"/>
<circle cx="94.7" cy="107.4" r="1.3" fill="#f7cfe0"/>
<circle cx="94.4" cy="64.8" r="1.3" fill="#e3d0f2"/>
<circle cx="93.3" cy="52.2" r="1.3" fill="#f7cfe0"/>
<circle cx="94.6" cy="75.0" r="1.3" fill="#e3d0f2"/>
<circle cx="94.9" cy="22.7" r="1.3" fill="#f7cfe0"/>
<circle cx="93.8" cy="142.5" r="1.3" fill="#e3d0f2"/>
<circle cx="93.3" cy="99.5" r="1.3" fill="#f7cfe0"/>
<circle cx="94.5" cy="61.2" r="1.3" fill="#e3d0f2"/>
<circle cx="96.7" cy="62.7" r="1.3" fill="#f7cfe0"/>
<circle cx="95.8" cy="43.4" r="1.3" fill="#e3d0f2"/>
<circle cx="92.5" cy="143.8" r="1.3" fill="#f7cfe0"/>
<circle cx="94.2" cy="29.7" r="1.3" fill="#e3d0f2"/>
<circle cx="94.0" cy="83.0" r="1.3" fill="#f7cfe0"/>
<circle cx="95.6" cy="36.4" r="1.3" fill="#e3d0f2"/>
<circle cx="93.2" cy="156.3" r="1.3" fill="#f7cfe0"/>
<circle cx="95.6" cy="42.8" r="1.3" fill="#e3d0f2"/>
<circle cx="93.8" cy="70.7" r="1.3" fill="#f7cfe0"/>
<circle cx="95.3" cy="107.9" r="1.3" fill="#e3d0f2"/>
<circle cx="96.1" cy="136.8" r="1.3" fill="#f7cfe0"/>
<circle cx="94.6" cy="125.2" r="1.3" fill="#e3d0f2"/>
<circle cx="95.6" cy="128.1" r="1.3" fill="#f7cfe0"/>
<circle cx="94.4" cy="131.7" r="1.3" fill="#e3d0f2"/>
<circle cx="95.5" cy="150.0" r="1.3" fill="#f7cfe0"/>
<circle cx="92.8" cy="143.8" r="1.3" fill="#e3d0f2"/>
<circle cx="92.2" cy="129.0" r="1.3" fill="#f7cfe0"/>
<circle cx="94.9" cy="91.2" r="1.3" fill="#e3d0f2"/>
<circle cx="96.6" cy="101.6" r="1.3" fill="#f7cfe0"/>
<circle cx="94.1" cy="131.5" r="1.3" fill="#e3d0f2"/>
<rect x="98.6" y="20" width="6.8" height="143" fill="#8c6dc2"/>
<circle cx="103.6" cy="106.6" r="1.3" fill="#f7d83a"/>
<circle cx="101.5" cy="84.8" r="1.3" fill="#e56aa7"/>
<circle cx="101.8" cy="123.0" r="1.3" fill="#7b97d9"/>
<circle cx="101.1" cy="76.1" r="1.3" fill="#1ea98b"/>
<circle cx="102.2" cy="75.2" r="1.3" fill="#f7d83a"/>
<circle cx="101.2" cy="132.0" r="1.3" fill="#e56aa7"/>
<circle cx="103.5" cy="91.4" r="1.3" fill="#7b97d9"/>
<circle cx="101.8" cy="47.0" r="1.3" fill="#1ea98b"/>
<circle cx="101.1" cy="41.4" r="1.3" fill="#f7d83a"/>
<circle cx="102.3" cy="103.0" r="1.3" fill="#e56aa7"/>
<circle cx="100.2" cy="150.7" r="1.3" fill="#7b97d9"/>
<circle cx="101.2" cy="139.9" r="1.3" fill="#1ea98b"/>
<circle cx="103.5" cy="156.2" r="1.3" fill="#f7d83a"/>
<circle cx="100.7" cy="81.1" r="1.3" fill="#e56aa7"/>
<circle cx="103.8" cy="22.5" r="1.3" fill="#7b97d9"/>
<circle cx="100.0" cy="100.7" r="1.3" fill="#1ea98b"/>
<circle cx="102.0" cy="150.8" r="1.3" fill="#f7d83a"/>
<circle cx="103.2" cy="96.9" r="1.3" fill="#e56aa7"/>
<circle cx="104.2" cy="94.0" r="1.3" fill="#7b97d9"/>
<circle cx="102.1" cy="117.6" r="1.3" fill="#1ea98b"/>
<circle cx="101.5" cy="71.4" r="1.3" fill="#f7d83a"/>
<circle cx="102.4" cy="70.5" r="1.3" fill="#e56aa7"/>
<circle cx="104.0" cy="116.4" r="1.3" fill="#7b97d9"/>
<circle cx="102.1" cy="35.0" r="1.3" fill="#1ea98b"/>
<circle cx="101.4" cy="77.5" r="1.3" fill="#f7d83a"/>
<circle cx="102.3" cy="101.9" r="1.3" fill="#e56aa7"/>
<circle cx="103.7" cy="157.0" r="1.3" fill="#7b97d9"/>
<circle cx="101.9" cy="83.1" r="1.3" fill="#1ea98b"/>
<circle cx="102.5" cy="161.5" r="1.3" fill="#f7d83a"/>
<circle cx="101.3" cy="95.7" r="1.3" fill="#e56aa7"/>
<circle cx="103.4" cy="45.1" r="1.3" fill="#7b97d9"/>
<circle cx="101.2" cy="159.0" r="1.3" fill="#1ea98b"/>
<circle cx="103.4" cy="93.3" r="1.3" fill="#f7d83a"/>
<circle cx="100.3" cy="147.1" r="1.3" fill="#e56aa7"/>
<circle cx="102.8" cy="136.7" r="1.3" fill="#7b97d9"/>
<circle cx="104.2" cy="146.2" r="1.3" fill="#1ea98b"/>
<circle cx="101.7" cy="43.1" r="1.3" fill="#f7d83a"/>
<circle cx="101.1" cy="93.1" r="1.3" fill="#e56aa7"/>
<circle cx="102.0" cy="47.5" r="1.3" fill="#7b97d9"/>
<circle cx="100.6" cy="109.8" r="1.3" fill="#1ea98b"/>
<circle cx="102.5" cy="70.8" r="1.3" fill="#f7d83a"/>
<circle cx="104.2" cy="110.7" r="1.3" fill="#e56aa7"/>
<circle cx="100.0" cy="79.0" r="1.3" fill="#7b97d9"/>
<circle cx="103.3" cy="64.3" r="1.3" fill="#1ea98b"/>
<circle cx="102.8" cy="21.6" r="1.3" fill="#f7d83a"/>
<circle cx="101.1" cy="139.7" r="1.3" fill="#e56aa7"/>
<circle cx="102.4" cy="115.2" r="1.3" fill="#7b97d9"/>
<circle cx="100.7" cy="91.2" r="1.3" fill="#1ea98b"/>
<circle cx="102.2" cy="58.5" r="1.3" fill="#f7d83a"/>
<circle cx="102.6" cy="95.9" r="1.3" fill="#e56aa7"/>
<circle cx="104.2" cy="102.0" r="1.3" fill="#7b97d9"/>
<circle cx="101.6" cy="38.1" r="1.3" fill="#1ea98b"/>
<circle cx="100.5" cy="128.1" r="1.3" fill="#f7d83a"/>
<circle cx="100.3" cy="35.1" r="1.3" fill="#e56aa7"/>
<circle cx="100.6" cy="94.7" r="1.3" fill="#7b97d9"/>
<circle cx="103.4" cy="107.4" r="1.3" fill="#1ea98b"/>
<circle cx="103.3" cy="29.8" r="1.3" fill="#f7d83a"/>
<circle cx="99.9" cy="129.7" r="1.3" fill="#e56aa7"/>
<circle cx="101.2" cy="121.9" r="1.3" fill="#7b97d9"/>
<circle cx="101.4" cy="44.9" r="1.3" fill="#1ea98b"/>
<circle cx="101.0" cy="35.0" r="1.3" fill="#f7d83a"/>
<circle cx="103.8" cy="103.1" r="1.3" fill="#e56aa7"/>
<circle cx="101.3" cy="84.4" r="1.3" fill="#7b97d9"/>
<circle cx="101.5" cy="28.7" r="1.3" fill="#1ea98b"/>
<circle cx="103.7" cy="103.2" r="1.3" fill="#f7d83a"/>
<circle cx="104.0" cy="83.0" r="1.3" fill="#e56aa7"/>
<circle cx="102.5" cy="56.2" r="1.3" fill="#7b97d9"/>
<circle cx="100.0" cy="152.2" r="1.3" fill="#1ea98b"/>
<circle cx="103.6" cy="65.4" r="1.3" fill="#f7d83a"/>
<circle cx="103.8" cy="136.0" r="1.3" fill="#e56aa7"/>
<circle cx="101.1" cy="106.0" r="1.3" fill="#7b97d9"/>
<circle cx="104.0" cy="90.9" r="1.3" fill="#1ea98b"/>
<circle cx="104.0" cy="55.3" r="1.3" fill="#f7d83a"/>
<circle cx="101.5" cy="122.3" r="1.3" fill="#e56aa7"/>
<circle cx="100.8" cy="64.6" r="1.3" fill="#7b97d9"/>
<circle cx="103.7" cy="89.3" r="1.3" fill="#1ea98b"/>
<circle cx="103.3" cy="55.3" r="1.3" fill="#f7d83a"/>
<circle cx="100.6" cy="71.5" r="1.3" fill="#e56aa7"/>
<circle cx="100.6" cy="158.0" r="1.3" fill="#7b97d9"/>
<circle cx="101.1" cy="100.2" r="1.3" fill="#1ea98b"/>
<circle cx="100.3" cy="96.3" r="1.3" fill="#f7d83a"/>
<circle cx="101.5" cy="77.9" r="1.3" fill="#e56aa7"/>
<circle cx="100.1" cy="38.4" r="1.3" fill="#7b97d9"/>
<circle cx="103.4" cy="70.5" r="1.3" fill="#1ea98b"/>
<circle cx="100.9" cy="48.0" r="1.3" fill="#f7d83a"/>
<circle cx="101.0" cy="54.4" r="1.3" fill="#e56aa7"/>
<circle cx="100.0" cy="114.7" r="1.3" fill="#7b97d9"/>
<circle cx="101.3" cy="43.0" r="1.3" fill="#1ea98b"/>
<circle cx="102.9" cy="34.1" r="1.3" fill="#f7d83a"/>
<circle cx="101.0" cy="138.7" r="1.3" fill="#e56aa7"/>
<circle cx="100.4" cy="83.5" r="1.3" fill="#7b97d9"/>
<circle cx="103.5" cy="134.5" r="1.3" fill="#1ea98b"/>
<circle cx="100.5" cy="70.8" r="1.3" fill="#f7d83a"/>
<circle cx="103.0" cy="74.1" r="1.3" fill="#e56aa7"/>
<circle cx="104.0" cy="50.3" r="1.3" fill="#7b97d9"/>
<circle cx="104.0" cy="92.2" r="1.3" fill="#1ea98b"/>
<circle cx="100.8" cy="84.8" r="1.3" fill="#f7d83a"/>
<circle cx="100.4" cy="120.6" r="1.3" fill="#e56aa7"/>
<circle cx="100.9" cy="147.8" r="1.3" fill="#7b97d9"/>
<circle cx="102.4" cy="72.9" r="1.3" fill="#1ea98b"/>
<circle cx="100.9" cy="106.8" r="1.3" fill="#f7d83a"/>
<circle cx="100.7" cy="144.0" r="1.3" fill="#e56aa7"/>
<circle cx="100.3" cy="93.3" r="1.3" fill="#7b97d9"/>
<circle cx="102.2" cy="59.1" r="1.3" fill="#1ea98b"/>
<circle cx="103.2" cy="75.3" r="1.3" fill="#f7d83a"/>
<circle cx="102.7" cy="101.0" r="1.3" fill="#e56aa7"/>
<circle cx="101.2" cy="76.0" r="1.3" fill="#7b97d9"/>
<circle cx="100.2" cy="46.0" r="1.3" fill="#1ea98b"/>
<circle cx="103.5" cy="66.3" r="1.3" fill="#f7d83a"/>
<circle cx="102.7" cy="36.4" r="1.3" fill="#e56aa7"/>
<circle cx="102.3" cy="72.0" r="1.3" fill="#7b97d9"/>
<circle cx="102.0" cy="62.9" r="1.3" fill="#1ea98b"/>
<circle cx="100.1" cy="64.9" r="1.3" fill="#f7d83a"/>
<circle cx="100.8" cy="38.8" r="1.3" fill="#e56aa7"/>
<circle cx="103.0" cy="60.8" r="1.3" fill="#7b97d9"/>
<circle cx="101.6" cy="149.2" r="1.3" fill="#1ea98b"/>
<circle cx="103.2" cy="145.5" r="1.3" fill="#f7d83a"/>
<circle cx="103.6" cy="39.6" r="1.3" fill="#e56aa7"/>
<circle cx="101.0" cy="25.2" r="1.3" fill="#7b97d9"/>
<circle cx="102.8" cy="114.6" r="1.3" fill="#1ea98b"/>
<circle cx="101.3" cy="79.2" r="1.3" fill="#f7d83a"/>
<circle cx="102.7" cy="119.6" r="1.3" fill="#e56aa7"/>
<circle cx="100.9" cy="140.4" r="1.3" fill="#7b97d9"/>
<circle cx="101.3" cy="109.7" r="1.3" fill="#1ea98b"/>
<circle cx="100.6" cy="37.2" r="1.3" fill="#f7d83a"/>
<circle cx="103.8" cy="124.5" r="1.3" fill="#e56aa7"/>
<circle cx="102.9" cy="26.7" r="1.3" fill="#7b97d9"/>
<circle cx="100.0" cy="43.8" r="1.3" fill="#1ea98b"/>
<circle cx="100.7" cy="63.7" r="1.3" fill="#f7d83a"/>
<rect x="106" y="20" width="7" height="143" fill="#fff"/>
<circle cx="109.0" cy="26.5" r="1.3" fill="#e3d0f2"/>
<circle cx="108.6" cy="111.0" r="1.3" fill="#f7cfe0"/>
<circle cx="108.0" cy="139.4" r="1.3" fill="#e3d0f2"/>
<circle cx="109.8" cy="122.0" r="1.3" fill="#f7cfe0"/>
<circle cx="108.4" cy="82.3" r="1.3" fill="#e3d0f2"/>
<circle cx="110.3" cy="70.2" r="1.3" fill="#f7cfe0"/>
<circle cx="107.2" cy="138.6" r="1.3" fill="#e3d0f2"/>
<circle cx="110.8" cy="61.4" r="1.3" fill="#f7cfe0"/>
<circle cx="107.4" cy="141.4" r="1.3" fill="#e3d0f2"/>
<circle cx="110.0" cy="27.7" r="1.3" fill="#f7cfe0"/>
<circle cx="108.3" cy="36.7" r="1.3" fill="#e3d0f2"/>
<circle cx="110.8" cy="50.6" r="1.3" fill="#f7cfe0"/>
<circle cx="111.4" cy="126.7" r="1.3" fill="#e3d0f2"/>
<circle cx="107.6" cy="118.9" r="1.3" fill="#f7cfe0"/>
<circle cx="109.0" cy="126.4" r="1.3" fill="#e3d0f2"/>
<circle cx="111.0" cy="60.6" r="1.3" fill="#f7cfe0"/>
<circle cx="107.6" cy="154.4" r="1.3" fill="#e3d0f2"/>
<circle cx="109.2" cy="152.2" r="1.3" fill="#f7cfe0"/>
<circle cx="110.4" cy="125.1" r="1.3" fill="#e3d0f2"/>
<circle cx="111.0" cy="109.6" r="1.3" fill="#f7cfe0"/>
<circle cx="109.3" cy="28.7" r="1.3" fill="#e3d0f2"/>
<circle cx="110.4" cy="81.4" r="1.3" fill="#f7cfe0"/>
<circle cx="109.6" cy="151.9" r="1.3" fill="#e3d0f2"/>
<circle cx="107.8" cy="128.4" r="1.3" fill="#f7cfe0"/>
<circle cx="107.4" cy="120.1" r="1.3" fill="#e3d0f2"/>
<circle cx="110.9" cy="57.8" r="1.3" fill="#f7cfe0"/>
<circle cx="109.7" cy="157.7" r="1.3" fill="#e3d0f2"/>
<circle cx="110.1" cy="97.7" r="1.3" fill="#f7cfe0"/>
<circle cx="108.3" cy="29.4" r="1.3" fill="#e3d0f2"/>
<circle cx="108.8" cy="79.0" r="1.3" fill="#f7cfe0"/>
<circle cx="108.1" cy="64.8" r="1.3" fill="#e3d0f2"/>
<circle cx="107.8" cy="120.7" r="1.3" fill="#f7cfe0"/>
<circle cx="110.3" cy="54.5" r="1.3" fill="#e3d0f2"/>
<circle cx="108.3" cy="93.7" r="1.3" fill="#f7cfe0"/>
<circle cx="109.2" cy="153.0" r="1.3" fill="#e3d0f2"/>
<circle cx="108.8" cy="63.2" r="1.3" fill="#f7cfe0"/>
<circle cx="111.3" cy="41.0" r="1.3" fill="#e3d0f2"/>
<circle cx="109.8" cy="68.0" r="1.3" fill="#f7cfe0"/>
<circle cx="111.0" cy="98.3" r="1.3" fill="#e3d0f2"/>
<circle cx="110.7" cy="44.9" r="1.3" fill="#f7cfe0"/>
<circle cx="110.3" cy="105.4" r="1.3" fill="#e3d0f2"/>
<rect x="113.8" y="20" width="6.8" height="143" fill="#8c6dc2"/>
</g>
<g transform="translate(1100.5,875.7) rotate(-1.35) translate(-66.5,-87.5)">
<rect x="0" y="0" width="133" height="175" fill="#fff" stroke="#262626" stroke-width="1.7"/><rect x="4.6" y="4.6" width="123.8" height="165.8" fill="none" stroke="#262626" stroke-width="1.5"/>
<rect x="7.5" y="7.5" width="118.0" height="6" fill="url(#hdr)" opacity=".8"/>
<line x1="7.5" y1="13.8" x2="125.5" y2="13.8" stroke="#262626" stroke-width=".8"/>
<rect x="9.5" y="10.5" width="18" height="1.32" fill="#444" opacity=".55"/>
<rect x="56.5" y="9.9" width="14" height="1.7999999999999998" fill="#222" opacity=".6"/>
<rect x="105.5" y="10.2" width="17" height="1.32" fill="#444" opacity=".55"/>
<g transform="rotate(4 20.5 26.8)" opacity=".6"><rect x="18.9" y="17.3" width="1.5" height="18.9" fill="#8c6dc2"/><rect x="20.7" y="18.3" width="1.5" height="17.9" fill="#8c6dc2"/></g>
<rect x="15.5" y="37.0" width="5.0" height="8.0" rx="1" fill="#8c6dc2" stroke="#333" stroke-width=".45" transform="rotate(15 18.0 41.0)"/>
<polygon points="29.0,17.3 29.9,20.2 30.3,23.2 28.8,26.1 29.4,29.0 29.8,31.9 29.6,34.9 29.5,37.8 36.4,37.8 36.4,34.9 35.2,31.9 35.6,29.0 36.2,26.1 35.6,23.2 35.2,20.2 35.3,17.3" fill="#8c6dc2" opacity=".75"/>
<rect x="28.5" y="37.8" width="5.0" height="7.4" rx="1" fill="#8c6dc2" stroke="#333" stroke-width=".45" transform="rotate(15 31.0 41.5)"/>
<rect x="42.0" y="15.6" width="5.5" height="8.9" rx="1" fill="#e56aa7" stroke="#333" stroke-width=".45" transform="rotate(-15 44.8 20.1)"/>
<g transform="rotate(-3 47.5 34.1)" opacity=".6"><rect x="45.0" y="24.7" width="2.2" height="18.9" fill="#e56aa7"/><rect x="47.8" y="25.7" width="2.2" height="17.9" fill="#e56aa7"/></g>
<rect x="54.0" y="15.6" width="5.5" height="8.2" rx="1" fill="#e56aa7" stroke="#333" stroke-width=".45" transform="rotate(-15 56.8 19.7)"/>
<polygon points="56.4,22.0 56.4,25.1 56.4,28.2 58.8,31.3 58.5,34.3 57.2,37.4 58.8,40.5 59.6,43.6 63.7,43.6 64.6,40.5 63.6,37.4 63.6,34.3 64.1,31.3 63.1,28.2 64.2,25.1 62.0,22.0" fill="#e56aa7" opacity=".75"/>
<g transform="rotate(4 75.5 25.9)" opacity=".6"><rect x="73.0" y="15.6" width="2.2" height="20.6" fill="#7b97d9"/><rect x="75.8" y="16.6" width="2.2" height="19.6" fill="#7b97d9"/></g>
<rect x="70.7" y="35.4" width="5.3" height="7.4" rx="1" fill="#7b97d9" stroke="#333" stroke-width=".45" transform="rotate(15 73.3 39.1)"/>
<polygon points="83.8,15.6 84.0,18.8 85.0,21.9 84.5,25.1 83.6,28.3 83.9,31.5 83.8,34.6 83.7,37.8 90.9,37.8 90.5,34.6 91.9,31.5 92.0,28.3 90.6,25.1 89.9,21.9 89.5,18.8 91.4,15.6" fill="#7b97d9" opacity=".75"/>
<rect x="83.0" y="36.0" width="5.5" height="7.0" rx="1" fill="#7b97d9" stroke="#333" stroke-width=".45" transform="rotate(15 85.8 39.5)"/>
<rect x="97.0" y="14.0" width="5.5" height="9.0" rx="1" fill="#1ea98b" stroke="#333" stroke-width=".45" transform="rotate(-15 99.8 18.5)"/>
<g transform="rotate(-3 103.5 32.5)" opacity=".6"><rect x="101.0" y="23.0" width="2.2" height="19.0" fill="#1ea98b"/><rect x="103.8" y="24.0" width="2.2" height="18.0" fill="#1ea98b"/></g>
<rect x="110.0" y="13.5" width="5.5" height="8.5" rx="1" fill="#1ea98b" stroke="#333" stroke-width=".45" transform="rotate(-15 112.8 17.8)"/>
<polygon points="113.8,20.6 114.1,23.7 114.1,26.7 113.3,29.8 113.2,32.8 114.8,35.9 113.9,38.9 114.2,42.0 119.8,42.0 120.0,38.9 118.9,35.9 120.1,32.8 120.4,29.8 119.1,26.7 118.8,23.7 118.3,20.6" fill="#1ea98b" opacity=".75"/>
<g transform="rotate(4 20.5 59.8)" opacity=".6"><rect x="18.9" y="50.3" width="1.5" height="18.9" fill="#8c6dc2"/><rect x="20.7" y="51.3" width="1.5" height="17.9" fill="#8c6dc2"/></g>
<rect x="15.5" y="70.0" width="5.0" height="8.0" rx="1" fill="#8c6dc2" stroke="#333" stroke-width=".45" transform="rotate(15 18.0 74.0)"/>
<polygon points="29.6,50.3 30.2,53.2 30.5,56.2 29.7,59.1 29.9,62.0 29.3,64.9 29.8,67.9 30.7,70.8 36.8,70.8 35.3,67.9 36.4,64.9 35.6,62.0 34.3,59.1 36.2,56.2 36.1,53.2 35.1,50.3" fill="#8c6dc2" opacity=".75"/>
<rect x="28.5" y="70.8" width="5.0" height="7.4" rx="1" fill="#8c6dc2" stroke="#333" stroke-width=".45" transform="rotate(15 31.0 74.5)"/>
<rect x="42.0" y="48.6" width="5.5" height="8.9" rx="1" fill="#e56aa7" stroke="#333" stroke-width=".45" transform="rotate(-15 44.8 53.0)"/>
<g transform="rotate(-3 47.5 67.2)" opacity=".6"><rect x="45.0" y="57.7" width="2.2" height="18.9" fill="#e56aa7"/><rect x="47.8" y="58.7" width="2.2" height="17.9" fill="#e56aa7"/></g>
<rect x="54.0" y="48.6" width="5.5" height="8.2" rx="1" fill="#e56aa7" stroke="#333" stroke-width=".45" transform="rotate(-15 56.8 52.7)"/>
<polygon points="56.4,55.0 57.8,58.1 56.4,61.2 58.5,64.3 58.7,67.3 58.7,70.4 58.1,73.5 58.0,76.6 63.5,76.6 63.7,73.5 63.8,70.4 63.9,67.3 63.5,64.3 62.9,61.2 62.4,58.1 62.1,55.0" fill="#e56aa7" opacity=".75"/>
<g transform="rotate(4 75.5 58.9)" opacity=".6"><rect x="73.0" y="48.6" width="2.2" height="20.6" fill="#7b97d9"/><rect x="75.8" y="49.6" width="2.2" height="19.6" fill="#7b97d9"/></g>
<rect x="70.7" y="68.4" width="5.3" height="7.4" rx="1" fill="#7b97d9" stroke="#333" stroke-width=".45" transform="rotate(15 73.3 72.1)"/>
<polygon points="82.5,48.6 83.0,51.8 83.7,54.9 84.3,58.1 83.9,61.3 83.7,64.5 83.6,67.6 84.5,70.8 91.7,70.8 90.2,67.6 90.2,64.5 90.1,61.3 89.7,58.1 89.6,54.9 90.4,51.8 89.7,48.6" fill="#7b97d9" opacity=".75"/>
<rect x="83.0" y="69.0" width="5.5" height="7.0" rx="1" fill="#7b97d9" stroke="#333" stroke-width=".45" transform="rotate(15 85.8 72.5)"/>
<rect x="97.0" y="47.0" width="5.5" height="9.0" rx="1" fill="#1ea98b" stroke="#333" stroke-width=".45" transform="rotate(-15 99.8 51.5)"/>
<g transform="rotate(-3 103.5 65.5)" opacity=".6"><rect x="101.0" y="56.0" width="2.2" height="19.0" fill="#1ea98b"/><rect x="103.8" y="57.0" width="2.2" height="18.0" fill="#1ea98b"/></g>
<rect x="110.0" y="46.5" width="5.5" height="8.5" rx="1" fill="#1ea98b" stroke="#333" stroke-width=".45" transform="rotate(-15 112.8 50.8)"/>
<polygon points="112.1,53.6 113.7,56.7 113.8,59.7 113.2,62.8 114.1,65.8 115.1,68.9 114.2,71.9 114.8,75.0 120.3,75.0 120.1,71.9 118.8,68.9 120.6,65.8 120.1,62.8 118.8,59.7 119.2,56.7 119.9,53.6" fill="#1ea98b" opacity=".75"/>
<polygon points="22.0,87.7 25.0,87.0 28.0,87.5 31.0,87.1 34.0,87.4 37.0,87.5 40.0,87.0 43.0,86.3 43.0,94.1 40.0,92.3 37.0,93.2 34.0,94.3 31.0,92.4 28.0,93.9 25.0,94.4 22.0,93.2" fill="#e56aa7" opacity=".75"/>
<rect x="43.0" y="84.5" width="6.0" height="6.0" rx="1" fill="#8c6dc2" stroke="#333" stroke-width=".45" transform="rotate(-65 46.0 87.5)"/>
<rect x="55.0" y="83.0" width="6.0" height="6.5" rx="1" fill="#7b97d9" stroke="#333" stroke-width=".45" transform="rotate(-70 58.0 86.2)"/>
<g transform="rotate(0 74.2 88.5)" opacity=".6"><rect x="63.0" y="86.0" width="10.1" height="5.0" fill="#e56aa7"/><rect x="75.4" y="87.0" width="10.1" height="4.0" fill="#e56aa7"/></g>
<g transform="rotate(0 101.2 88.0)" opacity=".6"><rect x="90.5" y="85.5" width="9.7" height="5.0" fill="#7b97d9"/><rect x="102.3" y="86.5" width="9.7" height="4.0" fill="#7b97d9"/></g>
<rect x="113.0" y="80.5" width="6.0" height="7.5" rx="1" fill="#8c6dc2" stroke="#333" stroke-width=".45" transform="rotate(-65 116.0 84.2)"/>
<rect x="18.0" y="95.5" width="6.0" height="6.0" rx="1" fill="#8c6dc2" stroke="#333" stroke-width=".45" transform="rotate(-70 21.0 98.5)"/>
<g transform="rotate(0 35.2 100.8)" opacity=".6"><rect x="25.5" y="98.7" width="8.8" height="4.1" fill="#e56aa7"/><rect x="36.2" y="99.7" width="8.8" height="3.1" fill="#e56aa7"/></g>
<rect x="58.0" y="95.5" width="5.0" height="6.0" rx="1" fill="#7b97d9" stroke="#333" stroke-width=".45" transform="rotate(-70 60.5 98.5)"/>
<polygon points="64.0,96.6 67.0,97.2 69.9,97.4 72.9,96.6 75.8,97.4 78.8,96.3 81.7,97.3 84.7,97.5 84.7,104.2 81.7,103.4 78.8,104.2 75.8,103.3 72.9,102.2 69.9,103.0 67.0,102.6 64.0,102.5" fill="#8c6dc2" opacity=".75"/>
<polygon points="89.0,94.9 92.1,97.5 95.3,96.7 98.4,94.9 101.6,97.0 104.7,95.8 107.9,95.1 111.0,97.4 111.0,102.7 107.9,102.1 104.7,104.0 101.6,102.1 98.4,104.2 95.3,103.7 92.1,103.3 89.0,104.4" fill="#e56aa7" opacity=".75"/>
<rect x="113.0" y="92.5" width="6.0" height="7.0" rx="1" fill="#8c6dc2" stroke="#333" stroke-width=".45" transform="rotate(-65 116.0 96.0)"/>
<rect x="19.0" y="103.5" width="7.0" height="9.0" rx="1" fill="#1ea98b" stroke="#333" stroke-width=".45" transform="rotate(-65 22.5 108.0)"/>
<polygon points="27.0,106.8 31.9,105.2 36.7,105.6 41.6,107.2 46.4,106.1 51.3,107.9 56.1,106.9 61.0,107.9 61.0,115.4 56.1,114.0 51.3,114.2 46.4,116.9 41.6,114.6 36.7,116.2 31.9,114.6 27.0,114.9" fill="#1ea98b" opacity=".75"/>
<g transform="rotate(-2 95.8 112.7)" opacity=".6"><rect x="80.6" y="109.4" width="13.7" height="6.6" fill="#1ea98b"/><rect x="97.3" y="110.4" width="13.7" height="5.6" fill="#1ea98b"/></g>
<rect x="112.0" y="102.5" width="7.0" height="9.0" rx="1" fill="#1ea98b" stroke="#333" stroke-width=".45" transform="rotate(-65 115.5 107.0)"/>
<g transform="rotate(3 26.5 137.2)" opacity=".6"><rect x="23.0" y="122.5" width="3.1" height="29.5" fill="#8c6dc2"/><rect x="26.9" y="123.5" width="3.1" height="28.5" fill="#8c6dc2"/></g>
<rect x="19.5" y="153.0" width="6.0" height="12.0" rx="1" fill="#8c6dc2" stroke="#333" stroke-width=".45" transform="rotate(15 22.5 159.0)"/>
<rect x="35.0" y="121.7" width="6.5" height="12.3" rx="1" fill="#8c6dc2" stroke="#333" stroke-width=".45" transform="rotate(-20 38.2 127.8)"/>
<polygon points="38.4,130.0 36.2,134.9 37.4,139.9 39.0,144.8 40.1,149.7 39.6,154.6 37.4,159.6 39.8,164.5 49.6,164.5 47.8,159.6 46.7,154.6 49.0,149.7 45.8,144.8 46.5,139.9 47.8,134.9 47.8,130.0" fill="#8c6dc2" opacity=".75"/>
<g transform="rotate(-3 58.8 136.8)" opacity=".6"><rect x="55.0" y="121.7" width="3.4" height="30.3" fill="#e56aa7"/><rect x="59.1" y="122.7" width="3.4" height="29.3" fill="#e56aa7"/></g>
<rect x="60.0" y="152.0" width="7.0" height="11.7" rx="1" fill="#e56aa7" stroke="#333" stroke-width=".45" transform="rotate(-20 63.5 157.8)"/>
<polygon points="74.0,121.0 75.8,125.7 75.1,130.3 73.8,135.0 73.7,139.7 74.4,144.4 77.2,149.0 75.3,153.7 85.0,153.7 85.7,149.0 84.1,144.4 85.0,139.7 85.6,135.0 82.8,130.3 83.8,125.7 83.0,121.0" fill="#e56aa7" opacity=".75"/>
<rect x="81.0" y="153.0" width="6.5" height="9.8" rx="1" fill="#e56aa7" stroke="#333" stroke-width=".45" transform="rotate(-15 84.2 157.9)"/>
<g transform="rotate(3 101.2 135.0)" opacity=".6"><rect x="98.0" y="121.0" width="2.9" height="28.0" fill="#7b97d9"/><rect x="101.5" y="122.0" width="2.9" height="27.0" fill="#7b97d9"/></g>
<rect x="95.0" y="149.0" width="6.5" height="13.0" rx="1" fill="#7b97d9" stroke="#333" stroke-width=".45" transform="rotate(15 98.2 155.5)"/>
<polygon points="112.0,120.0 112.9,124.7 109.7,129.4 111.2,134.1 110.9,138.9 112.5,143.6 114.2,148.3 114.3,153.0 123.9,153.0 123.1,148.3 120.5,143.6 120.8,138.9 121.7,134.1 121.1,129.4 122.1,124.7 119.3,120.0" fill="#7b97d9" opacity=".75"/>
<rect x="111.5" y="152.0" width="6.5" height="10.0" rx="1" fill="#7b97d9" stroke="#333" stroke-width=".45" transform="rotate(15 114.8 157.0)"/>
</g>
<g transform="translate(1259.8,879.9) rotate(-4.22) translate(-66.5,-88.0)">
<rect x="0" y="0" width="133" height="176" fill="#fff" stroke="#262626" stroke-width="1.7"/><rect x="4.6" y="4.6" width="123.8" height="166.8" fill="none" stroke="#262626" stroke-width="1.5"/>
<rect x="12" y="39" width="109" height="98" fill="#fff" stroke="#e6e6e6" stroke-width=".7"/>
<rect x="13.3" y="39.3" width="107.7" height="13.5" fill="url(#hdr)" opacity=".8"/>
<line x1="13.3" y1="53.099999999999994" x2="121" y2="53.099999999999994" stroke="#262626" stroke-width=".8"/>
<rect x="15.3" y="46.05" width="18" height="2.97" fill="#444" opacity=".55"/>
<rect x="57.150000000000006" y="44.699999999999996" width="14" height="4.05" fill="#222" opacity=".6"/>
<rect x="101" y="45.375" width="17" height="2.97" fill="#444" opacity=".55"/>
<rect x="33" y="56.5" width="18" height="1.6" fill="#222"/>
<rect x="19.7" y="60.5" width="45.4" height="3.2" rx="1.5" fill="#8c6dc2" opacity=".8"/>
<rect x="20.3" y="63.3" width="41.4" height="3.2" rx="1.5" fill="#8c6dc2" opacity=".8"/>
<rect x="19.5" y="66.1" width="42.1" height="3.2" rx="1.5" fill="#8c6dc2" opacity=".8"/>
<rect x="83" y="56.5" width="18" height="1.6" fill="#222"/>
<rect x="71.2" y="60.5" width="43.9" height="3.2" rx="1.5" fill="#8c6dc2" opacity=".8"/>
<rect x="68.6" y="63.3" width="41.8" height="3.2" rx="1.5" fill="#8c6dc2" opacity=".8"/>
<rect x="69.6" y="66.1" width="43.3" height="3.2" rx="1.5" fill="#8c6dc2" opacity=".8"/>
<rect x="33" y="76.0" width="18" height="1.6" fill="#222"/>
<rect x="20.2" y="80.0" width="42.9" height="3.2" rx="1.5" fill="#e56aa7" opacity=".8"/>
<rect x="19.6" y="82.8" width="41.0" height="3.2" rx="1.5" fill="#e56aa7" opacity=".8"/>
<rect x="20.2" y="85.6" width="42.7" height="3.2" rx="1.5" fill="#e56aa7" opacity=".8"/>
<rect x="83" y="76.0" width="18" height="1.6" fill="#222"/>
<rect x="68.6" y="80.0" width="43.3" height="3.2" rx="1.5" fill="#e56aa7" opacity=".8"/>
<rect x="71.5" y="82.8" width="41.2" height="3.2" rx="1.5" fill="#e56aa7" opacity=".8"/>
<rect x="68.9" y="85.6" width="44.4" height="3.2" rx="1.5" fill="#e56aa7" opacity=".8"/>
<rect x="33" y="95.5" width="18" height="1.6" fill="#222"/>
<rect x="19.3" y="99.5" width="42.4" height="3.2" rx="1.5" fill="#7b97d9" opacity=".8"/>
<rect x="20.0" y="102.3" width="42.3" height="3.2" rx="1.5" fill="#7b97d9" opacity=".8"/>
<rect x="20.2" y="105.1" width="43.6" height="3.2" rx="1.5" fill="#7b97d9" opacity=".8"/>
<rect x="83" y="95.5" width="18" height="1.6" fill="#222"/>
<rect x="71.4" y="99.5" width="46.0" height="3.2" rx="1.5" fill="#7b97d9" opacity=".8"/>
<rect x="68.6" y="102.3" width="43.8" height="3.2" rx="1.5" fill="#7b97d9" opacity=".8"/>
<rect x="70.8" y="105.1" width="45.4" height="3.2" rx="1.5" fill="#7b97d9" opacity=".8"/>
<rect x="33" y="115.0" width="18" height="1.6" fill="#222"/>
<rect x="20.8" y="119.0" width="44.2" height="3.2" rx="1.5" fill="#1ea98b" opacity=".8"/>
<rect x="20.4" y="121.8" width="42.8" height="3.2" rx="1.5" fill="#1ea98b" opacity=".8"/>
<rect x="19.3" y="124.6" width="45.0" height="3.2" rx="1.5" fill="#1ea98b" opacity=".8"/>
<rect x="83" y="115.0" width="18" height="1.6" fill="#222"/>
<rect x="71.1" y="119.0" width="45.7" height="3.2" rx="1.5" fill="#1ea98b" opacity=".8"/>
<rect x="70.5" y="121.8" width="42.5" height="3.2" rx="1.5" fill="#1ea98b" opacity=".8"/>
<rect x="70.8" y="124.6" width="44.7" height="3.2" rx="1.5" fill="#1ea98b" opacity=".8"/>
</g>
<g fill="#0a0a0a" stroke="#0a0a0a" stroke-width="0.7" text-anchor="middle" font-size="23">
<text x="746.5" y="334">a</text>
<text x="904.0" y="267">b</text>
<text x="1070.0" y="368.2">c</text>
<text x="1223.0" y="275.3">d</text>
<text x="751.7" y="463.4">e</text>
<text x="920.0" y="460">f</text>
<text x="1081.2" y="580.5">g</text>
<text x="1232.3" y="451.8">h</text>
<text x="708.8" y="655.3">i</text>
<text x="873.5" y="683.5">j</text>
<text x="1044.0" y="647.2">k</text>
<text x="1204.6" y="664.2">l</text>
<text x="840.0" y="955.3">m</text>
<text x="1021.1" y="835.3">n</text>
<text x="1337.0" y="846.3">o</text>
</g>
</g>
</svg></body></html>
